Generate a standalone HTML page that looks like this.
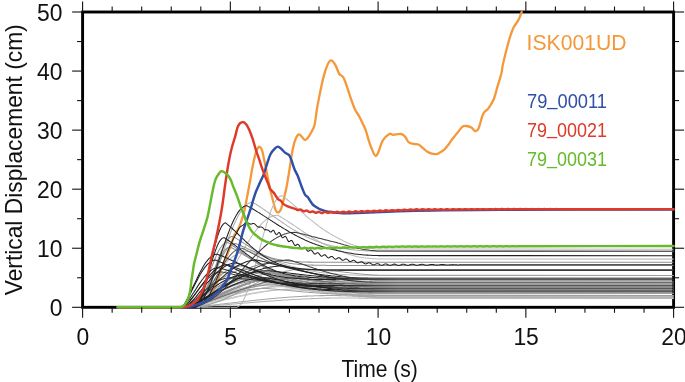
<!DOCTYPE html>
<html><head><meta charset="utf-8"><style>
html,body{margin:0;padding:0;background:#fff;}
svg{display:block;}
text{font-family:"Liberation Sans",sans-serif;}
.t{will-change:transform;}
</style></head><body>
<svg width="685" height="382" viewBox="0 0 685 382">
<rect width="685" height="382" fill="#fff"/>
<rect x="82.60" y="12.00" width="591.00" height="295.30" fill="none" stroke="#000" stroke-width="2.9"/>
<path d="M117.7,307.3 C128.6,307.3 170.9,307.5 183.0,307.3 C186.5,307.3 187.6,306.8 190.0,306.3 C192.4,305.8 195.0,305.4 197.3,304.4 C199.6,303.4 202.1,301.5 204.0,300.2 C205.9,298.9 207.0,298.2 208.6,296.6 C210.2,295.0 211.9,292.7 213.4,290.3 C214.9,287.9 216.4,284.3 217.3,282.1 C218.1,280.2 218.4,278.8 218.9,277.1 C219.4,275.4 220.0,273.7 220.5,272.0 C221.0,270.3 221.4,268.7 222.0,267.0 C222.6,265.3 223.1,263.9 223.9,262.0 C224.7,260.1 225.9,257.7 226.7,255.9 C227.5,254.1 228.0,252.8 228.6,251.2 C229.2,249.6 229.9,248.2 230.5,246.5 C231.1,244.8 231.8,242.5 232.4,240.8 C233.0,239.1 233.2,237.5 233.8,236.1 C234.4,234.7 235.3,233.7 236.1,232.4 C236.9,231.2 237.7,230.3 238.5,228.6 C239.3,226.9 240.3,224.1 241.0,222.0 C241.7,219.9 242.2,218.4 242.8,216.3 C243.4,214.2 244.1,212.1 244.6,209.7 C245.1,207.3 245.6,204.6 246.1,202.0 C246.6,199.4 247.1,196.9 247.6,194.3 C248.1,191.7 248.6,189.0 249.0,186.6 C249.4,184.2 249.8,182.7 250.3,180.0 C250.8,177.3 251.1,174.6 251.8,170.7 C252.6,166.7 253.9,159.9 254.9,156.1 C255.9,152.3 257.1,149.2 258.0,147.7 C258.9,146.2 259.4,146.8 260.1,147.3 C260.8,147.8 261.5,148.6 262.2,150.8 C262.9,153.0 263.6,157.0 264.3,160.3 C265.0,163.6 265.7,167.2 266.4,170.7 C267.1,174.2 267.9,178.0 268.5,181.2 C269.1,184.4 269.4,186.4 270.2,190.0 C271.1,193.6 272.7,199.6 273.6,203.0 C274.5,206.4 275.0,208.8 275.7,210.4 C276.4,212.0 277.0,212.5 277.8,212.5 C278.6,212.5 279.6,211.8 280.4,210.4 C281.2,209.0 281.8,206.6 282.5,204.1 C283.2,201.6 283.9,198.7 284.6,195.7 C285.3,192.7 286.0,190.1 286.7,186.3 C287.4,182.5 288.2,177.8 289.0,172.8 C289.8,167.8 290.6,161.3 291.5,156.1 C292.4,150.9 293.6,144.9 294.7,141.4 C295.8,137.9 296.9,136.2 297.8,135.1 C298.7,134.0 299.0,134.2 299.9,134.7 C300.8,135.2 302.2,137.4 303.1,138.3 C304.0,139.2 304.3,140.2 305.2,140.0 C306.1,139.8 307.3,138.5 308.3,137.2 C309.3,135.9 310.3,134.1 311.4,132.0 C312.4,129.9 313.7,128.4 314.6,124.7 C315.5,121.0 316.0,115.0 316.8,110.0 C317.6,105.0 318.5,100.6 319.6,95.0 C320.7,89.4 322.3,81.6 323.6,76.6 C324.9,71.6 326.3,67.6 327.5,64.9 C328.7,62.2 329.6,60.4 330.9,60.4 C332.2,60.4 333.9,62.6 335.3,64.9 C336.7,67.2 338.0,72.0 339.3,74.0 C340.6,76.0 341.9,75.0 343.2,77.2 C344.5,79.4 345.8,83.5 347.1,87.1 C348.4,90.7 349.7,95.2 351.0,98.9 C352.3,102.6 353.7,106.6 355.0,109.4 C356.3,112.2 357.6,113.5 358.9,115.9 C360.2,118.3 361.7,121.4 362.8,123.8 C363.9,126.2 364.6,126.9 365.7,130.1 C366.8,133.3 368.3,139.4 369.6,143.2 C370.9,147.0 372.5,150.9 373.5,153.0 C374.5,155.1 374.9,156.2 375.8,156.0 C376.7,155.8 377.5,154.1 378.6,151.5 C379.8,148.9 380.9,143.5 382.7,140.6 C384.5,137.7 387.6,135.0 389.3,134.0 C391.1,133.0 391.2,134.8 393.2,134.8 C395.1,134.8 399.0,133.7 401.0,134.0 C403.0,134.3 403.7,135.2 405.0,136.6 C406.3,138.0 407.4,141.2 408.9,142.4 C410.4,143.6 412.5,143.7 414.1,144.0 C415.7,144.3 417.1,143.8 418.6,144.5 C420.1,145.2 421.7,147.1 423.3,148.4 C424.9,149.7 426.5,151.4 428.5,152.4 C430.5,153.4 433.4,154.1 435.1,154.2 C436.9,154.3 437.5,153.8 439.0,153.1 C440.5,152.3 442.4,151.3 444.2,149.7 C445.9,148.0 448.2,144.8 449.5,143.2 C450.6,141.7 450.6,141.3 451.8,139.8 C453.1,138.2 455.2,135.5 457.0,133.3 C458.8,131.1 460.8,128.0 462.3,126.8 C463.8,125.6 464.7,125.9 466.2,126.0 C467.7,126.1 469.9,126.6 471.4,127.5 C472.9,128.4 474.1,131.1 475.3,131.2 C476.5,131.3 477.4,131.0 478.7,128.1 C480.0,125.2 481.6,117.0 483.2,113.7 C484.8,110.4 486.6,110.8 488.4,108.4 C490.1,106.0 492.2,103.0 493.7,99.3 C495.2,95.6 496.3,90.6 497.6,86.2 C498.9,81.8 500.6,76.6 501.5,73.1 C502.1,70.4 502.1,67.9 502.8,64.9 C503.8,60.4 506.2,50.8 507.5,45.8 C508.8,40.8 509.6,37.9 510.7,34.8 C511.8,31.7 512.5,29.5 513.8,27.0 C515.1,24.5 517.2,22.4 518.5,19.9 C519.8,17.4 521.2,13.3 521.7,12.0" stroke="#F4983A" fill="none" stroke-width="2.3" stroke-linejoin="round" stroke-linecap="round"/>
<g fill="none" stroke-width="1.05" stroke-linejoin="round" stroke-linecap="butt">
<path d="M118.1,307.3 L119.2,307.3 L120.4,307.3 L121.6,307.3 L122.8,307.3 L124.0,307.3 L125.2,307.3 L126.3,307.3 L127.5,307.3 L128.7,307.3 L129.9,307.3 L131.1,307.3 L132.2,307.3 L133.4,307.3 L134.6,307.3 L135.8,307.3 L137.0,307.3 L138.2,307.3 L139.3,307.3 L140.5,307.3 L141.7,307.3 L142.9,307.3 L144.1,307.3 L145.2,307.3 L146.4,307.3 L147.6,307.3 L148.8,307.3 L150.0,307.3 L151.2,307.3 L152.3,307.3 L153.5,307.3 L154.7,307.3 L155.9,307.3 L157.1,307.3 L158.2,307.3 L159.4,307.3 L160.6,307.3 L161.8,307.3 L163.0,307.3 L164.2,307.3 L165.3,307.3 L166.5,307.3 L167.7,307.3 L168.9,307.3 L170.1,307.3 L171.2,307.3 L172.4,307.3 L173.6,307.3 L174.8,307.3 L176.0,307.3 L177.2,307.3 L178.3,307.3 L179.5,307.3 L180.7,307.3 L181.9,307.3 L183.1,307.3 L184.3,307.3 L185.4,307.3 L186.6,307.3 L187.8,307.3 L189.0,307.2 L190.2,307.1 L191.3,306.9 L192.5,306.7 L193.7,306.6 L194.9,306.4 L196.1,306.2 L197.3,306.0 L198.4,305.7 L199.6,305.5 L200.8,305.3 L202.0,305.1 L203.2,304.8 L204.3,304.6 L205.5,304.3 L206.7,304.1 L207.9,303.8 L209.1,303.6 L210.3,303.3 L211.4,303.1 L212.6,302.8 L213.8,302.5 L215.0,302.3 L216.2,302.0 L217.3,301.7 L218.5,301.5 L219.7,301.2 L220.9,300.9 L222.1,300.6 L223.3,300.4 L224.4,300.1 L225.6,299.8 L226.8,299.5 L228.0,299.3 L229.2,299.0 L230.3,298.7 L231.5,298.4 L232.7,298.2 L233.9,297.9 L235.1,297.6 L236.3,297.4 L237.4,297.1 L238.6,296.8 L239.8,296.6 L241.0,296.3 L242.2,296.0 L243.4,295.8 L244.5,295.5 L245.7,295.3 L246.9,295.0 L248.1,294.8 L249.3,294.6 L250.4,294.3 L251.6,294.1 L252.8,293.8 L254.0,293.6 L255.2,293.4 L256.4,293.2 L257.5,293.0 L258.7,292.7 L259.9,292.5 L261.1,292.3 L262.3,292.1 L263.4,291.9 L264.6,291.7 L265.8,291.5 L267.0,291.4 L268.2,291.2 L269.4,291.0 L270.5,290.8 L271.7,290.7 L272.9,290.5 L274.1,290.4 L275.3,290.2 L276.4,290.1 L277.6,289.9 L278.8,289.8 L280.0,289.7 L281.2,289.6 L282.4,289.5 L283.5,289.3 L284.7,289.2 L285.9,289.1 L287.1,289.0 L288.3,289.0 L289.4,288.9 L290.6,288.8 L291.8,288.7 L293.0,288.7 L294.2,288.6 L295.4,288.6 L296.5,288.5 L297.7,288.5 L298.9,288.5 L300.1,288.4 L301.3,288.4 L302.5,288.4 L303.6,288.4 L304.8,288.5 L306.0,288.6 L307.2,288.7 L308.4,288.8 L309.5,288.9 L310.7,289.0 L311.9,289.1 L313.1,289.2 L314.3,289.3 L315.5,289.5 L316.6,289.6 L317.8,289.7 L319.0,289.8 L320.2,289.9 L321.4,290.1 L322.5,290.2 L323.7,290.3 L324.9,290.4 L326.1,290.6 L327.3,290.7 L328.5,290.8 L329.6,290.9 L330.8,291.1 L332.0,291.2 L333.2,291.3 L334.4,291.4 L335.5,291.6 L336.7,291.7 L337.9,291.9 L339.1,292.1 L340.3,292.3 L341.5,292.5 L342.6,292.7 L343.8,292.9 L345.0,293.1 L346.2,293.3 L347.4,293.5 L348.5,293.7 L349.7,294.0 L350.9,294.2 L352.1,294.4 L353.3,294.6 L354.5,294.8 L355.6,295.1 L356.8,295.3 L358.0,295.5 L359.2,295.7 L360.4,295.9 L361.6,296.0 L362.7,296.2 L363.9,296.4 L365.1,296.6 L366.3,296.7 L367.5,296.9 L368.6,297.0 L369.8,297.1 L371.0,297.3 L372.2,297.4 L373.4,297.5 L374.6,297.6 L375.7,297.7 L376.9,297.8 L378.1,297.9 L673.6,298.3" stroke="#cbcbcb"/>
<path d="M118.1,307.3 L119.2,307.3 L120.4,307.3 L121.6,307.3 L122.8,307.3 L124.0,307.3 L125.2,307.3 L126.3,307.3 L127.5,307.3 L128.7,307.3 L129.9,307.3 L131.1,307.3 L132.2,307.3 L133.4,307.3 L134.6,307.3 L135.8,307.3 L137.0,307.3 L138.2,307.3 L139.3,307.3 L140.5,307.3 L141.7,307.3 L142.9,307.3 L144.1,307.3 L145.2,307.3 L146.4,307.3 L147.6,307.3 L148.8,307.3 L150.0,307.3 L151.2,307.3 L152.3,307.3 L153.5,307.3 L154.7,307.3 L155.9,307.3 L157.1,307.3 L158.2,307.3 L159.4,307.3 L160.6,307.3 L161.8,307.3 L163.0,307.3 L164.2,307.3 L165.3,307.3 L166.5,307.3 L167.7,307.3 L168.9,307.3 L170.1,307.3 L171.2,307.3 L172.4,307.3 L173.6,307.3 L174.8,307.3 L176.0,307.3 L177.2,307.3 L178.3,307.3 L179.5,307.3 L180.7,307.3 L181.9,307.3 L183.1,307.3 L184.3,307.3 L185.4,307.3 L186.6,307.3 L187.8,307.3 L189.0,307.2 L190.2,307.0 L191.3,306.9 L192.5,306.7 L193.7,306.5 L194.9,306.3 L196.1,306.0 L197.3,305.8 L198.4,305.6 L199.6,305.3 L200.8,305.1 L202.0,304.8 L203.2,304.5 L204.3,304.3 L205.5,304.0 L206.7,303.7 L207.9,303.5 L209.1,303.2 L210.3,302.9 L211.4,302.6 L212.6,302.3 L213.8,302.0 L215.0,301.7 L216.2,301.4 L217.3,301.1 L218.5,300.8 L219.7,300.5 L220.9,300.3 L222.1,300.0 L223.3,299.7 L224.4,299.4 L225.6,299.1 L226.8,298.8 L228.0,298.5 L229.2,298.2 L230.3,297.9 L231.5,297.6 L232.7,297.3 L233.9,297.1 L235.1,296.8 L236.3,296.5 L237.4,296.2 L238.6,296.0 L239.8,295.7 L241.0,295.4 L242.2,295.2 L243.4,294.9 L244.5,294.7 L245.7,294.4 L246.9,294.2 L248.1,294.0 L249.3,293.7 L250.4,293.5 L251.6,293.3 L252.8,293.1 L254.0,292.9 L255.2,292.7 L256.4,292.5 L257.5,292.3 L258.7,292.1 L259.9,291.9 L261.1,291.7 L262.3,291.5 L263.4,291.4 L264.6,291.2 L265.8,291.1 L267.0,290.9 L268.2,290.8 L269.4,290.7 L270.5,290.5 L271.7,290.4 L272.9,290.3 L274.1,290.2 L275.3,290.1 L276.4,290.0 L277.6,290.0 L278.8,289.9 L280.0,289.8 L281.2,289.8 L282.4,289.7 L283.5,289.7 L284.7,289.6 L285.9,289.6 L287.1,289.6 L288.3,289.6 L289.4,289.6 L290.6,289.6 L291.8,289.7 L293.0,289.8 L294.2,289.8 L295.4,289.9 L296.5,290.0 L297.7,290.0 L298.9,290.1 L300.1,290.2 L301.3,290.2 L302.5,290.3 L303.6,290.4 L304.8,290.5 L306.0,290.5 L307.2,290.6 L308.4,290.7 L309.5,290.7 L310.7,290.8 L311.9,290.9 L313.1,291.0 L314.3,291.0 L315.5,291.1 L316.6,291.2 L317.8,291.3 L319.0,291.3 L320.2,291.4 L321.4,291.5 L322.5,291.6 L323.7,291.6 L324.9,291.7 L326.1,291.8 L327.3,291.8 L328.5,291.9 L329.6,292.0 L330.8,292.1 L332.0,292.1 L333.2,292.2 L334.4,292.3 L335.5,292.3 L336.7,292.4 L337.9,292.5 L339.1,292.6 L340.3,292.7 L341.5,292.8 L342.6,292.9 L343.8,293.0 L345.0,293.1 L346.2,293.2 L347.4,293.3 L348.5,293.4 L349.7,293.5 L350.9,293.6 L352.1,293.7 L353.3,293.8 L354.5,293.9 L355.6,294.0 L356.8,294.1 L358.0,294.2 L359.2,294.3 L360.4,294.4 L361.6,294.5 L362.7,294.5 L363.9,294.6 L365.1,294.7 L366.3,294.8 L367.5,294.8 L368.6,294.9 L369.8,294.9 L371.0,295.0 L372.2,295.1 L373.4,295.1 L374.6,295.1 L375.7,295.2 L376.9,295.2 L378.1,295.3 L673.6,295.4" stroke="#c3c3c3"/>
<path d="M118.1,307.3 L119.2,307.3 L120.4,307.3 L121.6,307.3 L122.8,307.3 L124.0,307.3 L125.2,307.3 L126.3,307.3 L127.5,307.3 L128.7,307.3 L129.9,307.3 L131.1,307.3 L132.2,307.3 L133.4,307.3 L134.6,307.3 L135.8,307.3 L137.0,307.3 L138.2,307.3 L139.3,307.3 L140.5,307.3 L141.7,307.3 L142.9,307.3 L144.1,307.3 L145.2,307.3 L146.4,307.3 L147.6,307.3 L148.8,307.3 L150.0,307.3 L151.2,307.3 L152.3,307.3 L153.5,307.3 L154.7,307.3 L155.9,307.3 L157.1,307.3 L158.2,307.3 L159.4,307.3 L160.6,307.3 L161.8,307.3 L163.0,307.3 L164.2,307.3 L165.3,307.3 L166.5,307.3 L167.7,307.3 L168.9,307.3 L170.1,307.3 L171.2,307.3 L172.4,307.3 L173.6,307.3 L174.8,307.3 L176.0,307.3 L177.2,307.3 L178.3,307.3 L179.5,307.3 L180.7,307.3 L181.9,307.3 L183.1,307.3 L184.3,307.3 L185.4,307.3 L186.6,307.3 L187.8,307.3 L189.0,307.3 L190.2,307.3 L191.3,307.3 L192.5,307.3 L193.7,307.3 L194.9,307.3 L196.1,307.3 L197.3,307.3 L198.4,307.3 L199.6,307.3 L200.8,307.3 L202.0,307.3 L203.2,307.3 L204.3,307.3 L205.5,307.3 L206.7,307.3 L207.9,307.3 L209.1,307.3 L210.3,307.3 L211.4,307.3 L212.6,307.3 L213.8,307.3 L215.0,307.3 L216.2,307.3 L217.3,307.3 L218.5,307.3 L219.7,307.3 L220.9,307.3 L222.1,307.3 L223.3,307.3 L224.4,307.3 L225.6,307.3 L226.8,307.3 L228.0,307.3 L229.2,307.3 L230.3,307.3 L231.5,307.3 L232.7,307.3 L233.9,307.3 L235.1,307.3 L236.3,307.3 L237.4,307.0 L238.6,306.4 L239.8,305.4 L241.0,304.1 L242.2,302.4 L243.4,300.4 L244.5,298.0 L245.7,295.4 L246.9,292.5 L248.1,289.3 L249.3,285.9 L250.4,282.3 L251.6,278.4 L252.8,274.4 L254.0,270.2 L255.2,265.9 L256.4,261.5 L257.5,257.1 L258.7,252.6 L259.9,248.1 L261.1,243.6 L262.3,239.2 L263.4,234.9 L264.6,230.7 L265.8,226.6 L267.0,222.6 L268.2,218.9 L269.4,215.3 L270.5,212.0 L271.7,209.0 L272.9,206.2 L274.1,203.7 L275.3,201.6 L276.4,199.7 L277.6,198.2 L278.8,197.0 L280.0,196.2 L281.2,195.8 L282.4,195.9 L283.5,196.8 L284.7,197.7 L285.9,198.6 L287.1,199.5 L288.3,200.5 L289.4,201.4 L290.6,202.4 L291.8,203.4 L293.0,204.4 L294.2,205.4 L295.4,206.5 L296.5,207.5 L297.7,208.5 L298.9,209.6 L300.1,210.6 L301.3,211.6 L302.5,212.7 L303.6,213.7 L304.8,214.7 L306.0,215.8 L307.2,216.8 L308.4,217.8 L309.5,218.8 L310.7,219.8 L311.9,220.7 L313.1,221.7 L314.3,222.6 L315.5,223.6 L316.6,224.5 L317.8,225.4 L319.0,226.3 L320.2,227.2 L321.4,228.0 L322.5,228.8 L323.7,229.7 L324.9,230.4 L326.1,231.2 L327.3,232.0 L328.5,232.7 L329.6,233.4 L330.8,234.1 L332.0,234.8 L333.2,235.5 L334.4,236.1 L335.5,236.7 L336.7,237.4 L337.9,238.0 L339.1,238.7 L340.3,239.3 L341.5,239.9 L342.6,240.5 L343.8,241.1 L345.0,241.7 L346.2,242.2 L347.4,242.8 L348.5,243.3 L349.7,243.8 L350.9,244.2 L352.1,244.6 L353.3,245.1 L354.5,245.4 L355.6,245.8 L356.8,246.1 L358.0,246.4 L359.2,246.7 L360.4,247.0 L361.6,247.3 L362.7,247.5 L363.9,247.7 L365.1,247.9 L366.3,248.0 L367.5,248.2 L368.6,248.3 L369.8,248.5 L371.0,248.6 L372.2,248.7 L373.4,248.8 L374.6,248.8 L375.7,248.9 L376.9,249.0 L378.1,249.0 L673.6,249.2" stroke="#bbbbbb"/>
<path d="M118.1,307.3 L119.2,307.3 L120.4,307.3 L121.6,307.3 L122.8,307.3 L124.0,307.3 L125.2,307.3 L126.3,307.3 L127.5,307.3 L128.7,307.3 L129.9,307.3 L131.1,307.3 L132.2,307.3 L133.4,307.3 L134.6,307.3 L135.8,307.3 L137.0,307.3 L138.2,307.3 L139.3,307.3 L140.5,307.3 L141.7,307.3 L142.9,307.3 L144.1,307.3 L145.2,307.3 L146.4,307.3 L147.6,307.3 L148.8,307.3 L150.0,307.3 L151.2,307.3 L152.3,307.3 L153.5,307.3 L154.7,307.3 L155.9,307.3 L157.1,307.3 L158.2,307.3 L159.4,307.3 L160.6,307.3 L161.8,307.3 L163.0,307.3 L164.2,307.3 L165.3,307.3 L166.5,307.3 L167.7,307.3 L168.9,307.3 L170.1,307.3 L171.2,307.3 L172.4,307.3 L173.6,307.3 L174.8,307.3 L176.0,307.3 L177.2,307.3 L178.3,307.3 L179.5,307.3 L180.7,307.3 L181.9,307.3 L183.1,307.3 L184.3,307.3 L185.4,307.3 L186.6,307.3 L187.8,307.3 L189.0,307.3 L190.2,307.3 L191.3,307.3 L192.5,307.3 L193.7,307.3 L194.9,307.3 L196.1,307.3 L197.3,307.3 L198.4,307.2 L199.6,306.9 L200.8,306.6 L202.0,306.2 L203.2,305.7 L204.3,305.1 L205.5,304.4 L206.7,303.7 L207.9,302.8 L209.1,301.9 L210.3,300.8 L211.4,299.7 L212.6,298.5 L213.8,297.2 L215.0,295.9 L216.2,294.5 L217.3,293.0 L218.5,291.4 L219.7,289.8 L220.9,288.1 L222.1,286.4 L223.3,284.6 L224.4,282.7 L225.6,280.8 L226.8,278.9 L228.0,277.0 L229.2,275.0 L230.3,272.9 L231.5,270.9 L232.7,268.8 L233.9,266.7 L235.1,264.7 L236.3,262.5 L237.4,260.4 L238.6,258.3 L239.8,256.2 L241.0,254.2 L242.2,252.1 L243.4,250.0 L244.5,248.0 L245.7,246.0 L246.9,244.0 L248.1,242.1 L249.3,240.2 L250.4,238.4 L251.6,236.5 L252.8,234.8 L254.0,233.1 L255.2,231.5 L256.4,229.9 L257.5,228.4 L258.7,226.9 L259.9,225.6 L261.1,224.3 L262.3,223.1 L263.4,221.9 L264.6,220.9 L265.8,219.9 L267.0,219.0 L268.2,218.2 L269.4,217.5 L270.5,216.9 L271.7,216.4 L272.9,215.9 L274.1,215.6 L275.3,215.4 L276.4,215.2 L277.6,215.2 L278.8,215.8 L280.0,216.5 L281.2,217.2 L282.4,217.9 L283.5,218.7 L284.7,219.4 L285.9,220.1 L287.1,220.9 L288.3,221.7 L289.4,222.5 L290.6,223.2 L291.8,224.0 L293.0,224.8 L294.2,225.6 L295.4,226.4 L296.5,227.2 L297.7,228.0 L298.9,228.8 L300.1,229.6 L301.3,230.4 L302.5,231.2 L303.6,232.0 L304.8,232.7 L306.0,233.5 L307.2,234.3 L308.4,235.0 L309.5,235.8 L310.7,236.5 L311.9,237.2 L313.1,238.0 L314.3,238.7 L315.5,239.4 L316.6,240.0 L317.8,240.7 L319.0,241.4 L320.2,242.0 L321.4,242.7 L322.5,243.3 L323.7,243.9 L324.9,244.5 L326.1,245.1 L327.3,245.6 L328.5,246.2 L329.6,246.7 L330.8,247.2 L332.0,247.7 L333.2,248.2 L334.4,248.7 L335.5,249.2 L336.7,249.7 L337.9,250.2 L339.1,250.7 L340.3,251.1 L341.5,251.6 L342.6,252.1 L343.8,252.5 L345.0,253.0 L346.2,253.4 L347.4,253.8 L348.5,254.2 L349.7,254.6 L350.9,255.0 L352.1,255.3 L353.3,255.6 L354.5,255.9 L355.6,256.2 L356.8,256.5 L358.0,256.7 L359.2,257.0 L360.4,257.2 L361.6,257.4 L362.7,257.6 L363.9,257.8 L365.1,257.9 L366.3,258.1 L367.5,258.2 L368.6,258.3 L369.8,258.4 L371.0,258.5 L372.2,258.6 L373.4,258.7 L374.6,258.7 L375.7,258.8 L376.9,258.9 L378.1,258.9 L673.6,259.1" stroke="#bbbbbb"/>
<path d="M118.1,307.3 L119.2,307.3 L120.4,307.3 L121.6,307.3 L122.8,307.3 L124.0,307.3 L125.2,307.3 L126.3,307.3 L127.5,307.3 L128.7,307.3 L129.9,307.3 L131.1,307.3 L132.2,307.3 L133.4,307.3 L134.6,307.3 L135.8,307.3 L137.0,307.3 L138.2,307.3 L139.3,307.3 L140.5,307.3 L141.7,307.3 L142.9,307.3 L144.1,307.3 L145.2,307.3 L146.4,307.3 L147.6,307.3 L148.8,307.3 L150.0,307.3 L151.2,307.3 L152.3,307.3 L153.5,307.3 L154.7,307.3 L155.9,307.3 L157.1,307.3 L158.2,307.3 L159.4,307.3 L160.6,307.3 L161.8,307.3 L163.0,307.3 L164.2,307.3 L165.3,307.3 L166.5,307.3 L167.7,307.3 L168.9,307.3 L170.1,307.3 L171.2,307.3 L172.4,307.3 L173.6,307.3 L174.8,307.3 L176.0,307.3 L177.2,307.3 L178.3,307.3 L179.5,307.3 L180.7,307.3 L181.9,307.3 L183.1,307.3 L184.3,307.3 L185.4,307.2 L186.6,306.9 L187.8,306.5 L189.0,306.1 L190.2,305.6 L191.3,305.1 L192.5,304.6 L193.7,304.0 L194.9,303.4 L196.1,302.9 L197.3,302.3 L198.4,301.6 L199.6,301.0 L200.8,300.4 L202.0,299.8 L203.2,299.1 L204.3,298.5 L205.5,297.8 L206.7,297.2 L207.9,296.5 L209.1,295.9 L210.3,295.2 L211.4,294.6 L212.6,293.9 L213.8,293.3 L215.0,292.7 L216.2,292.0 L217.3,291.4 L218.5,290.8 L219.7,290.2 L220.9,289.6 L222.1,289.1 L223.3,288.5 L224.4,288.0 L225.6,287.4 L226.8,286.9 L228.0,286.4 L229.2,285.9 L230.3,285.5 L231.5,285.0 L232.7,284.6 L233.9,284.2 L235.1,283.8 L236.3,283.5 L237.4,283.1 L238.6,282.8 L239.8,282.5 L241.0,282.2 L242.2,282.0 L243.4,281.7 L244.5,281.5 L245.7,281.3 L246.9,281.2 L248.1,281.0 L249.3,280.9 L250.4,280.8 L251.6,280.8 L252.8,280.7 L254.0,280.7 L255.2,280.9 L256.4,281.1 L257.5,281.3 L258.7,281.5 L259.9,281.8 L261.1,282.0 L262.3,282.2 L263.4,282.4 L264.6,282.6 L265.8,282.9 L267.0,283.1 L268.2,283.3 L269.4,283.6 L270.5,283.8 L271.7,284.0 L272.9,284.3 L274.1,284.5 L275.3,284.8 L276.4,285.0 L277.6,285.2 L278.8,285.5 L280.0,285.7 L281.2,285.9 L282.4,286.2 L283.5,286.4 L284.7,286.6 L285.9,286.9 L287.1,287.1 L288.3,287.3 L289.4,287.5 L290.6,287.8 L291.8,288.0 L293.0,288.2 L294.2,288.4 L295.4,288.6 L296.5,288.8 L297.7,289.0 L298.9,289.2 L300.1,289.4 L301.3,289.6 L302.5,289.8 L303.6,290.0 L304.8,290.2 L306.0,290.4 L307.2,290.5 L308.4,290.7 L309.5,290.9 L310.7,291.0 L311.9,291.2 L313.1,291.4 L314.3,291.5 L315.5,291.7 L316.6,291.8 L317.8,291.9 L319.0,292.1 L320.2,292.2 L321.4,292.3 L322.5,292.5 L323.7,292.6 L324.9,292.7 L326.1,292.8 L327.3,292.9 L328.5,293.0 L329.6,293.2 L330.8,293.3 L332.0,293.3 L333.2,293.4 L334.4,293.5 L335.5,293.6 L336.7,293.7 L337.9,293.8 L339.1,293.9 L340.3,294.0 L341.5,294.1 L342.6,294.2 L343.8,294.2 L345.0,294.3 L346.2,294.4 L347.4,294.5 L348.5,294.5 L349.7,294.6 L350.9,294.7 L352.1,294.7 L353.3,294.8 L354.5,294.9 L355.6,294.9 L356.8,295.0 L358.0,295.0 L359.2,295.0 L360.4,295.1 L361.6,295.1 L362.7,295.2 L363.9,295.2 L365.1,295.2 L366.3,295.2 L367.5,295.3 L368.6,295.3 L369.8,295.3 L371.0,295.3 L372.2,295.3 L373.4,295.4 L374.6,295.4 L375.7,295.4 L376.9,295.4 L378.1,295.4 L673.6,295.4" stroke="#bbbbbb"/>
<path d="M118.1,307.3 L119.2,307.3 L120.4,307.3 L121.6,307.3 L122.8,307.3 L124.0,307.3 L125.2,307.3 L126.3,307.3 L127.5,307.3 L128.7,307.3 L129.9,307.3 L131.1,307.3 L132.2,307.3 L133.4,307.3 L134.6,307.3 L135.8,307.3 L137.0,307.3 L138.2,307.3 L139.3,307.3 L140.5,307.3 L141.7,307.3 L142.9,307.3 L144.1,307.3 L145.2,307.3 L146.4,307.3 L147.6,307.3 L148.8,307.3 L150.0,307.3 L151.2,307.3 L152.3,307.3 L153.5,307.3 L154.7,307.3 L155.9,307.3 L157.1,307.3 L158.2,307.3 L159.4,307.3 L160.6,307.3 L161.8,307.3 L163.0,307.3 L164.2,307.3 L165.3,307.3 L166.5,307.3 L167.7,307.3 L168.9,307.3 L170.1,307.3 L171.2,307.3 L172.4,307.3 L173.6,307.3 L174.8,307.3 L176.0,307.3 L177.2,307.3 L178.3,307.3 L179.5,307.3 L180.7,307.3 L181.9,307.3 L183.1,307.3 L184.3,307.3 L185.4,307.3 L186.6,307.2 L187.8,307.1 L189.0,306.9 L190.2,306.6 L191.3,306.4 L192.5,306.1 L193.7,305.8 L194.9,305.5 L196.1,305.2 L197.3,304.8 L198.4,304.5 L199.6,304.1 L200.8,303.8 L202.0,303.4 L203.2,303.1 L204.3,302.7 L205.5,302.3 L206.7,301.9 L207.9,301.5 L209.1,301.1 L210.3,300.7 L211.4,300.3 L212.6,299.9 L213.8,299.5 L215.0,299.1 L216.2,298.7 L217.3,298.3 L218.5,297.9 L219.7,297.5 L220.9,297.1 L222.1,296.7 L223.3,296.3 L224.4,295.9 L225.6,295.5 L226.8,295.1 L228.0,294.7 L229.2,294.3 L230.3,293.9 L231.5,293.5 L232.7,293.1 L233.9,292.7 L235.1,292.3 L236.3,292.0 L237.4,291.6 L238.6,291.2 L239.8,290.9 L241.0,290.5 L242.2,290.1 L243.4,289.8 L244.5,289.5 L245.7,289.1 L246.9,288.8 L248.1,288.5 L249.3,288.2 L250.4,287.8 L251.6,287.5 L252.8,287.2 L254.0,287.0 L255.2,286.7 L256.4,286.4 L257.5,286.1 L258.7,285.9 L259.9,285.6 L261.1,285.4 L262.3,285.2 L263.4,284.9 L264.6,284.7 L265.8,284.5 L267.0,284.3 L268.2,284.2 L269.4,284.0 L270.5,283.8 L271.7,283.7 L272.9,283.5 L274.1,283.4 L275.3,283.2 L276.4,283.1 L277.6,283.0 L278.8,282.9 L280.0,282.8 L281.2,282.7 L282.4,282.7 L283.5,282.6 L284.7,282.6 L285.9,282.5 L287.1,282.5 L288.3,282.5 L289.4,282.5 L290.6,282.6 L291.8,282.8 L293.0,283.0 L294.2,283.1 L295.4,283.3 L296.5,283.4 L297.7,283.6 L298.9,283.8 L300.1,283.9 L301.3,284.1 L302.5,284.3 L303.6,284.4 L304.8,284.6 L306.0,284.8 L307.2,285.0 L308.4,285.1 L309.5,285.3 L310.7,285.5 L311.9,285.7 L313.1,285.9 L314.3,286.0 L315.5,286.2 L316.6,286.4 L317.8,286.6 L319.0,286.8 L320.2,286.9 L321.4,287.1 L322.5,287.3 L323.7,287.5 L324.9,287.6 L326.1,287.8 L327.3,288.0 L328.5,288.1 L329.6,288.3 L330.8,288.5 L332.0,288.7 L333.2,288.8 L334.4,289.0 L335.5,289.2 L336.7,289.3 L337.9,289.5 L339.1,289.8 L340.3,290.0 L341.5,290.2 L342.6,290.4 L343.8,290.6 L345.0,290.8 L346.2,291.1 L347.4,291.3 L348.5,291.5 L349.7,291.7 L350.9,291.9 L352.1,292.2 L353.3,292.4 L354.5,292.6 L355.6,292.8 L356.8,293.0 L358.0,293.1 L359.2,293.3 L360.4,293.5 L361.6,293.6 L362.7,293.8 L363.9,293.9 L365.1,294.1 L366.3,294.2 L367.5,294.3 L368.6,294.5 L369.8,294.6 L371.0,294.7 L372.2,294.8 L373.4,294.8 L374.6,294.9 L375.7,295.0 L376.9,295.1 L378.1,295.1 L673.6,295.4" stroke="#bbbbbb"/>
<path d="M118.1,307.3 L119.2,307.3 L120.4,307.3 L121.6,307.3 L122.8,307.3 L124.0,307.3 L125.2,307.3 L126.3,307.3 L127.5,307.3 L128.7,307.3 L129.9,307.3 L131.1,307.3 L132.2,307.3 L133.4,307.3 L134.6,307.3 L135.8,307.3 L137.0,307.3 L138.2,307.3 L139.3,307.3 L140.5,307.3 L141.7,307.3 L142.9,307.3 L144.1,307.3 L145.2,307.3 L146.4,307.3 L147.6,307.3 L148.8,307.3 L150.0,307.3 L151.2,307.3 L152.3,307.3 L153.5,307.3 L154.7,307.3 L155.9,307.3 L157.1,307.3 L158.2,307.3 L159.4,307.3 L160.6,307.3 L161.8,307.3 L163.0,307.3 L164.2,307.3 L165.3,307.3 L166.5,307.3 L167.7,307.3 L168.9,307.3 L170.1,307.3 L171.2,307.3 L172.4,307.3 L173.6,307.3 L174.8,307.3 L176.0,307.3 L177.2,307.3 L178.3,307.3 L179.5,307.3 L180.7,307.3 L181.9,307.3 L183.1,307.3 L184.3,307.3 L185.4,307.3 L186.6,307.2 L187.8,307.0 L189.0,306.8 L190.2,306.5 L191.3,306.2 L192.5,305.8 L193.7,305.5 L194.9,305.1 L196.1,304.7 L197.3,304.3 L198.4,303.9 L199.6,303.5 L200.8,303.0 L202.0,302.6 L203.2,302.2 L204.3,301.7 L205.5,301.3 L206.7,300.8 L207.9,300.3 L209.1,299.9 L210.3,299.4 L211.4,299.0 L212.6,298.5 L213.8,298.0 L215.0,297.5 L216.2,297.1 L217.3,296.6 L218.5,296.2 L219.7,295.7 L220.9,295.2 L222.1,294.8 L223.3,294.3 L224.4,293.9 L225.6,293.4 L226.8,293.0 L228.0,292.6 L229.2,292.1 L230.3,291.7 L231.5,291.3 L232.7,290.9 L233.9,290.5 L235.1,290.1 L236.3,289.7 L237.4,289.4 L238.6,289.0 L239.8,288.6 L241.0,288.3 L242.2,288.0 L243.4,287.7 L244.5,287.3 L245.7,287.0 L246.9,286.8 L248.1,286.5 L249.3,286.2 L250.4,286.0 L251.6,285.7 L252.8,285.5 L254.0,285.3 L255.2,285.1 L256.4,284.9 L257.5,284.7 L258.7,284.5 L259.9,284.4 L261.1,284.3 L262.3,284.1 L263.4,284.0 L264.6,283.9 L265.8,283.9 L267.0,283.8 L268.2,283.7 L269.4,283.7 L270.5,283.7 L271.7,283.7 L272.9,283.8 L274.1,284.0 L275.3,284.2 L276.4,284.4 L277.6,284.6 L278.8,284.7 L280.0,284.9 L281.2,285.1 L282.4,285.3 L283.5,285.5 L284.7,285.7 L285.9,285.9 L287.1,286.1 L288.3,286.3 L289.4,286.5 L290.6,286.7 L291.8,286.9 L293.0,287.1 L294.2,287.3 L295.4,287.5 L296.5,287.7 L297.7,287.9 L298.9,288.1 L300.1,288.3 L301.3,288.5 L302.5,288.7 L303.6,288.9 L304.8,289.1 L306.0,289.3 L307.2,289.5 L308.4,289.7 L309.5,289.9 L310.7,290.1 L311.9,290.3 L313.1,290.5 L314.3,290.7 L315.5,290.8 L316.6,291.0 L317.8,291.2 L319.0,291.4 L320.2,291.5 L321.4,291.7 L322.5,291.9 L323.7,292.0 L324.9,292.2 L326.1,292.4 L327.3,292.5 L328.5,292.7 L329.6,292.8 L330.8,292.9 L332.0,293.1 L333.2,293.2 L334.4,293.4 L335.5,293.5 L336.7,293.6 L337.9,293.8 L339.1,293.9 L340.3,294.1 L341.5,294.2 L342.6,294.4 L343.8,294.5 L345.0,294.7 L346.2,294.8 L347.4,294.9 L348.5,295.1 L349.7,295.2 L350.9,295.3 L352.1,295.5 L353.3,295.6 L354.5,295.7 L355.6,295.8 L356.8,295.9 L358.0,296.0 L359.2,296.1 L360.4,296.2 L361.6,296.2 L362.7,296.3 L363.9,296.4 L365.1,296.5 L366.3,296.5 L367.5,296.6 L368.6,296.6 L369.8,296.7 L371.0,296.7 L372.2,296.8 L373.4,296.8 L374.6,296.8 L375.7,296.9 L376.9,296.9 L378.1,296.9 L673.6,297.0" stroke="#bbbbbb"/>
<path d="M118.1,307.3 L119.2,307.3 L120.4,307.3 L121.6,307.3 L122.8,307.3 L124.0,307.3 L125.2,307.3 L126.3,307.3 L127.5,307.3 L128.7,307.3 L129.9,307.3 L131.1,307.3 L132.2,307.3 L133.4,307.3 L134.6,307.3 L135.8,307.3 L137.0,307.3 L138.2,307.3 L139.3,307.3 L140.5,307.3 L141.7,307.3 L142.9,307.3 L144.1,307.3 L145.2,307.3 L146.4,307.3 L147.6,307.3 L148.8,307.3 L150.0,307.3 L151.2,307.3 L152.3,307.3 L153.5,307.3 L154.7,307.3 L155.9,307.3 L157.1,307.3 L158.2,307.3 L159.4,307.3 L160.6,307.3 L161.8,307.3 L163.0,307.3 L164.2,307.3 L165.3,307.3 L166.5,307.3 L167.7,307.3 L168.9,307.3 L170.1,307.3 L171.2,307.3 L172.4,307.3 L173.6,307.3 L174.8,307.3 L176.0,307.3 L177.2,307.3 L178.3,307.3 L179.5,307.3 L180.7,307.3 L181.9,307.3 L183.1,307.3 L184.3,307.3 L185.4,307.3 L186.6,307.3 L187.8,307.1 L189.0,306.9 L190.2,306.7 L191.3,306.5 L192.5,306.3 L193.7,306.0 L194.9,305.8 L196.1,305.5 L197.3,305.2 L198.4,304.9 L199.6,304.6 L200.8,304.3 L202.0,304.0 L203.2,303.7 L204.3,303.4 L205.5,303.1 L206.7,302.8 L207.9,302.4 L209.1,302.1 L210.3,301.8 L211.4,301.4 L212.6,301.1 L213.8,300.7 L215.0,300.4 L216.2,300.0 L217.3,299.7 L218.5,299.3 L219.7,299.0 L220.9,298.7 L222.1,298.3 L223.3,298.0 L224.4,297.6 L225.6,297.3 L226.8,296.9 L228.0,296.6 L229.2,296.2 L230.3,295.9 L231.5,295.5 L232.7,295.2 L233.9,294.9 L235.1,294.5 L236.3,294.2 L237.4,293.9 L238.6,293.6 L239.8,293.2 L241.0,292.9 L242.2,292.6 L243.4,292.3 L244.5,292.0 L245.7,291.7 L246.9,291.4 L248.1,291.1 L249.3,290.8 L250.4,290.5 L251.6,290.3 L252.8,290.0 L254.0,289.7 L255.2,289.5 L256.4,289.2 L257.5,289.0 L258.7,288.7 L259.9,288.5 L261.1,288.3 L262.3,288.0 L263.4,287.8 L264.6,287.6 L265.8,287.4 L267.0,287.2 L268.2,287.0 L269.4,286.8 L270.5,286.7 L271.7,286.5 L272.9,286.4 L274.1,286.2 L275.3,286.1 L276.4,285.9 L277.6,285.8 L278.8,285.7 L280.0,285.6 L281.2,285.5 L282.4,285.4 L283.5,285.3 L284.7,285.2 L285.9,285.1 L287.1,285.1 L288.3,285.0 L289.4,285.0 L290.6,284.9 L291.8,284.9 L293.0,284.9 L294.2,284.9 L295.4,284.9 L296.5,285.0 L297.7,285.2 L298.9,285.3 L300.1,285.5 L301.3,285.7 L302.5,285.8 L303.6,286.0 L304.8,286.2 L306.0,286.4 L307.2,286.5 L308.4,286.7 L309.5,286.9 L310.7,287.1 L311.9,287.2 L313.1,287.4 L314.3,287.6 L315.5,287.8 L316.6,288.0 L317.8,288.2 L319.0,288.4 L320.2,288.5 L321.4,288.7 L322.5,288.9 L323.7,289.1 L324.9,289.3 L326.1,289.5 L327.3,289.7 L328.5,289.8 L329.6,290.0 L330.8,290.2 L332.0,290.4 L333.2,290.6 L334.4,290.7 L335.5,290.9 L336.7,291.1 L337.9,291.4 L339.1,291.6 L340.3,291.8 L341.5,292.1 L342.6,292.3 L343.8,292.6 L345.0,292.8 L346.2,293.1 L347.4,293.4 L348.5,293.6 L349.7,293.9 L350.9,294.1 L352.1,294.4 L353.3,294.6 L354.5,294.9 L355.6,295.1 L356.8,295.3 L358.0,295.5 L359.2,295.7 L360.4,295.9 L361.6,296.1 L362.7,296.3 L363.9,296.5 L365.1,296.7 L366.3,296.8 L367.5,297.0 L368.6,297.1 L369.8,297.2 L371.0,297.4 L372.2,297.5 L373.4,297.6 L374.6,297.7 L375.7,297.8 L376.9,297.9 L378.1,297.9 L673.6,298.3" stroke="#bbbbbb"/>
<path d="M118.1,307.3 L119.2,307.3 L120.4,307.3 L121.6,307.3 L122.8,307.3 L124.0,307.3 L125.2,307.3 L126.3,307.3 L127.5,307.3 L128.7,307.3 L129.9,307.3 L131.1,307.3 L132.2,307.3 L133.4,307.3 L134.6,307.3 L135.8,307.3 L137.0,307.3 L138.2,307.3 L139.3,307.3 L140.5,307.3 L141.7,307.3 L142.9,307.3 L144.1,307.3 L145.2,307.3 L146.4,307.3 L147.6,307.3 L148.8,307.3 L150.0,307.3 L151.2,307.3 L152.3,307.3 L153.5,307.3 L154.7,307.3 L155.9,307.3 L157.1,307.3 L158.2,307.3 L159.4,307.3 L160.6,307.3 L161.8,307.3 L163.0,307.3 L164.2,307.3 L165.3,307.3 L166.5,307.3 L167.7,307.3 L168.9,307.3 L170.1,307.3 L171.2,307.3 L172.4,307.3 L173.6,307.3 L174.8,307.3 L176.0,307.3 L177.2,307.3 L178.3,307.3 L179.5,307.3 L180.7,307.3 L181.9,307.3 L183.1,307.3 L184.3,307.3 L185.4,307.3 L186.6,307.3 L187.8,307.1 L189.0,306.9 L190.2,306.7 L191.3,306.5 L192.5,306.2 L193.7,305.9 L194.9,305.7 L196.1,305.4 L197.3,305.1 L198.4,304.8 L199.6,304.5 L200.8,304.1 L202.0,303.8 L203.2,303.5 L204.3,303.1 L205.5,302.8 L206.7,302.5 L207.9,302.1 L209.1,301.8 L210.3,301.4 L211.4,301.1 L212.6,300.7 L213.8,300.3 L215.0,300.0 L216.2,299.6 L217.3,299.3 L218.5,298.9 L219.7,298.5 L220.9,298.2 L222.1,297.8 L223.3,297.5 L224.4,297.1 L225.6,296.8 L226.8,296.4 L228.0,296.1 L229.2,295.7 L230.3,295.4 L231.5,295.0 L232.7,294.7 L233.9,294.4 L235.1,294.0 L236.3,293.7 L237.4,293.4 L238.6,293.1 L239.8,292.8 L241.0,292.5 L242.2,292.2 L243.4,291.9 L244.5,291.6 L245.7,291.3 L246.9,291.1 L248.1,290.8 L249.3,290.5 L250.4,290.3 L251.6,290.0 L252.8,289.8 L254.0,289.6 L255.2,289.3 L256.4,289.1 L257.5,288.9 L258.7,288.7 L259.9,288.5 L261.1,288.4 L262.3,288.2 L263.4,288.0 L264.6,287.9 L265.8,287.7 L267.0,287.6 L268.2,287.4 L269.4,287.3 L270.5,287.2 L271.7,287.1 L272.9,287.0 L274.1,286.9 L275.3,286.9 L276.4,286.8 L277.6,286.8 L278.8,286.7 L280.0,286.7 L281.2,286.6 L282.4,286.6 L283.5,286.6 L284.7,286.7 L285.9,286.9 L287.1,287.0 L288.3,287.1 L289.4,287.3 L290.6,287.4 L291.8,287.5 L293.0,287.6 L294.2,287.8 L295.4,287.9 L296.5,288.1 L297.7,288.2 L298.9,288.3 L300.1,288.5 L301.3,288.6 L302.5,288.8 L303.6,288.9 L304.8,289.0 L306.0,289.2 L307.2,289.3 L308.4,289.5 L309.5,289.6 L310.7,289.8 L311.9,289.9 L313.1,290.0 L314.3,290.2 L315.5,290.3 L316.6,290.5 L317.8,290.6 L319.0,290.8 L320.2,290.9 L321.4,291.0 L322.5,291.2 L323.7,291.3 L324.9,291.4 L326.1,291.6 L327.3,291.7 L328.5,291.8 L329.6,292.0 L330.8,292.1 L332.0,292.2 L333.2,292.4 L334.4,292.5 L335.5,292.6 L336.7,292.8 L337.9,292.9 L339.1,293.0 L340.3,293.2 L341.5,293.4 L342.6,293.5 L343.8,293.7 L345.0,293.8 L346.2,294.0 L347.4,294.2 L348.5,294.3 L349.7,294.5 L350.9,294.6 L352.1,294.8 L353.3,294.9 L354.5,295.1 L355.6,295.2 L356.8,295.3 L358.0,295.5 L359.2,295.6 L360.4,295.7 L361.6,295.8 L362.7,295.9 L363.9,296.0 L365.1,296.1 L366.3,296.2 L367.5,296.3 L368.6,296.4 L369.8,296.4 L371.0,296.5 L372.2,296.6 L373.4,296.6 L374.6,296.7 L375.7,296.7 L376.9,296.8 L378.1,296.8 L673.6,297.0" stroke="#bbbbbb"/>
<path d="M118.1,307.3 L119.2,307.3 L120.4,307.3 L121.6,307.3 L122.8,307.3 L124.0,307.3 L125.2,307.3 L126.3,307.3 L127.5,307.3 L128.7,307.3 L129.9,307.3 L131.1,307.3 L132.2,307.3 L133.4,307.3 L134.6,307.3 L135.8,307.3 L137.0,307.3 L138.2,307.3 L139.3,307.3 L140.5,307.3 L141.7,307.3 L142.9,307.3 L144.1,307.3 L145.2,307.3 L146.4,307.3 L147.6,307.3 L148.8,307.3 L150.0,307.3 L151.2,307.3 L152.3,307.3 L153.5,307.3 L154.7,307.3 L155.9,307.3 L157.1,307.3 L158.2,307.3 L159.4,307.3 L160.6,307.3 L161.8,307.3 L163.0,307.3 L164.2,307.3 L165.3,307.3 L166.5,307.3 L167.7,307.3 L168.9,307.3 L170.1,307.3 L171.2,307.3 L172.4,307.3 L173.6,307.3 L174.8,307.3 L176.0,307.3 L177.2,307.3 L178.3,307.3 L179.5,307.3 L180.7,307.3 L181.9,307.3 L183.1,307.3 L184.3,307.3 L185.4,307.3 L186.6,307.3 L187.8,307.2 L189.0,306.5 L190.2,305.6 L191.3,304.5 L192.5,303.3 L193.7,302.1 L194.9,300.8 L196.1,299.4 L197.3,298.0 L198.4,296.6 L199.6,295.1 L200.8,293.6 L202.0,292.1 L203.2,290.5 L204.3,289.0 L205.5,287.4 L206.7,285.8 L207.9,284.3 L209.1,282.7 L210.3,281.1 L211.4,279.6 L212.6,278.0 L213.8,276.5 L215.0,275.0 L216.2,273.5 L217.3,272.1 L218.5,270.7 L219.7,269.3 L220.9,267.9 L222.1,266.6 L223.3,265.3 L224.4,264.1 L225.6,262.9 L226.8,261.8 L228.0,260.7 L229.2,259.6 L230.3,258.6 L231.5,257.7 L232.7,256.8 L233.9,256.0 L235.1,255.3 L236.3,254.6 L237.4,253.9 L238.6,253.4 L239.8,252.9 L241.0,252.4 L242.2,252.0 L243.4,251.7 L244.5,251.5 L245.7,251.3 L246.9,251.2 L248.1,251.2 L249.3,251.6 L250.4,251.9 L251.6,252.3 L252.8,252.7 L254.0,253.1 L255.2,253.5 L256.4,253.9 L257.5,254.4 L258.7,254.8 L259.9,255.2 L261.1,255.6 L262.3,256.1 L263.4,256.5 L264.6,256.9 L265.8,257.4 L267.0,257.8 L268.2,258.3 L269.4,258.7 L270.5,259.1 L271.7,259.6 L272.9,260.0 L274.1,260.4 L275.3,260.9 L276.4,261.3 L277.6,261.7 L278.8,262.1 L280.0,262.5 L281.2,263.0 L282.4,263.4 L283.5,263.8 L284.7,264.1 L285.9,264.5 L287.1,264.9 L288.3,265.3 L289.4,265.6 L290.6,266.0 L291.8,266.3 L293.0,266.7 L294.2,267.0 L295.4,267.3 L296.5,267.7 L297.7,268.0 L298.9,268.3 L300.1,268.6 L301.3,268.9 L302.5,269.1 L303.6,269.4 L304.8,269.7 L306.0,269.9 L307.2,270.2 L308.4,270.4 L309.5,270.6 L310.7,270.9 L311.9,271.1 L313.1,271.3 L314.3,271.5 L315.5,271.7 L316.6,271.9 L317.8,272.0 L319.0,272.2 L320.2,272.4 L321.4,272.5 L322.5,272.7 L323.7,272.8 L324.9,273.0 L326.1,273.1 L327.3,273.2 L328.5,273.3 L329.6,273.5 L330.8,273.6 L332.0,273.7 L333.2,273.8 L334.4,273.9 L335.5,274.0 L336.7,274.1 L337.9,274.2 L339.1,274.2 L340.3,274.3 L341.5,274.4 L342.6,274.5 L343.8,274.6 L345.0,274.6 L346.2,274.7 L347.4,274.8 L348.5,274.8 L349.7,274.9 L350.9,274.9 L352.1,275.0 L353.3,275.0 L354.5,275.0 L355.6,275.1 L356.8,275.1 L358.0,275.2 L359.2,275.2 L360.4,275.2 L361.6,275.2 L362.7,275.3 L363.9,275.3 L365.1,275.3 L366.3,275.3 L367.5,275.3 L368.6,275.3 L369.8,275.3 L371.0,275.4 L372.2,275.4 L373.4,275.4 L374.6,275.4 L375.7,275.4 L376.9,275.4 L378.1,275.4 L673.6,275.4" stroke="#bbbbbb"/>
<path d="M118.1,307.3 L119.2,307.3 L120.4,307.3 L121.6,307.3 L122.8,307.3 L124.0,307.3 L125.2,307.3 L126.3,307.3 L127.5,307.3 L128.7,307.3 L129.9,307.3 L131.1,307.3 L132.2,307.3 L133.4,307.3 L134.6,307.3 L135.8,307.3 L137.0,307.3 L138.2,307.3 L139.3,307.3 L140.5,307.3 L141.7,307.3 L142.9,307.3 L144.1,307.3 L145.2,307.3 L146.4,307.3 L147.6,307.3 L148.8,307.3 L150.0,307.3 L151.2,307.3 L152.3,307.3 L153.5,307.3 L154.7,307.3 L155.9,307.3 L157.1,307.3 L158.2,307.3 L159.4,307.3 L160.6,307.3 L161.8,307.3 L163.0,307.3 L164.2,307.3 L165.3,307.3 L166.5,307.3 L167.7,307.3 L168.9,307.3 L170.1,307.3 L171.2,307.3 L172.4,307.3 L173.6,307.3 L174.8,307.3 L176.0,307.3 L177.2,307.3 L178.3,307.3 L179.5,307.3 L180.7,307.3 L181.9,307.3 L183.1,307.3 L184.3,307.3 L185.4,307.3 L186.6,307.3 L187.8,307.3 L189.0,307.2 L190.2,307.2 L191.3,307.1 L192.5,307.0 L193.7,307.0 L194.9,306.9 L196.1,306.8 L197.3,306.8 L198.4,306.7 L199.6,306.6 L200.8,306.6 L202.0,306.5 L203.2,306.4 L204.3,306.3 L205.5,306.2 L206.7,306.1 L207.9,306.1 L209.1,306.0 L210.3,305.9 L211.4,305.8 L212.6,305.7 L213.8,305.6 L215.0,305.5 L216.2,305.4 L217.3,305.3 L218.5,305.2 L219.7,305.2 L220.9,305.1 L222.1,305.0 L223.3,304.9 L224.4,304.8 L225.6,304.7 L226.8,304.6 L228.0,304.5 L229.2,304.4 L230.3,304.3 L231.5,304.2 L232.7,304.1 L233.9,304.0 L235.1,303.9 L236.3,303.8 L237.4,303.7 L238.6,303.6 L239.8,303.5 L241.0,303.4 L242.2,303.3 L243.4,303.2 L244.5,303.1 L245.7,303.0 L246.9,302.9 L248.1,302.8 L249.3,302.7 L250.4,302.6 L251.6,302.5 L252.8,302.4 L254.0,302.3 L255.2,302.2 L256.4,302.1 L257.5,302.0 L258.7,301.9 L259.9,301.8 L261.1,301.8 L262.3,301.7 L263.4,301.6 L264.6,301.5 L265.8,301.4 L267.0,301.3 L268.2,301.2 L269.4,301.1 L270.5,301.0 L271.7,300.9 L272.9,300.9 L274.1,300.8 L275.3,300.7 L276.4,300.6 L277.6,300.5 L278.8,300.4 L280.0,300.4 L281.2,300.3 L282.4,300.2 L283.5,300.1 L284.7,300.0 L285.9,300.0 L287.1,299.9 L288.3,299.8 L289.4,299.8 L290.6,299.7 L291.8,299.6 L293.0,299.5 L294.2,299.5 L295.4,299.4 L296.5,299.3 L297.7,299.3 L298.9,299.2 L300.1,299.2 L301.3,299.1 L302.5,299.0 L303.6,299.0 L304.8,298.9 L306.0,298.9 L307.2,298.8 L308.4,298.8 L309.5,298.7 L310.7,298.7 L311.9,298.6 L313.1,298.6 L314.3,298.5 L315.5,298.5 L316.6,298.4 L317.8,298.4 L319.0,298.3 L320.2,298.3 L321.4,298.3 L322.5,298.2 L323.7,298.2 L324.9,298.2 L326.1,298.1 L327.3,298.1 L328.5,298.1 L329.6,298.1 L330.8,298.0 L332.0,298.0 L333.2,298.0 L334.4,298.0 L335.5,297.9 L336.7,297.9 L337.9,297.9 L339.1,297.9 L340.3,297.9 L341.5,297.9 L342.6,297.9 L343.8,297.9 L345.0,297.9 L346.2,297.9 L347.4,297.9 L348.5,297.9 L349.7,297.9 L350.9,298.0 L352.1,298.0 L353.3,298.0 L354.5,298.0 L355.6,298.0 L356.8,298.0 L358.0,298.1 L359.2,298.1 L360.4,298.1 L361.6,298.1 L362.7,298.1 L363.9,298.1 L365.1,298.1 L366.3,298.2 L367.5,298.2 L368.6,298.2 L369.8,298.2 L371.0,298.2 L372.2,298.2 L373.4,298.2 L374.6,298.2 L375.7,298.3 L376.9,298.3 L378.1,298.3 L673.6,298.3" stroke="#b4b4b4"/>
<path d="M118.1,307.3 L119.2,307.3 L120.4,307.3 L121.6,307.3 L122.8,307.3 L124.0,307.3 L125.2,307.3 L126.3,307.3 L127.5,307.3 L128.7,307.3 L129.9,307.3 L131.1,307.3 L132.2,307.3 L133.4,307.3 L134.6,307.3 L135.8,307.3 L137.0,307.3 L138.2,307.3 L139.3,307.3 L140.5,307.3 L141.7,307.3 L142.9,307.3 L144.1,307.3 L145.2,307.3 L146.4,307.3 L147.6,307.3 L148.8,307.3 L150.0,307.3 L151.2,307.3 L152.3,307.3 L153.5,307.3 L154.7,307.3 L155.9,307.3 L157.1,307.3 L158.2,307.3 L159.4,307.3 L160.6,307.3 L161.8,307.3 L163.0,307.3 L164.2,307.3 L165.3,307.3 L166.5,307.3 L167.7,307.3 L168.9,307.3 L170.1,307.3 L171.2,307.3 L172.4,307.3 L173.6,307.3 L174.8,307.3 L176.0,307.3 L177.2,307.3 L178.3,307.3 L179.5,307.3 L180.7,307.3 L181.9,307.3 L183.1,307.3 L184.3,307.3 L185.4,307.3 L186.6,307.3 L187.8,307.3 L189.0,307.3 L190.2,307.3 L191.3,307.3 L192.5,307.3 L193.7,307.1 L194.9,306.7 L196.1,306.1 L197.3,305.3 L198.4,304.3 L199.6,303.2 L200.8,301.8 L202.0,300.3 L203.2,298.6 L204.3,296.8 L205.5,294.8 L206.7,292.6 L207.9,290.3 L209.1,287.9 L210.3,285.3 L211.4,282.6 L212.6,279.8 L213.8,277.0 L215.0,274.0 L216.2,271.0 L217.3,267.9 L218.5,264.7 L219.7,261.6 L220.9,258.4 L222.1,255.1 L223.3,251.9 L224.4,248.7 L225.6,245.5 L226.8,242.4 L228.0,239.3 L229.2,236.2 L230.3,233.2 L231.5,230.3 L232.7,227.5 L233.9,224.8 L235.1,222.2 L236.3,219.8 L237.4,217.4 L238.6,215.2 L239.8,213.2 L241.0,211.3 L242.2,209.6 L243.4,208.0 L244.5,206.6 L245.7,205.4 L246.9,204.4 L248.1,203.6 L249.3,202.9 L250.4,202.5 L251.6,202.2 L252.8,202.3 L254.0,203.1 L255.2,203.8 L256.4,204.5 L257.5,205.3 L258.7,206.0 L259.9,206.8 L261.1,207.6 L262.3,208.4 L263.4,209.2 L264.6,210.0 L265.8,210.8 L267.0,211.7 L268.2,212.5 L269.4,213.3 L270.5,214.2 L271.7,215.0 L272.9,215.8 L274.1,216.7 L275.3,217.5 L276.4,218.4 L277.6,219.2 L278.8,220.0 L280.0,220.8 L281.2,221.7 L282.4,222.5 L283.5,223.3 L284.7,224.1 L285.9,224.9 L287.1,225.7 L288.3,226.4 L289.4,227.2 L290.6,227.9 L291.8,228.7 L293.0,229.4 L294.2,230.1 L295.4,230.8 L296.5,231.5 L297.7,232.2 L298.9,232.9 L300.1,233.5 L301.3,234.2 L302.5,234.8 L303.6,235.4 L304.8,236.0 L306.0,236.6 L307.2,237.2 L308.4,237.7 L309.5,238.3 L310.7,238.8 L311.9,239.3 L313.1,239.8 L314.3,240.3 L315.5,240.7 L316.6,241.2 L317.8,241.6 L319.0,242.1 L320.2,242.5 L321.4,242.9 L322.5,243.3 L323.7,243.6 L324.9,244.0 L326.1,244.3 L327.3,244.7 L328.5,245.0 L329.6,245.3 L330.8,245.6 L332.0,245.9 L333.2,246.1 L334.4,246.4 L335.5,246.7 L336.7,246.9 L337.9,247.2 L339.1,247.4 L340.3,247.7 L341.5,247.9 L342.6,248.2 L343.8,248.4 L345.0,248.6 L346.2,248.8 L347.4,249.0 L348.5,249.2 L349.7,249.4 L350.9,249.5 L352.1,249.7 L353.3,249.8 L354.5,250.0 L355.6,250.1 L356.8,250.2 L358.0,250.3 L359.2,250.4 L360.4,250.5 L361.6,250.6 L362.7,250.7 L363.9,250.8 L365.1,250.8 L366.3,250.9 L367.5,251.0 L368.6,251.0 L369.8,251.0 L371.0,251.1 L372.2,251.1 L373.4,251.1 L374.6,251.2 L375.7,251.2 L376.9,251.2 L378.1,251.2 L673.6,251.3" stroke="#aeaeae"/>
<path d="M118.1,307.3 L119.2,307.3 L120.4,307.3 L121.6,307.3 L122.8,307.3 L124.0,307.3 L125.2,307.3 L126.3,307.3 L127.5,307.3 L128.7,307.3 L129.9,307.3 L131.1,307.3 L132.2,307.3 L133.4,307.3 L134.6,307.3 L135.8,307.3 L137.0,307.3 L138.2,307.3 L139.3,307.3 L140.5,307.3 L141.7,307.3 L142.9,307.3 L144.1,307.3 L145.2,307.3 L146.4,307.3 L147.6,307.3 L148.8,307.3 L150.0,307.3 L151.2,307.3 L152.3,307.3 L153.5,307.3 L154.7,307.3 L155.9,307.3 L157.1,307.3 L158.2,307.3 L159.4,307.3 L160.6,307.3 L161.8,307.3 L163.0,307.3 L164.2,307.3 L165.3,307.3 L166.5,307.3 L167.7,307.3 L168.9,307.3 L170.1,307.3 L171.2,307.3 L172.4,307.3 L173.6,307.3 L174.8,307.3 L176.0,307.3 L177.2,307.3 L178.3,307.3 L179.5,307.3 L180.7,307.3 L181.9,307.3 L183.1,307.3 L184.3,307.3 L185.4,307.3 L186.6,307.3 L187.8,307.2 L189.0,307.2 L190.2,307.1 L191.3,307.0 L192.5,306.9 L193.7,306.8 L194.9,306.8 L196.1,306.7 L197.3,306.6 L198.4,306.5 L199.6,306.3 L200.8,306.2 L202.0,306.1 L203.2,306.0 L204.3,305.9 L205.5,305.8 L206.7,305.7 L207.9,305.5 L209.1,305.4 L210.3,305.3 L211.4,305.2 L212.6,305.1 L213.8,304.9 L215.0,304.8 L216.2,304.7 L217.3,304.5 L218.5,304.4 L219.7,304.3 L220.9,304.1 L222.1,304.0 L223.3,303.9 L224.4,303.7 L225.6,303.6 L226.8,303.5 L228.0,303.3 L229.2,303.2 L230.3,303.1 L231.5,302.9 L232.7,302.8 L233.9,302.7 L235.1,302.5 L236.3,302.4 L237.4,302.3 L238.6,302.1 L239.8,302.0 L241.0,301.8 L242.2,301.7 L243.4,301.6 L244.5,301.4 L245.7,301.3 L246.9,301.2 L248.1,301.0 L249.3,300.9 L250.4,300.8 L251.6,300.7 L252.8,300.5 L254.0,300.4 L255.2,300.3 L256.4,300.1 L257.5,300.0 L258.7,299.9 L259.9,299.8 L261.1,299.7 L262.3,299.5 L263.4,299.4 L264.6,299.3 L265.8,299.2 L267.0,299.1 L268.2,298.9 L269.4,298.8 L270.5,298.7 L271.7,298.6 L272.9,298.5 L274.1,298.4 L275.3,298.3 L276.4,298.2 L277.6,298.1 L278.8,298.0 L280.0,297.9 L281.2,297.8 L282.4,297.7 L283.5,297.6 L284.7,297.5 L285.9,297.4 L287.1,297.3 L288.3,297.2 L289.4,297.1 L290.6,297.0 L291.8,297.0 L293.0,296.9 L294.2,296.8 L295.4,296.7 L296.5,296.7 L297.7,296.6 L298.9,296.5 L300.1,296.5 L301.3,296.4 L302.5,296.3 L303.6,296.3 L304.8,296.2 L306.0,296.1 L307.2,296.1 L308.4,296.0 L309.5,296.0 L310.7,295.9 L311.9,295.9 L313.1,295.9 L314.3,295.8 L315.5,295.8 L316.6,295.7 L317.8,295.7 L319.0,295.7 L320.2,295.6 L321.4,295.6 L322.5,295.6 L323.7,295.6 L324.9,295.6 L326.1,295.5 L327.3,295.5 L328.5,295.5 L329.6,295.5 L330.8,295.5 L332.0,295.5 L333.2,295.5 L334.4,295.5 L335.5,295.5 L336.7,295.5 L337.9,295.6 L339.1,295.6 L340.3,295.6 L341.5,295.7 L342.6,295.7 L343.8,295.8 L345.0,295.8 L346.2,295.8 L347.4,295.9 L348.5,295.9 L349.7,296.0 L350.9,296.0 L352.1,296.1 L353.3,296.1 L354.5,296.2 L355.6,296.2 L356.8,296.3 L358.0,296.3 L359.2,296.4 L360.4,296.4 L361.6,296.5 L362.7,296.5 L363.9,296.5 L365.1,296.6 L366.3,296.6 L367.5,296.7 L368.6,296.7 L369.8,296.7 L371.0,296.8 L372.2,296.8 L373.4,296.8 L374.6,296.8 L375.7,296.9 L376.9,296.9 L378.1,296.9 L673.6,297.0" stroke="#a5a5a5"/>
<path d="M118.1,307.3 L119.2,307.3 L120.4,307.3 L121.6,307.3 L122.8,307.3 L124.0,307.3 L125.2,307.3 L126.3,307.3 L127.5,307.3 L128.7,307.3 L129.9,307.3 L131.1,307.3 L132.2,307.3 L133.4,307.3 L134.6,307.3 L135.8,307.3 L137.0,307.3 L138.2,307.3 L139.3,307.3 L140.5,307.3 L141.7,307.3 L142.9,307.3 L144.1,307.3 L145.2,307.3 L146.4,307.3 L147.6,307.3 L148.8,307.3 L150.0,307.3 L151.2,307.3 L152.3,307.3 L153.5,307.3 L154.7,307.3 L155.9,307.3 L157.1,307.3 L158.2,307.3 L159.4,307.3 L160.6,307.3 L161.8,307.3 L163.0,307.3 L164.2,307.3 L165.3,307.3 L166.5,307.3 L167.7,307.3 L168.9,307.3 L170.1,307.3 L171.2,307.3 L172.4,307.3 L173.6,307.3 L174.8,307.3 L176.0,307.3 L177.2,307.3 L178.3,307.3 L179.5,307.3 L180.7,307.3 L181.9,307.3 L183.1,307.3 L184.3,307.3 L185.4,307.3 L186.6,307.3 L187.8,307.3 L189.0,307.3 L190.2,307.3 L191.3,307.3 L192.5,307.2 L193.7,307.1 L194.9,307.1 L196.1,306.9 L197.3,306.8 L198.4,306.7 L199.6,306.5 L200.8,306.3 L202.0,306.1 L203.2,305.9 L204.3,305.6 L205.5,305.4 L206.7,305.1 L207.9,304.8 L209.1,304.5 L210.3,304.2 L211.4,303.8 L212.6,303.5 L213.8,303.1 L215.0,302.7 L216.2,302.3 L217.3,301.8 L218.5,301.4 L219.7,300.9 L220.9,300.5 L222.1,300.0 L223.3,299.5 L224.4,299.0 L225.6,298.5 L226.8,298.0 L228.0,297.4 L229.2,296.9 L230.3,296.3 L231.5,295.8 L232.7,295.2 L233.9,294.6 L235.1,294.0 L236.3,293.4 L237.4,292.8 L238.6,292.2 L239.8,291.6 L241.0,291.0 L242.2,290.4 L243.4,289.8 L244.5,289.2 L245.7,288.6 L246.9,288.0 L248.1,287.3 L249.3,286.7 L250.4,286.1 L251.6,285.5 L252.8,284.9 L254.0,284.3 L255.2,283.7 L256.4,283.1 L257.5,282.5 L258.7,281.9 L259.9,281.3 L261.1,280.7 L262.3,280.2 L263.4,279.6 L264.6,279.0 L265.8,278.5 L267.0,278.0 L268.2,277.5 L269.4,276.9 L270.5,276.5 L271.7,276.0 L272.9,275.5 L274.1,275.0 L275.3,274.6 L276.4,274.2 L277.6,273.7 L278.8,273.3 L280.0,272.9 L281.2,272.6 L282.4,272.2 L283.5,271.9 L284.7,271.6 L285.9,271.3 L287.1,271.0 L288.3,270.7 L289.4,270.4 L290.6,270.2 L291.8,270.0 L293.0,269.8 L294.2,269.6 L295.4,269.5 L296.5,269.3 L297.7,269.2 L298.9,269.1 L300.1,269.0 L301.3,269.0 L302.5,268.9 L303.6,268.9 L304.8,268.9 L306.0,269.0 L307.2,269.1 L308.4,269.2 L309.5,269.3 L310.7,269.3 L311.9,269.4 L313.1,269.5 L314.3,269.6 L315.5,269.7 L316.6,269.8 L317.8,269.8 L319.0,269.9 L320.2,270.0 L321.4,270.1 L322.5,270.2 L323.7,270.3 L324.9,270.4 L326.1,270.5 L327.3,270.6 L328.5,270.6 L329.6,270.7 L330.8,270.8 L332.0,270.9 L333.2,271.0 L334.4,271.1 L335.5,271.2 L336.7,271.3 L337.9,271.4 L339.1,271.5 L340.3,271.7 L341.5,271.8 L342.6,271.9 L343.8,272.1 L345.0,272.2 L346.2,272.4 L347.4,272.5 L348.5,272.6 L349.7,272.8 L350.9,272.9 L352.1,273.1 L353.3,273.2 L354.5,273.3 L355.6,273.5 L356.8,273.6 L358.0,273.7 L359.2,273.8 L360.4,274.0 L361.6,274.1 L362.7,274.2 L363.9,274.3 L365.1,274.4 L366.3,274.5 L367.5,274.6 L368.6,274.7 L369.8,274.7 L371.0,274.8 L372.2,274.9 L373.4,275.0 L374.6,275.0 L375.7,275.1 L376.9,275.1 L378.1,275.2 L673.6,275.4" stroke="#9e9e9e"/>
<path d="M118.1,307.3 L119.2,307.3 L120.4,307.3 L121.6,307.3 L122.8,307.3 L124.0,307.3 L125.2,307.3 L126.3,307.3 L127.5,307.3 L128.7,307.3 L129.9,307.3 L131.1,307.3 L132.2,307.3 L133.4,307.3 L134.6,307.3 L135.8,307.3 L137.0,307.3 L138.2,307.3 L139.3,307.3 L140.5,307.3 L141.7,307.3 L142.9,307.3 L144.1,307.3 L145.2,307.3 L146.4,307.3 L147.6,307.3 L148.8,307.3 L150.0,307.3 L151.2,307.3 L152.3,307.3 L153.5,307.3 L154.7,307.3 L155.9,307.3 L157.1,307.3 L158.2,307.3 L159.4,307.3 L160.6,307.3 L161.8,307.3 L163.0,307.3 L164.2,307.3 L165.3,307.3 L166.5,307.3 L167.7,307.3 L168.9,307.3 L170.1,307.3 L171.2,307.3 L172.4,307.3 L173.6,307.3 L174.8,307.3 L176.0,307.3 L177.2,307.3 L178.3,307.3 L179.5,307.3 L180.7,307.3 L181.9,307.3 L183.1,307.3 L184.3,307.3 L185.4,307.2 L186.6,307.1 L187.8,306.8 L189.0,306.6 L190.2,306.3 L191.3,306.0 L192.5,305.7 L193.7,305.4 L194.9,305.1 L196.1,304.7 L197.3,304.4 L198.4,304.0 L199.6,303.6 L200.8,303.3 L202.0,302.9 L203.2,302.5 L204.3,302.1 L205.5,301.7 L206.7,301.3 L207.9,300.9 L209.1,300.5 L210.3,300.2 L211.4,299.8 L212.6,299.4 L213.8,299.0 L215.0,298.6 L216.2,298.2 L217.3,297.8 L218.5,297.4 L219.7,297.0 L220.9,296.6 L222.1,296.3 L223.3,295.9 L224.4,295.5 L225.6,295.2 L226.8,294.8 L228.0,294.5 L229.2,294.1 L230.3,293.8 L231.5,293.5 L232.7,293.1 L233.9,292.8 L235.1,292.5 L236.3,292.2 L237.4,291.9 L238.6,291.7 L239.8,291.4 L241.0,291.1 L242.2,290.9 L243.4,290.7 L244.5,290.4 L245.7,290.2 L246.9,290.0 L248.1,289.8 L249.3,289.6 L250.4,289.5 L251.6,289.3 L252.8,289.2 L254.0,289.0 L255.2,288.9 L256.4,288.8 L257.5,288.7 L258.7,288.6 L259.9,288.6 L261.1,288.5 L262.3,288.5 L263.4,288.4 L264.6,288.4 L265.8,288.4 L267.0,288.5 L268.2,288.6 L269.4,288.7 L270.5,288.8 L271.7,288.9 L272.9,289.0 L274.1,289.1 L275.3,289.2 L276.4,289.3 L277.6,289.4 L278.8,289.5 L280.0,289.6 L281.2,289.8 L282.4,289.9 L283.5,290.0 L284.7,290.1 L285.9,290.2 L287.1,290.3 L288.3,290.4 L289.4,290.6 L290.6,290.7 L291.8,290.8 L293.0,290.9 L294.2,291.0 L295.4,291.1 L296.5,291.2 L297.7,291.3 L298.9,291.4 L300.1,291.5 L301.3,291.7 L302.5,291.8 L303.6,291.9 L304.8,292.0 L306.0,292.1 L307.2,292.2 L308.4,292.3 L309.5,292.4 L310.7,292.5 L311.9,292.6 L313.1,292.7 L314.3,292.7 L315.5,292.8 L316.6,292.9 L317.8,293.0 L319.0,293.1 L320.2,293.2 L321.4,293.3 L322.5,293.3 L323.7,293.4 L324.9,293.5 L326.1,293.6 L327.3,293.6 L328.5,293.7 L329.6,293.8 L330.8,293.8 L332.0,293.9 L333.2,294.0 L334.4,294.0 L335.5,294.1 L336.7,294.1 L337.9,294.2 L339.1,294.3 L340.3,294.3 L341.5,294.4 L342.6,294.5 L343.8,294.5 L345.0,294.6 L346.2,294.6 L347.4,294.7 L348.5,294.7 L349.7,294.8 L350.9,294.8 L352.1,294.9 L353.3,294.9 L354.5,295.0 L355.6,295.0 L356.8,295.0 L358.0,295.1 L359.2,295.1 L360.4,295.1 L361.6,295.2 L362.7,295.2 L363.9,295.2 L365.1,295.2 L366.3,295.3 L367.5,295.3 L368.6,295.3 L369.8,295.3 L371.0,295.3 L372.2,295.3 L373.4,295.4 L374.6,295.4 L375.7,295.4 L376.9,295.4 L378.1,295.4 L673.6,295.4" stroke="#9e9e9e"/>
<path d="M118.1,307.3 L119.2,307.3 L120.4,307.3 L121.6,307.3 L122.8,307.3 L124.0,307.3 L125.2,307.3 L126.3,307.3 L127.5,307.3 L128.7,307.3 L129.9,307.3 L131.1,307.3 L132.2,307.3 L133.4,307.3 L134.6,307.3 L135.8,307.3 L137.0,307.3 L138.2,307.3 L139.3,307.3 L140.5,307.3 L141.7,307.3 L142.9,307.3 L144.1,307.3 L145.2,307.3 L146.4,307.3 L147.6,307.3 L148.8,307.3 L150.0,307.3 L151.2,307.3 L152.3,307.3 L153.5,307.3 L154.7,307.3 L155.9,307.3 L157.1,307.3 L158.2,307.3 L159.4,307.3 L160.6,307.3 L161.8,307.3 L163.0,307.3 L164.2,307.3 L165.3,307.3 L166.5,307.3 L167.7,307.3 L168.9,307.3 L170.1,307.3 L171.2,307.3 L172.4,307.3 L173.6,307.3 L174.8,307.3 L176.0,307.3 L177.2,307.3 L178.3,307.3 L179.5,307.3 L180.7,307.3 L181.9,307.3 L183.1,307.3 L184.3,307.3 L185.4,307.0 L186.6,306.5 L187.8,305.9 L189.0,305.1 L190.2,304.4 L191.3,303.5 L192.5,302.7 L193.7,301.8 L194.9,300.9 L196.1,299.9 L197.3,299.0 L198.4,298.0 L199.6,297.0 L200.8,296.0 L202.0,295.0 L203.2,293.9 L204.3,292.9 L205.5,291.9 L206.7,290.9 L207.9,289.8 L209.1,288.8 L210.3,287.8 L211.4,286.8 L212.6,285.8 L213.8,284.9 L215.0,283.9 L216.2,283.0 L217.3,282.0 L218.5,281.1 L219.7,280.2 L220.9,279.4 L222.1,278.6 L223.3,277.8 L224.4,277.0 L225.6,276.2 L226.8,275.5 L228.0,274.8 L229.2,274.2 L230.3,273.6 L231.5,273.0 L232.7,272.4 L233.9,271.9 L235.1,271.4 L236.3,271.0 L237.4,270.6 L238.6,270.3 L239.8,269.9 L241.0,269.7 L242.2,269.4 L243.4,269.3 L244.5,269.1 L245.7,269.0 L246.9,268.9 L248.1,268.9 L249.3,269.2 L250.4,269.5 L251.6,269.8 L252.8,270.1 L254.0,270.5 L255.2,270.8 L256.4,271.1 L257.5,271.5 L258.7,271.8 L259.9,272.2 L261.1,272.5 L262.3,272.9 L263.4,273.2 L264.6,273.6 L265.8,273.9 L267.0,274.3 L268.2,274.7 L269.4,275.0 L270.5,275.4 L271.7,275.7 L272.9,276.1 L274.1,276.4 L275.3,276.8 L276.4,277.1 L277.6,277.5 L278.8,277.8 L280.0,278.1 L281.2,278.5 L282.4,278.8 L283.5,279.1 L284.7,279.4 L285.9,279.7 L287.1,280.0 L288.3,280.3 L289.4,280.6 L290.6,280.9 L291.8,281.2 L293.0,281.5 L294.2,281.8 L295.4,282.0 L296.5,282.3 L297.7,282.5 L298.9,282.8 L300.1,283.0 L301.3,283.3 L302.5,283.5 L303.6,283.7 L304.8,283.9 L306.0,284.1 L307.2,284.3 L308.4,284.5 L309.5,284.7 L310.7,284.9 L311.9,285.1 L313.1,285.2 L314.3,285.4 L315.5,285.5 L316.6,285.7 L317.8,285.8 L319.0,286.0 L320.2,286.1 L321.4,286.2 L322.5,286.4 L323.7,286.5 L324.9,286.6 L326.1,286.7 L327.3,286.8 L328.5,286.9 L329.6,287.0 L330.8,287.1 L332.0,287.2 L333.2,287.3 L334.4,287.3 L335.5,287.4 L336.7,287.5 L337.9,287.6 L339.1,287.6 L340.3,287.7 L341.5,287.8 L342.6,287.8 L343.8,287.9 L345.0,287.9 L346.2,288.0 L347.4,288.0 L348.5,288.1 L349.7,288.1 L350.9,288.2 L352.1,288.2 L353.3,288.3 L354.5,288.3 L355.6,288.3 L356.8,288.3 L358.0,288.4 L359.2,288.4 L360.4,288.4 L361.6,288.4 L362.7,288.5 L363.9,288.5 L365.1,288.5 L366.3,288.5 L367.5,288.5 L368.6,288.5 L369.8,288.5 L371.0,288.5 L372.2,288.5 L373.4,288.5 L374.6,288.6 L375.7,288.6 L376.9,288.6 L378.1,288.6 L673.6,288.6" stroke="#909090"/>
<path d="M118.1,307.3 L119.2,307.3 L120.4,307.3 L121.6,307.3 L122.8,307.3 L124.0,307.3 L125.2,307.3 L126.3,307.3 L127.5,307.3 L128.7,307.3 L129.9,307.3 L131.1,307.3 L132.2,307.3 L133.4,307.3 L134.6,307.3 L135.8,307.3 L137.0,307.3 L138.2,307.3 L139.3,307.3 L140.5,307.3 L141.7,307.3 L142.9,307.3 L144.1,307.3 L145.2,307.3 L146.4,307.3 L147.6,307.3 L148.8,307.3 L150.0,307.3 L151.2,307.3 L152.3,307.3 L153.5,307.3 L154.7,307.3 L155.9,307.3 L157.1,307.3 L158.2,307.3 L159.4,307.3 L160.6,307.3 L161.8,307.3 L163.0,307.3 L164.2,307.3 L165.3,307.3 L166.5,307.3 L167.7,307.3 L168.9,307.3 L170.1,307.3 L171.2,307.3 L172.4,307.3 L173.6,307.3 L174.8,307.3 L176.0,307.3 L177.2,307.3 L178.3,307.3 L179.5,307.3 L180.7,307.3 L181.9,307.3 L183.1,307.3 L184.3,307.3 L185.4,307.1 L186.6,306.7 L187.8,306.2 L189.0,305.6 L190.2,305.0 L191.3,304.4 L192.5,303.7 L193.7,303.0 L194.9,302.3 L196.1,301.5 L197.3,300.8 L198.4,300.0 L199.6,299.2 L200.8,298.4 L202.0,297.6 L203.2,296.8 L204.3,296.0 L205.5,295.1 L206.7,294.3 L207.9,293.5 L209.1,292.6 L210.3,291.8 L211.4,291.0 L212.6,290.2 L213.8,289.3 L215.0,288.5 L216.2,287.7 L217.3,286.9 L218.5,286.2 L219.7,285.4 L220.9,284.6 L222.1,283.9 L223.3,283.1 L224.4,282.4 L225.6,281.7 L226.8,281.1 L228.0,280.4 L229.2,279.8 L230.3,279.1 L231.5,278.5 L232.7,278.0 L233.9,277.4 L235.1,276.9 L236.3,276.4 L237.4,275.9 L238.6,275.4 L239.8,275.0 L241.0,274.6 L242.2,274.2 L243.4,273.8 L244.5,273.5 L245.7,273.2 L246.9,273.0 L248.1,272.7 L249.3,272.5 L250.4,272.3 L251.6,272.2 L252.8,272.0 L254.0,272.0 L255.2,271.9 L256.4,271.9 L257.5,272.0 L258.7,272.3 L259.9,272.5 L261.1,272.8 L262.3,273.1 L263.4,273.4 L264.6,273.7 L265.8,274.0 L267.0,274.3 L268.2,274.6 L269.4,274.9 L270.5,275.2 L271.7,275.5 L272.9,275.8 L274.1,276.1 L275.3,276.4 L276.4,276.7 L277.6,277.0 L278.8,277.3 L280.0,277.7 L281.2,278.0 L282.4,278.3 L283.5,278.6 L284.7,278.9 L285.9,279.2 L287.1,279.5 L288.3,279.8 L289.4,280.1 L290.6,280.4 L291.8,280.7 L293.0,281.0 L294.2,281.3 L295.4,281.5 L296.5,281.8 L297.7,282.1 L298.9,282.3 L300.1,282.6 L301.3,282.9 L302.5,283.1 L303.6,283.4 L304.8,283.6 L306.0,283.8 L307.2,284.1 L308.4,284.3 L309.5,284.5 L310.7,284.7 L311.9,285.0 L313.1,285.2 L314.3,285.4 L315.5,285.6 L316.6,285.7 L317.8,285.9 L319.0,286.1 L320.2,286.3 L321.4,286.4 L322.5,286.6 L323.7,286.8 L324.9,286.9 L326.1,287.1 L327.3,287.2 L328.5,287.3 L329.6,287.5 L330.8,287.6 L332.0,287.7 L333.2,287.8 L334.4,288.0 L335.5,288.1 L336.7,288.2 L337.9,288.3 L339.1,288.4 L340.3,288.5 L341.5,288.6 L342.6,288.7 L343.8,288.8 L345.0,288.9 L346.2,289.0 L347.4,289.1 L348.5,289.2 L349.7,289.3 L350.9,289.3 L352.1,289.4 L353.3,289.5 L354.5,289.5 L355.6,289.6 L356.8,289.7 L358.0,289.7 L359.2,289.8 L360.4,289.8 L361.6,289.8 L362.7,289.9 L363.9,289.9 L365.1,289.9 L366.3,290.0 L367.5,290.0 L368.6,290.0 L369.8,290.0 L371.0,290.1 L372.2,290.1 L373.4,290.1 L374.6,290.1 L375.7,290.1 L376.9,290.1 L378.1,290.1 L673.6,290.2" stroke="#909090"/>
<path d="M118.1,307.3 L119.2,307.3 L120.4,307.3 L121.6,307.3 L122.8,307.3 L124.0,307.3 L125.2,307.3 L126.3,307.3 L127.5,307.3 L128.7,307.3 L129.9,307.3 L131.1,307.3 L132.2,307.3 L133.4,307.3 L134.6,307.3 L135.8,307.3 L137.0,307.3 L138.2,307.3 L139.3,307.3 L140.5,307.3 L141.7,307.3 L142.9,307.3 L144.1,307.3 L145.2,307.3 L146.4,307.3 L147.6,307.3 L148.8,307.3 L150.0,307.3 L151.2,307.3 L152.3,307.3 L153.5,307.3 L154.7,307.3 L155.9,307.3 L157.1,307.3 L158.2,307.3 L159.4,307.3 L160.6,307.3 L161.8,307.3 L163.0,307.3 L164.2,307.3 L165.3,307.3 L166.5,307.3 L167.7,307.3 L168.9,307.3 L170.1,307.3 L171.2,307.3 L172.4,307.3 L173.6,307.3 L174.8,307.3 L176.0,307.3 L177.2,307.3 L178.3,307.3 L179.5,307.3 L180.7,307.3 L181.9,307.3 L183.1,307.3 L184.3,307.3 L185.4,307.1 L186.6,306.8 L187.8,306.4 L189.0,305.9 L190.2,305.4 L191.3,304.9 L192.5,304.3 L193.7,303.8 L194.9,303.2 L196.1,302.6 L197.3,301.9 L198.4,301.3 L199.6,300.6 L200.8,300.0 L202.0,299.3 L203.2,298.6 L204.3,297.9 L205.5,297.2 L206.7,296.6 L207.9,295.9 L209.1,295.2 L210.3,294.5 L211.4,293.8 L212.6,293.1 L213.8,292.4 L215.0,291.7 L216.2,291.1 L217.3,290.4 L218.5,289.7 L219.7,289.1 L220.9,288.4 L222.1,287.8 L223.3,287.2 L224.4,286.6 L225.6,286.0 L226.8,285.4 L228.0,284.8 L229.2,284.3 L230.3,283.7 L231.5,283.2 L232.7,282.7 L233.9,282.2 L235.1,281.7 L236.3,281.3 L237.4,280.8 L238.6,280.4 L239.8,280.0 L241.0,279.6 L242.2,279.3 L243.4,278.9 L244.5,278.6 L245.7,278.3 L246.9,278.0 L248.1,277.8 L249.3,277.6 L250.4,277.4 L251.6,277.2 L252.8,277.0 L254.0,276.9 L255.2,276.8 L256.4,276.7 L257.5,276.6 L258.7,276.6 L259.9,276.6 L261.1,276.8 L262.3,277.1 L263.4,277.3 L264.6,277.6 L265.8,277.8 L267.0,278.1 L268.2,278.4 L269.4,278.6 L270.5,278.9 L271.7,279.2 L272.9,279.5 L274.1,279.7 L275.3,280.0 L276.4,280.3 L277.6,280.6 L278.8,280.9 L280.0,281.2 L281.2,281.5 L282.4,281.7 L283.5,282.0 L284.7,282.3 L285.9,282.6 L287.1,282.9 L288.3,283.1 L289.4,283.4 L290.6,283.7 L291.8,284.0 L293.0,284.2 L294.2,284.5 L295.4,284.8 L296.5,285.0 L297.7,285.3 L298.9,285.5 L300.1,285.8 L301.3,286.0 L302.5,286.3 L303.6,286.5 L304.8,286.7 L306.0,287.0 L307.2,287.2 L308.4,287.4 L309.5,287.6 L310.7,287.8 L311.9,288.0 L313.1,288.2 L314.3,288.4 L315.5,288.6 L316.6,288.8 L317.8,289.0 L319.0,289.2 L320.2,289.3 L321.4,289.5 L322.5,289.7 L323.7,289.8 L324.9,290.0 L326.1,290.1 L327.3,290.3 L328.5,290.4 L329.6,290.5 L330.8,290.7 L332.0,290.8 L333.2,290.9 L334.4,291.0 L335.5,291.1 L336.7,291.2 L337.9,291.4 L339.1,291.5 L340.3,291.6 L341.5,291.7 L342.6,291.8 L343.8,291.9 L345.0,292.0 L346.2,292.1 L347.4,292.2 L348.5,292.3 L349.7,292.4 L350.9,292.4 L352.1,292.5 L353.3,292.6 L354.5,292.6 L355.6,292.7 L356.8,292.8 L358.0,292.8 L359.2,292.9 L360.4,292.9 L361.6,293.0 L362.7,293.0 L363.9,293.0 L365.1,293.1 L366.3,293.1 L367.5,293.1 L368.6,293.1 L369.8,293.2 L371.0,293.2 L372.2,293.2 L373.4,293.2 L374.6,293.2 L375.7,293.2 L376.9,293.3 L378.1,293.3 L673.6,293.3" stroke="#909090"/>
<path d="M118.1,307.3 L119.2,307.3 L120.4,307.3 L121.6,307.3 L122.8,307.3 L124.0,307.3 L125.2,307.3 L126.3,307.3 L127.5,307.3 L128.7,307.3 L129.9,307.3 L131.1,307.3 L132.2,307.3 L133.4,307.3 L134.6,307.3 L135.8,307.3 L137.0,307.3 L138.2,307.3 L139.3,307.3 L140.5,307.3 L141.7,307.3 L142.9,307.3 L144.1,307.3 L145.2,307.3 L146.4,307.3 L147.6,307.3 L148.8,307.3 L150.0,307.3 L151.2,307.3 L152.3,307.3 L153.5,307.3 L154.7,307.3 L155.9,307.3 L157.1,307.3 L158.2,307.3 L159.4,307.3 L160.6,307.3 L161.8,307.3 L163.0,307.3 L164.2,307.3 L165.3,307.3 L166.5,307.3 L167.7,307.3 L168.9,307.3 L170.1,307.3 L171.2,307.3 L172.4,307.3 L173.6,307.3 L174.8,307.3 L176.0,307.3 L177.2,307.3 L178.3,307.3 L179.5,307.3 L180.7,307.3 L181.9,307.3 L183.1,307.3 L184.3,307.3 L185.4,307.3 L186.6,307.1 L187.8,306.5 L189.0,305.7 L190.2,304.8 L191.3,303.8 L192.5,302.8 L193.7,301.8 L194.9,300.6 L196.1,299.5 L197.3,298.3 L198.4,297.1 L199.6,295.9 L200.8,294.7 L202.0,293.4 L203.2,292.2 L204.3,290.9 L205.5,289.7 L206.7,288.4 L207.9,287.2 L209.1,286.0 L210.3,284.8 L211.4,283.6 L212.6,282.4 L213.8,281.2 L215.0,280.1 L216.2,279.0 L217.3,277.9 L218.5,276.9 L219.7,275.9 L220.9,275.0 L222.1,274.0 L223.3,273.2 L224.4,272.3 L225.6,271.5 L226.8,270.8 L228.0,270.1 L229.2,269.4 L230.3,268.8 L231.5,268.3 L232.7,267.8 L233.9,267.4 L235.1,267.0 L236.3,266.7 L237.4,266.4 L238.6,266.2 L239.8,266.1 L241.0,266.0 L242.2,266.0 L243.4,266.2 L244.5,266.5 L245.7,266.7 L246.9,267.0 L248.1,267.3 L249.3,267.5 L250.4,267.8 L251.6,268.1 L252.8,268.4 L254.0,268.7 L255.2,269.0 L256.4,269.3 L257.5,269.5 L258.7,269.8 L259.9,270.1 L261.1,270.4 L262.3,270.7 L263.4,271.0 L264.6,271.3 L265.8,271.6 L267.0,271.9 L268.2,272.2 L269.4,272.5 L270.5,272.8 L271.7,273.1 L272.9,273.4 L274.1,273.6 L275.3,273.9 L276.4,274.2 L277.6,274.4 L278.8,274.7 L280.0,275.0 L281.2,275.2 L282.4,275.5 L283.5,275.7 L284.7,276.0 L285.9,276.2 L287.1,276.4 L288.3,276.7 L289.4,276.9 L290.6,277.1 L291.8,277.3 L293.0,277.5 L294.2,277.7 L295.4,277.9 L296.5,278.1 L297.7,278.3 L298.9,278.4 L300.1,278.6 L301.3,278.8 L302.5,278.9 L303.6,279.1 L304.8,279.2 L306.0,279.4 L307.2,279.5 L308.4,279.7 L309.5,279.8 L310.7,279.9 L311.9,280.0 L313.1,280.2 L314.3,280.3 L315.5,280.4 L316.6,280.5 L317.8,280.6 L319.0,280.7 L320.2,280.8 L321.4,280.8 L322.5,280.9 L323.7,281.0 L324.9,281.1 L326.1,281.2 L327.3,281.2 L328.5,281.3 L329.6,281.3 L330.8,281.4 L332.0,281.5 L333.2,281.5 L334.4,281.6 L335.5,281.6 L336.7,281.7 L337.9,281.7 L339.1,281.7 L340.3,281.8 L341.5,281.8 L342.6,281.9 L343.8,281.9 L345.0,281.9 L346.2,282.0 L347.4,282.0 L348.5,282.0 L349.7,282.1 L350.9,282.1 L352.1,282.1 L353.3,282.1 L354.5,282.1 L355.6,282.2 L356.8,282.2 L358.0,282.2 L359.2,282.2 L360.4,282.2 L361.6,282.2 L362.7,282.2 L363.9,282.3 L365.1,282.3 L366.3,282.3 L367.5,282.3 L368.6,282.3 L369.8,282.3 L371.0,282.3 L372.2,282.3 L373.4,282.3 L374.6,282.3 L375.7,282.3 L376.9,282.3 L378.1,282.3 L673.6,282.3" stroke="#909090"/>
<path d="M118.1,307.3 L119.2,307.3 L120.4,307.3 L121.6,307.3 L122.8,307.3 L124.0,307.3 L125.2,307.3 L126.3,307.3 L127.5,307.3 L128.7,307.3 L129.9,307.3 L131.1,307.3 L132.2,307.3 L133.4,307.3 L134.6,307.3 L135.8,307.3 L137.0,307.3 L138.2,307.3 L139.3,307.3 L140.5,307.3 L141.7,307.3 L142.9,307.3 L144.1,307.3 L145.2,307.3 L146.4,307.3 L147.6,307.3 L148.8,307.3 L150.0,307.3 L151.2,307.3 L152.3,307.3 L153.5,307.3 L154.7,307.3 L155.9,307.3 L157.1,307.3 L158.2,307.3 L159.4,307.3 L160.6,307.3 L161.8,307.3 L163.0,307.3 L164.2,307.3 L165.3,307.3 L166.5,307.3 L167.7,307.3 L168.9,307.3 L170.1,307.3 L171.2,307.3 L172.4,307.3 L173.6,307.3 L174.8,307.3 L176.0,307.3 L177.2,307.3 L178.3,307.3 L179.5,307.3 L180.7,307.3 L181.9,307.3 L183.1,307.3 L184.3,307.3 L185.4,307.3 L186.6,307.2 L187.8,307.0 L189.0,306.7 L190.2,306.4 L191.3,306.0 L192.5,305.6 L193.7,305.2 L194.9,304.8 L196.1,304.3 L197.3,303.9 L198.4,303.4 L199.6,302.9 L200.8,302.4 L202.0,301.9 L203.2,301.4 L204.3,300.9 L205.5,300.4 L206.7,299.8 L207.9,299.3 L209.1,298.8 L210.3,298.2 L211.4,297.7 L212.6,297.1 L213.8,296.6 L215.0,296.1 L216.2,295.5 L217.3,295.0 L218.5,294.4 L219.7,293.9 L220.9,293.4 L222.1,292.8 L223.3,292.3 L224.4,291.8 L225.6,291.3 L226.8,290.7 L228.0,290.2 L229.2,289.7 L230.3,289.2 L231.5,288.7 L232.7,288.3 L233.9,287.8 L235.1,287.3 L236.3,286.9 L237.4,286.4 L238.6,286.0 L239.8,285.6 L241.0,285.2 L242.2,284.7 L243.4,284.4 L244.5,284.0 L245.7,283.6 L246.9,283.2 L248.1,282.9 L249.3,282.6 L250.4,282.2 L251.6,281.9 L252.8,281.7 L254.0,281.4 L255.2,281.1 L256.4,280.9 L257.5,280.6 L258.7,280.4 L259.9,280.2 L261.1,280.0 L262.3,279.8 L263.4,279.7 L264.6,279.5 L265.8,279.4 L267.0,279.3 L268.2,279.2 L269.4,279.1 L270.5,279.1 L271.7,279.0 L272.9,279.0 L274.1,279.0 L275.3,279.0 L276.4,279.1 L277.6,279.2 L278.8,279.3 L280.0,279.4 L281.2,279.5 L282.4,279.7 L283.5,279.8 L284.7,279.9 L285.9,280.0 L287.1,280.1 L288.3,280.2 L289.4,280.4 L290.6,280.5 L291.8,280.6 L293.0,280.7 L294.2,280.8 L295.4,281.0 L296.5,281.1 L297.7,281.2 L298.9,281.3 L300.1,281.5 L301.3,281.6 L302.5,281.7 L303.6,281.8 L304.8,281.9 L306.0,282.1 L307.2,282.2 L308.4,282.3 L309.5,282.4 L310.7,282.5 L311.9,282.7 L313.1,282.8 L314.3,282.9 L315.5,283.0 L316.6,283.1 L317.8,283.2 L319.0,283.3 L320.2,283.4 L321.4,283.5 L322.5,283.6 L323.7,283.7 L324.9,283.8 L326.1,283.9 L327.3,284.0 L328.5,284.1 L329.6,284.2 L330.8,284.3 L332.0,284.4 L333.2,284.5 L334.4,284.6 L335.5,284.7 L336.7,284.8 L337.9,284.8 L339.1,284.9 L340.3,285.0 L341.5,285.1 L342.6,285.2 L343.8,285.3 L345.0,285.4 L346.2,285.5 L347.4,285.6 L348.5,285.7 L349.7,285.8 L350.9,285.9 L352.1,285.9 L353.3,286.0 L354.5,286.1 L355.6,286.2 L356.8,286.2 L358.0,286.3 L359.2,286.3 L360.4,286.4 L361.6,286.5 L362.7,286.5 L363.9,286.6 L365.1,286.6 L366.3,286.6 L367.5,286.7 L368.6,286.7 L369.8,286.7 L371.0,286.8 L372.2,286.8 L373.4,286.8 L374.6,286.9 L375.7,286.9 L376.9,286.9 L378.1,286.9 L673.6,287.0" stroke="#909090"/>
<path d="M118.1,307.3 L119.2,307.3 L120.4,307.3 L121.6,307.3 L122.8,307.3 L124.0,307.3 L125.2,307.3 L126.3,307.3 L127.5,307.3 L128.7,307.3 L129.9,307.3 L131.1,307.3 L132.2,307.3 L133.4,307.3 L134.6,307.3 L135.8,307.3 L137.0,307.3 L138.2,307.3 L139.3,307.3 L140.5,307.3 L141.7,307.3 L142.9,307.3 L144.1,307.3 L145.2,307.3 L146.4,307.3 L147.6,307.3 L148.8,307.3 L150.0,307.3 L151.2,307.3 L152.3,307.3 L153.5,307.3 L154.7,307.3 L155.9,307.3 L157.1,307.3 L158.2,307.3 L159.4,307.3 L160.6,307.3 L161.8,307.3 L163.0,307.3 L164.2,307.3 L165.3,307.3 L166.5,307.3 L167.7,307.3 L168.9,307.3 L170.1,307.3 L171.2,307.3 L172.4,307.3 L173.6,307.3 L174.8,307.3 L176.0,307.3 L177.2,307.3 L178.3,307.3 L179.5,307.3 L180.7,307.3 L181.9,307.3 L183.1,307.3 L184.3,307.3 L185.4,307.3 L186.6,307.2 L187.8,307.0 L189.0,306.7 L190.2,306.4 L191.3,306.1 L192.5,305.7 L193.7,305.4 L194.9,305.0 L196.1,304.5 L197.3,304.1 L198.4,303.7 L199.6,303.2 L200.8,302.8 L202.0,302.3 L203.2,301.8 L204.3,301.4 L205.5,300.9 L206.7,300.4 L207.9,299.9 L209.1,299.4 L210.3,298.9 L211.4,298.4 L212.6,297.9 L213.8,297.4 L215.0,296.8 L216.2,296.3 L217.3,295.8 L218.5,295.3 L219.7,294.8 L220.9,294.3 L222.1,293.8 L223.3,293.3 L224.4,292.8 L225.6,292.2 L226.8,291.7 L228.0,291.3 L229.2,290.8 L230.3,290.3 L231.5,289.8 L232.7,289.3 L233.9,288.8 L235.1,288.4 L236.3,287.9 L237.4,287.4 L238.6,287.0 L239.8,286.6 L241.0,286.1 L242.2,285.7 L243.4,285.3 L244.5,284.9 L245.7,284.5 L246.9,284.1 L248.1,283.7 L249.3,283.3 L250.4,283.0 L251.6,282.6 L252.8,282.3 L254.0,282.0 L255.2,281.6 L256.4,281.3 L257.5,281.0 L258.7,280.8 L259.9,280.5 L261.1,280.2 L262.3,280.0 L263.4,279.7 L264.6,279.5 L265.8,279.3 L267.0,279.1 L268.2,278.9 L269.4,278.8 L270.5,278.6 L271.7,278.5 L272.9,278.3 L274.1,278.2 L275.3,278.1 L276.4,278.0 L277.6,277.9 L278.8,277.9 L280.0,277.8 L281.2,277.8 L282.4,277.8 L283.5,277.8 L284.7,278.0 L285.9,278.2 L287.1,278.3 L288.3,278.5 L289.4,278.7 L290.6,279.0 L291.8,279.2 L293.0,279.4 L294.2,279.6 L295.4,279.8 L296.5,280.0 L297.7,280.2 L298.9,280.5 L300.1,280.7 L301.3,280.9 L302.5,281.1 L303.6,281.3 L304.8,281.6 L306.0,281.8 L307.2,282.0 L308.4,282.2 L309.5,282.5 L310.7,282.7 L311.9,282.9 L313.1,283.1 L314.3,283.4 L315.5,283.6 L316.6,283.8 L317.8,284.0 L319.0,284.3 L320.2,284.5 L321.4,284.7 L322.5,284.9 L323.7,285.1 L324.9,285.3 L326.1,285.5 L327.3,285.7 L328.5,285.9 L329.6,286.1 L330.8,286.3 L332.0,286.5 L333.2,286.7 L334.4,286.9 L335.5,287.1 L336.7,287.3 L337.9,287.5 L339.1,287.8 L340.3,288.0 L341.5,288.2 L342.6,288.4 L343.8,288.7 L345.0,288.9 L346.2,289.1 L347.4,289.4 L348.5,289.6 L349.7,289.8 L350.9,290.0 L352.1,290.3 L353.3,290.5 L354.5,290.7 L355.6,290.9 L356.8,291.0 L358.0,291.2 L359.2,291.4 L360.4,291.5 L361.6,291.7 L362.7,291.8 L363.9,292.0 L365.1,292.1 L366.3,292.2 L367.5,292.3 L368.6,292.5 L369.8,292.6 L371.0,292.6 L372.2,292.7 L373.4,292.8 L374.6,292.9 L375.7,292.9 L376.9,293.0 L378.1,293.0 L673.6,293.3" stroke="#909090"/>
<path d="M118.1,307.3 L119.2,307.3 L120.4,307.3 L121.6,307.3 L122.8,307.3 L124.0,307.3 L125.2,307.3 L126.3,307.3 L127.5,307.3 L128.7,307.3 L129.9,307.3 L131.1,307.3 L132.2,307.3 L133.4,307.3 L134.6,307.3 L135.8,307.3 L137.0,307.3 L138.2,307.3 L139.3,307.3 L140.5,307.3 L141.7,307.3 L142.9,307.3 L144.1,307.3 L145.2,307.3 L146.4,307.3 L147.6,307.3 L148.8,307.3 L150.0,307.3 L151.2,307.3 L152.3,307.3 L153.5,307.3 L154.7,307.3 L155.9,307.3 L157.1,307.3 L158.2,307.3 L159.4,307.3 L160.6,307.3 L161.8,307.3 L163.0,307.3 L164.2,307.3 L165.3,307.3 L166.5,307.3 L167.7,307.3 L168.9,307.3 L170.1,307.3 L171.2,307.3 L172.4,307.3 L173.6,307.3 L174.8,307.3 L176.0,307.3 L177.2,307.3 L178.3,307.3 L179.5,307.3 L180.7,307.3 L181.9,307.3 L183.1,307.3 L184.3,307.3 L185.4,307.3 L186.6,307.3 L187.8,307.3 L189.0,307.0 L190.2,306.7 L191.3,306.3 L192.5,305.9 L193.7,305.4 L194.9,304.9 L196.1,304.4 L197.3,303.9 L198.4,303.4 L199.6,302.8 L200.8,302.2 L202.0,301.7 L203.2,301.1 L204.3,300.5 L205.5,299.9 L206.7,299.2 L207.9,298.6 L209.1,298.0 L210.3,297.4 L211.4,296.7 L212.6,296.1 L213.8,295.4 L215.0,294.8 L216.2,294.1 L217.3,293.5 L218.5,292.9 L219.7,292.2 L220.9,291.6 L222.1,290.9 L223.3,290.3 L224.4,289.7 L225.6,289.0 L226.8,288.4 L228.0,287.8 L229.2,287.2 L230.3,286.6 L231.5,286.0 L232.7,285.4 L233.9,284.8 L235.1,284.2 L236.3,283.7 L237.4,283.1 L238.6,282.6 L239.8,282.1 L241.0,281.5 L242.2,281.0 L243.4,280.5 L244.5,280.1 L245.7,279.6 L246.9,279.1 L248.1,278.7 L249.3,278.3 L250.4,277.9 L251.6,277.5 L252.8,277.1 L254.0,276.7 L255.2,276.4 L256.4,276.0 L257.5,275.7 L258.7,275.4 L259.9,275.1 L261.1,274.9 L262.3,274.6 L263.4,274.4 L264.6,274.2 L265.8,274.0 L267.0,273.8 L268.2,273.6 L269.4,273.5 L270.5,273.4 L271.7,273.3 L272.9,273.2 L274.1,273.1 L275.3,273.1 L276.4,273.1 L277.6,273.0 L278.8,273.3 L280.0,273.5 L281.2,273.7 L282.4,273.9 L283.5,274.2 L284.7,274.4 L285.9,274.7 L287.1,274.9 L288.3,275.2 L289.4,275.4 L290.6,275.7 L291.8,275.9 L293.0,276.2 L294.2,276.4 L295.4,276.7 L296.5,277.0 L297.7,277.2 L298.9,277.5 L300.1,277.7 L301.3,278.0 L302.5,278.3 L303.6,278.5 L304.8,278.8 L306.0,279.0 L307.2,279.3 L308.4,279.6 L309.5,279.8 L310.7,280.1 L311.9,280.3 L313.1,280.6 L314.3,280.8 L315.5,281.1 L316.6,281.3 L317.8,281.5 L319.0,281.8 L320.2,282.0 L321.4,282.2 L322.5,282.5 L323.7,282.7 L324.9,282.9 L326.1,283.1 L327.3,283.4 L328.5,283.6 L329.6,283.8 L330.8,284.0 L332.0,284.2 L333.2,284.4 L334.4,284.6 L335.5,284.8 L336.7,285.0 L337.9,285.2 L339.1,285.4 L340.3,285.6 L341.5,285.8 L342.6,286.1 L343.8,286.3 L345.0,286.5 L346.2,286.7 L347.4,286.9 L348.5,287.1 L349.7,287.3 L350.9,287.5 L352.1,287.7 L353.3,287.9 L354.5,288.1 L355.6,288.2 L356.8,288.4 L358.0,288.5 L359.2,288.7 L360.4,288.8 L361.6,288.9 L362.7,289.0 L363.9,289.2 L365.1,289.3 L366.3,289.4 L367.5,289.5 L368.6,289.5 L369.8,289.6 L371.0,289.7 L372.2,289.7 L373.4,289.8 L374.6,289.9 L375.7,289.9 L376.9,290.0 L378.1,290.0 L673.6,290.2" stroke="#909090"/>
<path d="M118.1,307.3 L119.2,307.3 L120.4,307.3 L121.6,307.3 L122.8,307.3 L124.0,307.3 L125.2,307.3 L126.3,307.3 L127.5,307.3 L128.7,307.3 L129.9,307.3 L131.1,307.3 L132.2,307.3 L133.4,307.3 L134.6,307.3 L135.8,307.3 L137.0,307.3 L138.2,307.3 L139.3,307.3 L140.5,307.3 L141.7,307.3 L142.9,307.3 L144.1,307.3 L145.2,307.3 L146.4,307.3 L147.6,307.3 L148.8,307.3 L150.0,307.3 L151.2,307.3 L152.3,307.3 L153.5,307.3 L154.7,307.3 L155.9,307.3 L157.1,307.3 L158.2,307.3 L159.4,307.3 L160.6,307.3 L161.8,307.3 L163.0,307.3 L164.2,307.3 L165.3,307.3 L166.5,307.3 L167.7,307.3 L168.9,307.3 L170.1,307.3 L171.2,307.3 L172.4,307.3 L173.6,307.3 L174.8,307.3 L176.0,307.3 L177.2,307.3 L178.3,307.3 L179.5,307.3 L180.7,307.3 L181.9,307.3 L183.1,307.3 L184.3,307.3 L185.4,307.3 L186.6,307.3 L187.8,307.3 L189.0,307.3 L190.2,307.0 L191.3,306.5 L192.5,306.0 L193.7,305.4 L194.9,304.7 L196.1,304.0 L197.3,303.3 L198.4,302.6 L199.6,301.8 L200.8,301.0 L202.0,300.2 L203.2,299.4 L204.3,298.5 L205.5,297.7 L206.7,296.8 L207.9,295.9 L209.1,295.0 L210.3,294.1 L211.4,293.2 L212.6,292.3 L213.8,291.4 L215.0,290.5 L216.2,289.6 L217.3,288.7 L218.5,287.8 L219.7,286.9 L220.9,286.0 L222.1,285.1 L223.3,284.2 L224.4,283.3 L225.6,282.5 L226.8,281.6 L228.0,280.7 L229.2,279.9 L230.3,279.1 L231.5,278.3 L232.7,277.5 L233.9,276.7 L235.1,275.9 L236.3,275.1 L237.4,274.4 L238.6,273.7 L239.8,273.0 L241.0,272.3 L242.2,271.6 L243.4,271.0 L244.5,270.4 L245.7,269.8 L246.9,269.2 L248.1,268.6 L249.3,268.1 L250.4,267.6 L251.6,267.1 L252.8,266.6 L254.0,266.2 L255.2,265.8 L256.4,265.4 L257.5,265.1 L258.7,264.7 L259.9,264.4 L261.1,264.2 L262.3,263.9 L263.4,263.7 L264.6,263.5 L265.8,263.4 L267.0,263.2 L268.2,263.1 L269.4,263.1 L270.5,263.0 L271.7,263.0 L272.9,263.3 L274.1,263.5 L275.3,263.8 L276.4,264.1 L277.6,264.4 L278.8,264.6 L280.0,264.9 L281.2,265.2 L282.4,265.5 L283.5,265.8 L284.7,266.1 L285.9,266.4 L287.1,266.7 L288.3,267.1 L289.4,267.4 L290.6,267.7 L291.8,268.0 L293.0,268.3 L294.2,268.6 L295.4,268.9 L296.5,269.2 L297.7,269.5 L298.9,269.8 L300.1,270.2 L301.3,270.5 L302.5,270.8 L303.6,271.1 L304.8,271.4 L306.0,271.7 L307.2,272.0 L308.4,272.2 L309.5,272.5 L310.7,272.8 L311.9,273.1 L313.1,273.4 L314.3,273.6 L315.5,273.9 L316.6,274.2 L317.8,274.4 L319.0,274.7 L320.2,274.9 L321.4,275.2 L322.5,275.4 L323.7,275.7 L324.9,275.9 L326.1,276.1 L327.3,276.3 L328.5,276.6 L329.6,276.8 L330.8,277.0 L332.0,277.2 L333.2,277.4 L334.4,277.6 L335.5,277.8 L336.7,278.0 L337.9,278.2 L339.1,278.4 L340.3,278.6 L341.5,278.8 L342.6,279.0 L343.8,279.2 L345.0,279.4 L346.2,279.5 L347.4,279.7 L348.5,279.9 L349.7,280.1 L350.9,280.2 L352.1,280.4 L353.3,280.5 L354.5,280.7 L355.6,280.8 L356.8,281.0 L358.0,281.1 L359.2,281.2 L360.4,281.3 L361.6,281.4 L362.7,281.5 L363.9,281.6 L365.1,281.7 L366.3,281.7 L367.5,281.8 L368.6,281.9 L369.8,281.9 L371.0,282.0 L372.2,282.0 L373.4,282.1 L374.6,282.1 L375.7,282.1 L376.9,282.2 L378.1,282.2 L673.6,282.3" stroke="#909090"/>
<path d="M118.1,307.3 L119.2,307.3 L120.4,307.3 L121.6,307.3 L122.8,307.3 L124.0,307.3 L125.2,307.3 L126.3,307.3 L127.5,307.3 L128.7,307.3 L129.9,307.3 L131.1,307.3 L132.2,307.3 L133.4,307.3 L134.6,307.3 L135.8,307.3 L137.0,307.3 L138.2,307.3 L139.3,307.3 L140.5,307.3 L141.7,307.3 L142.9,307.3 L144.1,307.3 L145.2,307.3 L146.4,307.3 L147.6,307.3 L148.8,307.3 L150.0,307.3 L151.2,307.3 L152.3,307.3 L153.5,307.3 L154.7,307.3 L155.9,307.3 L157.1,307.3 L158.2,307.3 L159.4,307.3 L160.6,307.3 L161.8,307.3 L163.0,307.3 L164.2,307.3 L165.3,307.3 L166.5,307.3 L167.7,307.3 L168.9,307.3 L170.1,307.3 L171.2,307.3 L172.4,307.3 L173.6,307.3 L174.8,307.3 L176.0,307.3 L177.2,307.3 L178.3,307.3 L179.5,307.3 L180.7,307.3 L181.9,307.3 L183.1,307.3 L184.3,307.3 L185.4,307.2 L186.6,306.9 L187.8,306.5 L189.0,306.1 L190.2,305.6 L191.3,305.1 L192.5,304.6 L193.7,304.0 L194.9,303.5 L196.1,302.9 L197.3,302.3 L198.4,301.7 L199.6,301.0 L200.8,300.4 L202.0,299.7 L203.2,299.1 L204.3,298.4 L205.5,297.7 L206.7,297.0 L207.9,296.4 L209.1,295.7 L210.3,295.0 L211.4,294.3 L212.6,293.6 L213.8,292.9 L215.0,292.2 L216.2,291.5 L217.3,290.8 L218.5,290.2 L219.7,289.5 L220.9,288.8 L222.1,288.1 L223.3,287.5 L224.4,286.8 L225.6,286.2 L226.8,285.5 L228.0,284.9 L229.2,284.2 L230.3,283.6 L231.5,283.0 L232.7,282.4 L233.9,281.9 L235.1,281.3 L236.3,280.7 L237.4,280.2 L238.6,279.7 L239.8,279.1 L241.0,278.6 L242.2,278.1 L243.4,277.7 L244.5,277.2 L245.7,276.8 L246.9,276.4 L248.1,276.0 L249.3,275.6 L250.4,275.2 L251.6,274.8 L252.8,274.5 L254.0,274.2 L255.2,273.9 L256.4,273.6 L257.5,273.4 L258.7,273.1 L259.9,272.9 L261.1,272.7 L262.3,272.5 L263.4,272.4 L264.6,272.2 L265.8,272.1 L267.0,272.0 L268.2,272.0 L269.4,271.9 L270.5,271.9 L271.7,271.9 L272.9,272.1 L274.1,272.3 L275.3,272.6 L276.4,272.8 L277.6,273.1 L278.8,273.3 L280.0,273.6 L281.2,273.8 L282.4,274.1 L283.5,274.4 L284.7,274.6 L285.9,274.9 L287.1,275.2 L288.3,275.5 L289.4,275.7 L290.6,276.0 L291.8,276.3 L293.0,276.6 L294.2,276.8 L295.4,277.1 L296.5,277.4 L297.7,277.6 L298.9,277.9 L300.1,278.2 L301.3,278.4 L302.5,278.7 L303.6,279.0 L304.8,279.2 L306.0,279.5 L307.2,279.7 L308.4,280.0 L309.5,280.2 L310.7,280.4 L311.9,280.7 L313.1,280.9 L314.3,281.1 L315.5,281.3 L316.6,281.5 L317.8,281.7 L319.0,282.0 L320.2,282.1 L321.4,282.3 L322.5,282.5 L323.7,282.7 L324.9,282.9 L326.1,283.1 L327.3,283.2 L328.5,283.4 L329.6,283.6 L330.8,283.7 L332.0,283.9 L333.2,284.0 L334.4,284.1 L335.5,284.3 L336.7,284.4 L337.9,284.6 L339.1,284.7 L340.3,284.8 L341.5,285.0 L342.6,285.1 L343.8,285.2 L345.0,285.4 L346.2,285.5 L347.4,285.6 L348.5,285.7 L349.7,285.8 L350.9,285.9 L352.1,286.0 L353.3,286.1 L354.5,286.2 L355.6,286.2 L356.8,286.3 L358.0,286.4 L359.2,286.4 L360.4,286.5 L361.6,286.5 L362.7,286.6 L363.9,286.6 L365.1,286.7 L366.3,286.7 L367.5,286.8 L368.6,286.8 L369.8,286.8 L371.0,286.8 L372.2,286.9 L373.4,286.9 L374.6,286.9 L375.7,286.9 L376.9,286.9 L378.1,286.9 L673.6,287.0" stroke="#909090"/>
<path d="M118.1,307.3 L119.2,307.3 L120.4,307.3 L121.6,307.3 L122.8,307.3 L124.0,307.3 L125.2,307.3 L126.3,307.3 L127.5,307.3 L128.7,307.3 L129.9,307.3 L131.1,307.3 L132.2,307.3 L133.4,307.3 L134.6,307.3 L135.8,307.3 L137.0,307.3 L138.2,307.3 L139.3,307.3 L140.5,307.3 L141.7,307.3 L142.9,307.3 L144.1,307.3 L145.2,307.3 L146.4,307.3 L147.6,307.3 L148.8,307.3 L150.0,307.3 L151.2,307.3 L152.3,307.3 L153.5,307.3 L154.7,307.3 L155.9,307.3 L157.1,307.3 L158.2,307.3 L159.4,307.3 L160.6,307.3 L161.8,307.3 L163.0,307.3 L164.2,307.3 L165.3,307.3 L166.5,307.3 L167.7,307.3 L168.9,307.3 L170.1,307.3 L171.2,307.3 L172.4,307.3 L173.6,307.3 L174.8,307.3 L176.0,307.3 L177.2,307.3 L178.3,307.3 L179.5,307.3 L180.7,307.3 L181.9,307.3 L183.1,307.3 L184.3,307.3 L185.4,307.3 L186.6,307.2 L187.8,307.0 L189.0,306.8 L190.2,306.5 L191.3,306.2 L192.5,305.8 L193.7,305.5 L194.9,305.1 L196.1,304.7 L197.3,304.3 L198.4,303.9 L199.6,303.4 L200.8,303.0 L202.0,302.6 L203.2,302.1 L204.3,301.7 L205.5,301.2 L206.7,300.7 L207.9,300.2 L209.1,299.8 L210.3,299.3 L211.4,298.8 L212.6,298.3 L213.8,297.8 L215.0,297.3 L216.2,296.8 L217.3,296.3 L218.5,295.8 L219.7,295.3 L220.9,294.8 L222.1,294.3 L223.3,293.8 L224.4,293.3 L225.6,292.8 L226.8,292.3 L228.0,291.8 L229.2,291.3 L230.3,290.8 L231.5,290.3 L232.7,289.8 L233.9,289.3 L235.1,288.8 L236.3,288.3 L237.4,287.9 L238.6,287.4 L239.8,286.9 L241.0,286.5 L242.2,286.0 L243.4,285.6 L244.5,285.1 L245.7,284.7 L246.9,284.3 L248.1,283.9 L249.3,283.4 L250.4,283.0 L251.6,282.6 L252.8,282.2 L254.0,281.9 L255.2,281.5 L256.4,281.1 L257.5,280.8 L258.7,280.4 L259.9,280.1 L261.1,279.7 L262.3,279.4 L263.4,279.1 L264.6,278.8 L265.8,278.5 L267.0,278.2 L268.2,278.0 L269.4,277.7 L270.5,277.4 L271.7,277.2 L272.9,277.0 L274.1,276.8 L275.3,276.6 L276.4,276.4 L277.6,276.2 L278.8,276.0 L280.0,275.8 L281.2,275.7 L282.4,275.5 L283.5,275.4 L284.7,275.3 L285.9,275.2 L287.1,275.1 L288.3,275.0 L289.4,275.0 L290.6,274.9 L291.8,274.9 L293.0,274.8 L294.2,274.8 L295.4,274.8 L296.5,275.0 L297.7,275.1 L298.9,275.3 L300.1,275.4 L301.3,275.6 L302.5,275.8 L303.6,276.0 L304.8,276.1 L306.0,276.3 L307.2,276.5 L308.4,276.7 L309.5,276.8 L310.7,277.0 L311.9,277.2 L313.1,277.4 L314.3,277.6 L315.5,277.7 L316.6,277.9 L317.8,278.1 L319.0,278.3 L320.2,278.5 L321.4,278.7 L322.5,278.8 L323.7,279.0 L324.9,279.2 L326.1,279.4 L327.3,279.5 L328.5,279.7 L329.6,279.9 L330.8,280.1 L332.0,280.2 L333.2,280.4 L334.4,280.5 L335.5,280.7 L336.7,280.9 L337.9,281.1 L339.1,281.3 L340.3,281.5 L341.5,281.6 L342.6,281.8 L343.8,282.0 L345.0,282.2 L346.2,282.4 L347.4,282.6 L348.5,282.8 L349.7,283.0 L350.9,283.1 L352.1,283.3 L353.3,283.5 L354.5,283.6 L355.6,283.8 L356.8,283.9 L358.0,284.0 L359.2,284.2 L360.4,284.3 L361.6,284.4 L362.7,284.5 L363.9,284.6 L365.1,284.7 L366.3,284.8 L367.5,284.9 L368.6,284.9 L369.8,285.0 L371.0,285.1 L372.2,285.1 L373.4,285.2 L374.6,285.2 L375.7,285.3 L376.9,285.3 L378.1,285.3 L673.6,285.5" stroke="#909090"/>
<path d="M118.1,307.3 L119.2,307.3 L120.4,307.3 L121.6,307.3 L122.8,307.3 L124.0,307.3 L125.2,307.3 L126.3,307.3 L127.5,307.3 L128.7,307.3 L129.9,307.3 L131.1,307.3 L132.2,307.3 L133.4,307.3 L134.6,307.3 L135.8,307.3 L137.0,307.3 L138.2,307.3 L139.3,307.3 L140.5,307.3 L141.7,307.3 L142.9,307.3 L144.1,307.3 L145.2,307.3 L146.4,307.3 L147.6,307.3 L148.8,307.3 L150.0,307.3 L151.2,307.3 L152.3,307.3 L153.5,307.3 L154.7,307.3 L155.9,307.3 L157.1,307.3 L158.2,307.3 L159.4,307.3 L160.6,307.3 L161.8,307.3 L163.0,307.3 L164.2,307.3 L165.3,307.3 L166.5,307.3 L167.7,307.3 L168.9,307.3 L170.1,307.3 L171.2,307.3 L172.4,307.3 L173.6,307.3 L174.8,307.3 L176.0,307.3 L177.2,307.3 L178.3,307.3 L179.5,307.3 L180.7,307.3 L181.9,307.3 L183.1,307.3 L184.3,307.3 L185.4,307.2 L186.6,306.9 L187.8,306.6 L189.0,306.2 L190.2,305.8 L191.3,305.3 L192.5,304.8 L193.7,304.3 L194.9,303.8 L196.1,303.3 L197.3,302.8 L198.4,302.2 L199.6,301.6 L200.8,301.1 L202.0,300.5 L203.2,299.9 L204.3,299.3 L205.5,298.7 L206.7,298.1 L207.9,297.5 L209.1,296.9 L210.3,296.3 L211.4,295.7 L212.6,295.1 L213.8,294.5 L215.0,293.9 L216.2,293.3 L217.3,292.8 L218.5,292.2 L219.7,291.6 L220.9,291.1 L222.1,290.5 L223.3,290.0 L224.4,289.4 L225.6,288.9 L226.8,288.4 L228.0,287.9 L229.2,287.4 L230.3,286.9 L231.5,286.5 L232.7,286.0 L233.9,285.6 L235.1,285.2 L236.3,284.8 L237.4,284.4 L238.6,284.0 L239.8,283.7 L241.0,283.4 L242.2,283.0 L243.4,282.8 L244.5,282.5 L245.7,282.2 L246.9,282.0 L248.1,281.8 L249.3,281.6 L250.4,281.4 L251.6,281.2 L252.8,281.1 L254.0,281.0 L255.2,280.9 L256.4,280.8 L257.5,280.8 L258.7,280.7 L259.9,280.7 L261.1,280.9 L262.3,281.0 L263.4,281.2 L264.6,281.4 L265.8,281.6 L267.0,281.7 L268.2,281.9 L269.4,282.1 L270.5,282.3 L271.7,282.4 L272.9,282.6 L274.1,282.8 L275.3,283.0 L276.4,283.2 L277.6,283.4 L278.8,283.6 L280.0,283.8 L281.2,284.0 L282.4,284.1 L283.5,284.3 L284.7,284.5 L285.9,284.7 L287.1,284.9 L288.3,285.1 L289.4,285.3 L290.6,285.4 L291.8,285.6 L293.0,285.8 L294.2,286.0 L295.4,286.2 L296.5,286.3 L297.7,286.5 L298.9,286.7 L300.1,286.8 L301.3,287.0 L302.5,287.2 L303.6,287.3 L304.8,287.5 L306.0,287.6 L307.2,287.8 L308.4,287.9 L309.5,288.1 L310.7,288.2 L311.9,288.3 L313.1,288.5 L314.3,288.6 L315.5,288.7 L316.6,288.8 L317.8,289.0 L319.0,289.1 L320.2,289.2 L321.4,289.3 L322.5,289.4 L323.7,289.5 L324.9,289.6 L326.1,289.7 L327.3,289.8 L328.5,289.9 L329.6,290.0 L330.8,290.1 L332.0,290.2 L333.2,290.2 L334.4,290.3 L335.5,290.4 L336.7,290.5 L337.9,290.5 L339.1,290.6 L340.3,290.7 L341.5,290.8 L342.6,290.8 L343.8,290.9 L345.0,291.0 L346.2,291.0 L347.4,291.1 L348.5,291.1 L349.7,291.2 L350.9,291.2 L352.1,291.3 L353.3,291.3 L354.5,291.4 L355.6,291.4 L356.8,291.5 L358.0,291.5 L359.2,291.5 L360.4,291.6 L361.6,291.6 L362.7,291.6 L363.9,291.6 L365.1,291.7 L366.3,291.7 L367.5,291.7 L368.6,291.7 L369.8,291.7 L371.0,291.7 L372.2,291.8 L373.4,291.8 L374.6,291.8 L375.7,291.8 L376.9,291.8 L378.1,291.8 L673.6,291.8" stroke="#909090"/>
<path d="M118.1,307.3 L119.2,307.3 L120.4,307.3 L121.6,307.3 L122.8,307.3 L124.0,307.3 L125.2,307.3 L126.3,307.3 L127.5,307.3 L128.7,307.3 L129.9,307.3 L131.1,307.3 L132.2,307.3 L133.4,307.3 L134.6,307.3 L135.8,307.3 L137.0,307.3 L138.2,307.3 L139.3,307.3 L140.5,307.3 L141.7,307.3 L142.9,307.3 L144.1,307.3 L145.2,307.3 L146.4,307.3 L147.6,307.3 L148.8,307.3 L150.0,307.3 L151.2,307.3 L152.3,307.3 L153.5,307.3 L154.7,307.3 L155.9,307.3 L157.1,307.3 L158.2,307.3 L159.4,307.3 L160.6,307.3 L161.8,307.3 L163.0,307.3 L164.2,307.3 L165.3,307.3 L166.5,307.3 L167.7,307.3 L168.9,307.3 L170.1,307.3 L171.2,307.3 L172.4,307.3 L173.6,307.3 L174.8,307.3 L176.0,307.3 L177.2,307.3 L178.3,307.3 L179.5,307.3 L180.7,307.3 L181.9,307.3 L183.1,307.3 L184.3,307.3 L185.4,307.2 L186.6,307.0 L187.8,306.8 L189.0,306.5 L190.2,306.2 L191.3,305.9 L192.5,305.6 L193.7,305.2 L194.9,304.9 L196.1,304.5 L197.3,304.2 L198.4,303.8 L199.6,303.4 L200.8,303.0 L202.0,302.6 L203.2,302.2 L204.3,301.8 L205.5,301.4 L206.7,301.0 L207.9,300.6 L209.1,300.2 L210.3,299.7 L211.4,299.3 L212.6,298.9 L213.8,298.5 L215.0,298.0 L216.2,297.6 L217.3,297.2 L218.5,296.8 L219.7,296.4 L220.9,295.9 L222.1,295.5 L223.3,295.1 L224.4,294.7 L225.6,294.3 L226.8,293.9 L228.0,293.5 L229.2,293.1 L230.3,292.8 L231.5,292.4 L232.7,292.0 L233.9,291.6 L235.1,291.3 L236.3,290.9 L237.4,290.6 L238.6,290.3 L239.8,289.9 L241.0,289.6 L242.2,289.3 L243.4,289.0 L244.5,288.7 L245.7,288.4 L246.9,288.2 L248.1,287.9 L249.3,287.6 L250.4,287.4 L251.6,287.2 L252.8,286.9 L254.0,286.7 L255.2,286.5 L256.4,286.3 L257.5,286.1 L258.7,286.0 L259.9,285.8 L261.1,285.7 L262.3,285.5 L263.4,285.4 L264.6,285.3 L265.8,285.2 L267.0,285.1 L268.2,285.0 L269.4,285.0 L270.5,284.9 L271.7,284.9 L272.9,284.9 L274.1,284.9 L275.3,284.9 L276.4,285.0 L277.6,285.1 L278.8,285.3 L280.0,285.4 L281.2,285.5 L282.4,285.6 L283.5,285.8 L284.7,285.9 L285.9,286.0 L287.1,286.2 L288.3,286.3 L289.4,286.4 L290.6,286.6 L291.8,286.7 L293.0,286.8 L294.2,287.0 L295.4,287.1 L296.5,287.2 L297.7,287.4 L298.9,287.5 L300.1,287.6 L301.3,287.8 L302.5,287.9 L303.6,288.0 L304.8,288.2 L306.0,288.3 L307.2,288.4 L308.4,288.6 L309.5,288.7 L310.7,288.8 L311.9,289.0 L313.1,289.1 L314.3,289.2 L315.5,289.3 L316.6,289.4 L317.8,289.6 L319.0,289.7 L320.2,289.8 L321.4,289.9 L322.5,290.0 L323.7,290.1 L324.9,290.2 L326.1,290.3 L327.3,290.4 L328.5,290.5 L329.6,290.6 L330.8,290.7 L332.0,290.8 L333.2,290.9 L334.4,291.0 L335.5,291.1 L336.7,291.2 L337.9,291.3 L339.1,291.4 L340.3,291.5 L341.5,291.6 L342.6,291.7 L343.8,291.8 L345.0,291.9 L346.2,291.9 L347.4,292.0 L348.5,292.1 L349.7,292.2 L350.9,292.3 L352.1,292.4 L353.3,292.4 L354.5,292.5 L355.6,292.6 L356.8,292.6 L358.0,292.7 L359.2,292.7 L360.4,292.8 L361.6,292.8 L362.7,292.9 L363.9,292.9 L365.1,293.0 L366.3,293.0 L367.5,293.0 L368.6,293.1 L369.8,293.1 L371.0,293.1 L372.2,293.2 L373.4,293.2 L374.6,293.2 L375.7,293.2 L376.9,293.2 L378.1,293.2 L673.6,293.3" stroke="#909090"/>
<path d="M118.1,307.3 L119.2,307.3 L120.4,307.3 L121.6,307.3 L122.8,307.3 L124.0,307.3 L125.2,307.3 L126.3,307.3 L127.5,307.3 L128.7,307.3 L129.9,307.3 L131.1,307.3 L132.2,307.3 L133.4,307.3 L134.6,307.3 L135.8,307.3 L137.0,307.3 L138.2,307.3 L139.3,307.3 L140.5,307.3 L141.7,307.3 L142.9,307.3 L144.1,307.3 L145.2,307.3 L146.4,307.3 L147.6,307.3 L148.8,307.3 L150.0,307.3 L151.2,307.3 L152.3,307.3 L153.5,307.3 L154.7,307.3 L155.9,307.3 L157.1,307.3 L158.2,307.3 L159.4,307.3 L160.6,307.3 L161.8,307.3 L163.0,307.3 L164.2,307.3 L165.3,307.3 L166.5,307.3 L167.7,307.3 L168.9,307.3 L170.1,307.3 L171.2,307.3 L172.4,307.3 L173.6,307.3 L174.8,307.3 L176.0,307.3 L177.2,307.3 L178.3,307.3 L179.5,307.3 L180.7,307.3 L181.9,307.3 L183.1,307.3 L184.3,307.3 L185.4,307.3 L186.6,307.3 L187.8,307.3 L189.0,307.3 L190.2,307.3 L191.3,307.3 L192.5,307.3 L193.7,307.3 L194.9,307.3 L196.1,307.1 L197.3,306.6 L198.4,305.8 L199.6,304.6 L200.8,303.1 L202.0,301.3 L203.2,299.3 L204.3,296.9 L205.5,294.3 L206.7,291.6 L207.9,288.6 L209.1,285.4 L210.3,282.2 L211.4,278.8 L212.6,275.3 L213.8,271.9 L215.0,268.4 L216.2,265.0 L217.3,261.6 L218.5,258.3 L219.7,255.2 L220.9,252.2 L222.1,249.4 L223.3,246.8 L224.4,244.5 L225.6,242.4 L226.8,240.6 L228.0,239.1 L229.2,238.0 L230.3,237.1 L231.5,236.6 L232.7,236.4 L233.9,237.1 L235.1,237.7 L236.3,238.4 L237.4,239.1 L238.6,239.9 L239.8,240.6 L241.0,241.3 L242.2,242.1 L243.4,242.8 L244.5,243.6 L245.7,244.4 L246.9,245.1 L248.1,245.9 L249.3,246.7 L250.4,247.4 L251.6,248.2 L252.8,248.9 L254.0,249.6 L255.2,250.3 L256.4,251.0 L257.5,251.7 L258.7,252.4 L259.9,253.1 L261.1,253.7 L262.3,254.3 L263.4,254.9 L264.6,255.5 L265.8,256.1 L267.0,256.6 L268.2,257.1 L269.4,257.6 L270.5,258.1 L271.7,258.6 L272.9,259.0 L274.1,259.4 L275.3,259.8 L276.4,260.2 L277.6,260.6 L278.8,260.9 L280.0,261.2 L281.2,261.5 L282.4,261.8 L283.5,262.1 L284.7,262.3 L285.9,262.6 L287.1,262.8 L288.3,263.0 L289.4,263.2 L290.6,263.4 L291.8,263.6 L293.0,263.7 L294.2,263.9 L295.4,264.0 L296.5,264.1 L297.7,264.2 L298.9,264.4 L300.1,264.5 L301.3,264.5 L302.5,264.6 L303.6,264.7 L304.8,264.8 L306.0,264.8 L307.2,264.9 L308.4,264.9 L309.5,265.0 L310.7,265.0 L311.9,265.1 L313.1,265.1 L314.3,265.2 L315.5,265.2 L316.6,265.2 L317.8,265.2 L319.0,265.3 L320.2,265.3 L321.4,265.3 L322.5,265.3 L323.7,265.3 L324.9,265.3 L326.1,265.3 L327.3,265.4 L328.5,265.4 L329.6,265.4 L330.8,265.4 L332.0,265.4 L333.2,265.4 L334.4,265.4 L335.5,265.4 L336.7,265.4 L337.9,265.4 L339.1,265.4 L340.3,265.4 L341.5,265.4 L342.6,265.4 L343.8,265.4 L345.0,265.4 L346.2,265.4 L347.4,265.4 L348.5,265.4 L349.7,265.4 L350.9,265.4 L352.1,265.4 L353.3,265.4 L354.5,265.4 L355.6,265.4 L356.8,265.4 L358.0,265.4 L359.2,265.4 L360.4,265.4 L361.6,265.4 L362.7,265.4 L363.9,265.4 L365.1,265.4 L366.3,265.4 L367.5,265.4 L368.6,265.4 L369.8,265.4 L371.0,265.4 L372.2,265.4 L373.4,265.4 L374.6,265.4 L375.7,265.4 L376.9,265.4 L378.1,265.4 L673.6,265.4" stroke="#909090"/>
<path d="M118.1,307.3 L119.2,307.3 L120.4,307.3 L121.6,307.3 L122.8,307.3 L124.0,307.3 L125.2,307.3 L126.3,307.3 L127.5,307.3 L128.7,307.3 L129.9,307.3 L131.1,307.3 L132.2,307.3 L133.4,307.3 L134.6,307.3 L135.8,307.3 L137.0,307.3 L138.2,307.3 L139.3,307.3 L140.5,307.3 L141.7,307.3 L142.9,307.3 L144.1,307.3 L145.2,307.3 L146.4,307.3 L147.6,307.3 L148.8,307.3 L150.0,307.3 L151.2,307.3 L152.3,307.3 L153.5,307.3 L154.7,307.3 L155.9,307.3 L157.1,307.3 L158.2,307.3 L159.4,307.3 L160.6,307.3 L161.8,307.3 L163.0,307.3 L164.2,307.3 L165.3,307.3 L166.5,307.3 L167.7,307.3 L168.9,307.3 L170.1,307.3 L171.2,307.3 L172.4,307.3 L173.6,307.3 L174.8,307.3 L176.0,307.3 L177.2,307.3 L178.3,307.3 L179.5,307.3 L180.7,307.3 L181.9,307.3 L183.1,307.3 L184.3,307.3 L185.4,307.3 L186.6,307.3 L187.8,307.3 L189.0,307.3 L190.2,307.3 L191.3,307.3 L192.5,307.3 L193.7,307.0 L194.9,306.4 L196.1,305.6 L197.3,304.5 L198.4,303.1 L199.6,301.5 L200.8,299.7 L202.0,297.7 L203.2,295.5 L204.3,293.1 L205.5,290.5 L206.7,287.9 L207.9,285.1 L209.1,282.3 L210.3,279.4 L211.4,276.5 L212.6,273.5 L213.8,270.7 L215.0,267.9 L216.2,265.2 L217.3,262.5 L218.5,260.1 L219.7,257.8 L220.9,255.6 L222.1,253.7 L223.3,252.0 L224.4,250.5 L225.6,249.3 L226.8,248.3 L228.0,247.6 L229.2,247.2 L230.3,247.1 L231.5,247.7 L232.7,248.3 L233.9,248.9 L235.1,249.6 L236.3,250.3 L237.4,251.0 L238.6,251.7 L239.8,252.4 L241.0,253.1 L242.2,253.8 L243.4,254.5 L244.5,255.3 L245.7,256.0 L246.9,256.7 L248.1,257.4 L249.3,258.2 L250.4,258.9 L251.6,259.6 L252.8,260.3 L254.0,261.1 L255.2,261.8 L256.4,262.5 L257.5,263.2 L258.7,263.8 L259.9,264.5 L261.1,265.2 L262.3,265.8 L263.4,266.5 L264.6,267.1 L265.8,267.7 L267.0,268.3 L268.2,268.9 L269.4,269.5 L270.5,270.0 L271.7,270.6 L272.9,271.1 L274.1,271.6 L275.3,272.1 L276.4,272.6 L277.6,273.1 L278.8,273.5 L280.0,274.0 L281.2,274.4 L282.4,274.8 L283.5,275.2 L284.7,275.6 L285.9,275.9 L287.1,276.3 L288.3,276.6 L289.4,276.9 L290.6,277.2 L291.8,277.5 L293.0,277.8 L294.2,278.1 L295.4,278.3 L296.5,278.6 L297.7,278.8 L298.9,279.0 L300.1,279.2 L301.3,279.4 L302.5,279.6 L303.6,279.8 L304.8,279.9 L306.0,280.1 L307.2,280.3 L308.4,280.4 L309.5,280.5 L310.7,280.7 L311.9,280.8 L313.1,280.9 L314.3,281.0 L315.5,281.1 L316.6,281.2 L317.8,281.3 L319.0,281.3 L320.2,281.4 L321.4,281.5 L322.5,281.5 L323.7,281.6 L324.9,281.7 L326.1,281.7 L327.3,281.8 L328.5,281.8 L329.6,281.8 L330.8,281.9 L332.0,281.9 L333.2,282.0 L334.4,282.0 L335.5,282.0 L336.7,282.0 L337.9,282.1 L339.1,282.1 L340.3,282.1 L341.5,282.1 L342.6,282.2 L343.8,282.2 L345.0,282.2 L346.2,282.2 L347.4,282.2 L348.5,282.2 L349.7,282.2 L350.9,282.2 L352.1,282.3 L353.3,282.3 L354.5,282.3 L355.6,282.3 L356.8,282.3 L358.0,282.3 L359.2,282.3 L360.4,282.3 L361.6,282.3 L362.7,282.3 L363.9,282.3 L365.1,282.3 L366.3,282.3 L367.5,282.3 L368.6,282.3 L369.8,282.3 L371.0,282.3 L372.2,282.3 L373.4,282.3 L374.6,282.3 L375.7,282.3 L376.9,282.3 L378.1,282.3 L673.6,282.3" stroke="#909090"/>
<path d="M118.1,307.3 L119.2,307.3 L120.4,307.3 L121.6,307.3 L122.8,307.3 L124.0,307.3 L125.2,307.3 L126.3,307.3 L127.5,307.3 L128.7,307.3 L129.9,307.3 L131.1,307.3 L132.2,307.3 L133.4,307.3 L134.6,307.3 L135.8,307.3 L137.0,307.3 L138.2,307.3 L139.3,307.3 L140.5,307.3 L141.7,307.3 L142.9,307.3 L144.1,307.3 L145.2,307.3 L146.4,307.3 L147.6,307.3 L148.8,307.3 L150.0,307.3 L151.2,307.3 L152.3,307.3 L153.5,307.3 L154.7,307.3 L155.9,307.3 L157.1,307.3 L158.2,307.3 L159.4,307.3 L160.6,307.3 L161.8,307.3 L163.0,307.3 L164.2,307.3 L165.3,307.3 L166.5,307.3 L167.7,307.3 L168.9,307.3 L170.1,307.3 L171.2,307.3 L172.4,307.3 L173.6,307.3 L174.8,307.3 L176.0,307.3 L177.2,307.3 L178.3,307.3 L179.5,307.3 L180.7,307.3 L181.9,307.3 L183.1,307.3 L184.3,307.3 L185.4,307.3 L186.6,307.3 L187.8,307.3 L189.0,307.3 L190.2,307.3 L191.3,307.2 L192.5,306.8 L193.7,306.1 L194.9,305.0 L196.1,303.7 L197.3,302.0 L198.4,300.1 L199.6,297.9 L200.8,295.5 L202.0,292.9 L203.2,290.1 L204.3,287.2 L205.5,284.1 L206.7,280.9 L207.9,277.7 L209.1,274.4 L210.3,271.2 L211.4,267.9 L212.6,264.8 L213.8,261.7 L215.0,258.8 L216.2,256.1 L217.3,253.5 L218.5,251.1 L219.7,249.0 L220.9,247.2 L222.1,245.6 L223.3,244.3 L224.4,243.4 L225.6,242.7 L226.8,242.4 L228.0,242.7 L229.2,243.4 L230.3,244.2 L231.5,245.0 L232.7,245.7 L233.9,246.5 L235.1,247.4 L236.3,248.2 L237.4,249.0 L238.6,249.9 L239.8,250.7 L241.0,251.6 L242.2,252.4 L243.4,253.3 L244.5,254.2 L245.7,255.0 L246.9,255.9 L248.1,256.7 L249.3,257.6 L250.4,258.4 L251.6,259.3 L252.8,260.1 L254.0,260.9 L255.2,261.7 L256.4,262.5 L257.5,263.3 L258.7,264.1 L259.9,264.9 L261.1,265.6 L262.3,266.3 L263.4,267.1 L264.6,267.8 L265.8,268.4 L267.0,269.1 L268.2,269.8 L269.4,270.4 L270.5,271.0 L271.7,271.6 L272.9,272.2 L274.1,272.7 L275.3,273.3 L276.4,273.8 L277.6,274.3 L278.8,274.8 L280.0,275.3 L281.2,275.7 L282.4,276.2 L283.5,276.6 L284.7,277.0 L285.9,277.4 L287.1,277.7 L288.3,278.1 L289.4,278.4 L290.6,278.7 L291.8,279.1 L293.0,279.3 L294.2,279.6 L295.4,279.9 L296.5,280.1 L297.7,280.4 L298.9,280.6 L300.1,280.8 L301.3,281.0 L302.5,281.2 L303.6,281.4 L304.8,281.6 L306.0,281.7 L307.2,281.9 L308.4,282.0 L309.5,282.2 L310.7,282.3 L311.9,282.4 L313.1,282.5 L314.3,282.6 L315.5,282.7 L316.6,282.8 L317.8,282.9 L319.0,283.0 L320.2,283.0 L321.4,283.1 L322.5,283.2 L323.7,283.2 L324.9,283.3 L326.1,283.3 L327.3,283.4 L328.5,283.4 L329.6,283.5 L330.8,283.5 L332.0,283.5 L333.2,283.6 L334.4,283.6 L335.5,283.6 L336.7,283.7 L337.9,283.7 L339.1,283.7 L340.3,283.7 L341.5,283.7 L342.6,283.8 L343.8,283.8 L345.0,283.8 L346.2,283.8 L347.4,283.8 L348.5,283.8 L349.7,283.8 L350.9,283.8 L352.1,283.9 L353.3,283.9 L354.5,283.9 L355.6,283.9 L356.8,283.9 L358.0,283.9 L359.2,283.9 L360.4,283.9 L361.6,283.9 L362.7,283.9 L363.9,283.9 L365.1,283.9 L366.3,283.9 L367.5,283.9 L368.6,283.9 L369.8,283.9 L371.0,283.9 L372.2,283.9 L373.4,283.9 L374.6,283.9 L375.7,283.9 L376.9,283.9 L378.1,283.9 L673.6,283.9" stroke="#909090"/>
<path d="M118.1,307.3 L119.2,307.3 L120.4,307.3 L121.6,307.3 L122.8,307.3 L124.0,307.3 L125.2,307.3 L126.3,307.3 L127.5,307.3 L128.7,307.3 L129.9,307.3 L131.1,307.3 L132.2,307.3 L133.4,307.3 L134.6,307.3 L135.8,307.3 L137.0,307.3 L138.2,307.3 L139.3,307.3 L140.5,307.3 L141.7,307.3 L142.9,307.3 L144.1,307.3 L145.2,307.3 L146.4,307.3 L147.6,307.3 L148.8,307.3 L150.0,307.3 L151.2,307.3 L152.3,307.3 L153.5,307.3 L154.7,307.3 L155.9,307.3 L157.1,307.3 L158.2,307.3 L159.4,307.3 L160.6,307.3 L161.8,307.3 L163.0,307.3 L164.2,307.3 L165.3,307.3 L166.5,307.3 L167.7,307.3 L168.9,307.3 L170.1,307.3 L171.2,307.3 L172.4,307.3 L173.6,307.3 L174.8,307.3 L176.0,307.3 L177.2,307.3 L178.3,307.3 L179.5,307.3 L180.7,307.3 L181.9,307.3 L183.1,307.3 L184.3,307.3 L185.4,307.3 L186.6,307.3 L187.8,307.3 L189.0,307.3 L190.2,307.3 L191.3,307.2 L192.5,307.0 L193.7,306.5 L194.9,305.8 L196.1,304.9 L197.3,303.8 L198.4,302.5 L199.6,301.1 L200.8,299.4 L202.0,297.6 L203.2,295.7 L204.3,293.6 L205.5,291.4 L206.7,289.0 L207.9,286.6 L209.1,284.1 L210.3,281.6 L211.4,279.0 L212.6,276.4 L213.8,273.8 L215.0,271.2 L216.2,268.6 L217.3,266.1 L218.5,263.6 L219.7,261.2 L220.9,258.9 L222.1,256.7 L223.3,254.7 L224.4,252.7 L225.6,251.0 L226.8,249.4 L228.0,248.0 L229.2,246.7 L230.3,245.7 L231.5,244.8 L232.7,244.2 L233.9,243.8 L235.1,243.5 L236.3,243.7 L237.4,244.2 L238.6,244.7 L239.8,245.2 L241.0,245.7 L242.2,246.2 L243.4,246.8 L244.5,247.3 L245.7,247.8 L246.9,248.4 L248.1,248.9 L249.3,249.5 L250.4,250.0 L251.6,250.6 L252.8,251.1 L254.0,251.6 L255.2,252.1 L256.4,252.6 L257.5,253.1 L258.7,253.6 L259.9,254.1 L261.1,254.6 L262.3,255.0 L263.4,255.4 L264.6,255.8 L265.8,256.2 L267.0,256.6 L268.2,257.0 L269.4,257.3 L270.5,257.7 L271.7,258.0 L272.9,258.3 L274.1,258.6 L275.3,258.9 L276.4,259.1 L277.6,259.4 L278.8,259.6 L280.0,259.8 L281.2,260.0 L282.4,260.2 L283.5,260.4 L284.7,260.5 L285.9,260.7 L287.1,260.8 L288.3,261.0 L289.4,261.1 L290.6,261.2 L291.8,261.3 L293.0,261.4 L294.2,261.5 L295.4,261.6 L296.5,261.6 L297.7,261.7 L298.9,261.8 L300.1,261.8 L301.3,261.9 L302.5,261.9 L303.6,262.0 L304.8,262.0 L306.0,262.0 L307.2,262.1 L308.4,262.1 L309.5,262.1 L310.7,262.1 L311.9,262.2 L313.1,262.2 L314.3,262.2 L315.5,262.2 L316.6,262.2 L317.8,262.2 L319.0,262.2 L320.2,262.2 L321.4,262.2 L322.5,262.3 L323.7,262.3 L324.9,262.3 L326.1,262.3 L327.3,262.3 L328.5,262.3 L329.6,262.3 L330.8,262.3 L332.0,262.3 L333.2,262.3 L334.4,262.3 L335.5,262.3 L336.7,262.3 L337.9,262.3 L339.1,262.3 L340.3,262.3 L341.5,262.3 L342.6,262.3 L343.8,262.3 L345.0,262.3 L346.2,262.3 L347.4,262.3 L348.5,262.3 L349.7,262.3 L350.9,262.3 L352.1,262.3 L353.3,262.3 L354.5,262.3 L355.6,262.3 L356.8,262.3 L358.0,262.3 L359.2,262.3 L360.4,262.3 L361.6,262.3 L362.7,262.3 L363.9,262.3 L365.1,262.3 L366.3,262.3 L367.5,262.3 L368.6,262.3 L369.8,262.3 L371.0,262.3 L372.2,262.3 L373.4,262.3 L374.6,262.3 L375.7,262.3 L376.9,262.3 L378.1,262.3 L673.6,262.3" stroke="#909090"/>
<path d="M118.1,307.3 L119.2,307.3 L120.4,307.3 L121.6,307.3 L122.8,307.3 L124.0,307.3 L125.2,307.3 L126.3,307.3 L127.5,307.3 L128.7,307.3 L129.9,307.3 L131.1,307.3 L132.2,307.3 L133.4,307.3 L134.6,307.3 L135.8,307.3 L137.0,307.3 L138.2,307.3 L139.3,307.3 L140.5,307.3 L141.7,307.3 L142.9,307.3 L144.1,307.3 L145.2,307.3 L146.4,307.3 L147.6,307.3 L148.8,307.3 L150.0,307.3 L151.2,307.3 L152.3,307.3 L153.5,307.3 L154.7,307.3 L155.9,307.3 L157.1,307.3 L158.2,307.3 L159.4,307.3 L160.6,307.3 L161.8,307.3 L163.0,307.3 L164.2,307.3 L165.3,307.3 L166.5,307.3 L167.7,307.3 L168.9,307.3 L170.1,307.3 L171.2,307.3 L172.4,307.3 L173.6,307.3 L174.8,307.3 L176.0,307.3 L177.2,307.3 L178.3,307.3 L179.5,307.3 L180.7,307.3 L181.9,307.3 L183.1,307.3 L184.3,307.3 L185.4,307.3 L186.6,307.3 L187.8,307.3 L189.0,307.1 L190.2,306.9 L191.3,306.7 L192.5,306.4 L193.7,306.1 L194.9,305.8 L196.1,305.5 L197.3,305.1 L198.4,304.8 L199.6,304.4 L200.8,304.1 L202.0,303.7 L203.2,303.3 L204.3,302.9 L205.5,302.5 L206.7,302.1 L207.9,301.7 L209.1,301.3 L210.3,300.9 L211.4,300.5 L212.6,300.0 L213.8,299.6 L215.0,299.2 L216.2,298.7 L217.3,298.3 L218.5,297.9 L219.7,297.4 L220.9,297.0 L222.1,296.6 L223.3,296.1 L224.4,295.7 L225.6,295.2 L226.8,294.8 L228.0,294.4 L229.2,293.9 L230.3,293.5 L231.5,293.0 L232.7,292.6 L233.9,292.2 L235.1,291.7 L236.3,291.3 L237.4,290.9 L238.6,290.5 L239.8,290.1 L241.0,289.6 L242.2,289.2 L243.4,288.8 L244.5,288.4 L245.7,288.0 L246.9,287.6 L248.1,287.3 L249.3,286.9 L250.4,286.5 L251.6,286.1 L252.8,285.8 L254.0,285.4 L255.2,285.1 L256.4,284.7 L257.5,284.4 L258.7,284.0 L259.9,283.7 L261.1,283.4 L262.3,283.1 L263.4,282.8 L264.6,282.5 L265.8,282.2 L267.0,281.9 L268.2,281.6 L269.4,281.4 L270.5,281.1 L271.7,280.9 L272.9,280.6 L274.1,280.4 L275.3,280.2 L276.4,280.0 L277.6,279.8 L278.8,279.6 L280.0,279.4 L281.2,279.2 L282.4,279.1 L283.5,278.9 L284.7,278.8 L285.9,278.6 L287.1,278.5 L288.3,278.4 L289.4,278.3 L290.6,278.2 L291.8,278.1 L293.0,278.0 L294.2,278.0 L295.4,277.9 L296.5,277.9 L297.7,277.8 L298.9,277.8 L300.1,277.8 L301.3,277.8 L302.5,277.9 L303.6,278.1 L304.8,278.3 L306.0,278.5 L307.2,278.6 L308.4,278.8 L309.5,279.0 L310.7,279.2 L311.9,279.4 L313.1,279.6 L314.3,279.8 L315.5,280.0 L316.6,280.2 L317.8,280.4 L319.0,280.6 L320.2,280.8 L321.4,281.0 L322.5,281.2 L323.7,281.4 L324.9,281.6 L326.1,281.8 L327.3,282.0 L328.5,282.2 L329.6,282.4 L330.8,282.6 L332.0,282.8 L333.2,282.9 L334.4,283.1 L335.5,283.3 L336.7,283.6 L337.9,283.8 L339.1,284.0 L340.3,284.3 L341.5,284.5 L342.6,284.8 L343.8,285.0 L345.0,285.3 L346.2,285.5 L347.4,285.8 L348.5,286.0 L349.7,286.3 L350.9,286.5 L352.1,286.8 L353.3,287.0 L354.5,287.2 L355.6,287.4 L356.8,287.6 L358.0,287.8 L359.2,288.0 L360.4,288.2 L361.6,288.4 L362.7,288.5 L363.9,288.7 L365.1,288.8 L366.3,289.0 L367.5,289.1 L368.6,289.2 L369.8,289.3 L371.0,289.4 L372.2,289.5 L373.4,289.6 L374.6,289.7 L375.7,289.8 L376.9,289.8 L378.1,289.9 L673.6,290.2" stroke="#6d6d6d"/>
<path d="M118.1,307.3 L119.2,307.3 L120.4,307.3 L121.6,307.3 L122.8,307.3 L124.0,307.3 L125.2,307.3 L126.3,307.3 L127.5,307.3 L128.7,307.3 L129.9,307.3 L131.1,307.3 L132.2,307.3 L133.4,307.3 L134.6,307.3 L135.8,307.3 L137.0,307.3 L138.2,307.3 L139.3,307.3 L140.5,307.3 L141.7,307.3 L142.9,307.3 L144.1,307.3 L145.2,307.3 L146.4,307.3 L147.6,307.3 L148.8,307.3 L150.0,307.3 L151.2,307.3 L152.3,307.3 L153.5,307.3 L154.7,307.3 L155.9,307.3 L157.1,307.3 L158.2,307.3 L159.4,307.3 L160.6,307.3 L161.8,307.3 L163.0,307.3 L164.2,307.3 L165.3,307.3 L166.5,307.3 L167.7,307.3 L168.9,307.3 L170.1,307.3 L171.2,307.3 L172.4,307.3 L173.6,307.3 L174.8,307.3 L176.0,307.3 L177.2,307.3 L178.3,307.3 L179.5,307.3 L180.7,307.3 L181.9,307.3 L183.1,307.3 L184.3,307.3 L185.4,307.3 L186.6,307.3 L187.8,307.3 L189.0,307.3 L190.2,307.2 L191.3,307.0 L192.5,306.7 L193.7,306.2 L194.9,305.5 L196.1,304.7 L197.3,303.8 L198.4,302.8 L199.6,301.7 L200.8,300.4 L202.0,299.0 L203.2,297.5 L204.3,296.0 L205.5,294.3 L206.7,292.5 L207.9,290.7 L209.1,288.8 L210.3,286.9 L211.4,284.9 L212.6,282.9 L213.8,280.9 L215.0,278.8 L216.2,276.7 L217.3,274.7 L218.5,272.6 L219.7,270.6 L220.9,268.6 L222.1,266.7 L223.3,264.8 L224.4,263.0 L225.6,261.3 L226.8,259.6 L228.0,258.0 L229.2,256.5 L230.3,255.1 L231.5,253.9 L232.7,252.7 L233.9,251.7 L235.1,250.8 L236.3,250.0 L237.4,249.4 L238.6,248.9 L239.8,248.5 L241.0,248.3 L242.2,248.2 L243.4,248.8 L244.5,249.3 L245.7,249.9 L246.9,250.5 L248.1,251.1 L249.3,251.7 L250.4,252.3 L251.6,253.0 L252.8,253.6 L254.0,254.2 L255.2,254.9 L256.4,255.5 L257.5,256.1 L258.7,256.7 L259.9,257.4 L261.1,258.0 L262.3,258.6 L263.4,259.1 L264.6,259.7 L265.8,260.3 L267.0,260.8 L268.2,261.3 L269.4,261.9 L270.5,262.3 L271.7,262.8 L272.9,263.3 L274.1,263.7 L275.3,264.1 L276.4,264.5 L277.6,264.9 L278.8,265.3 L280.0,265.6 L281.2,266.0 L282.4,266.3 L283.5,266.6 L284.7,266.8 L285.9,267.1 L287.1,267.3 L288.3,267.6 L289.4,267.8 L290.6,268.0 L291.8,268.1 L293.0,268.3 L294.2,268.5 L295.4,268.6 L296.5,268.8 L297.7,268.9 L298.9,269.0 L300.1,269.1 L301.3,269.2 L302.5,269.3 L303.6,269.4 L304.8,269.4 L306.0,269.5 L307.2,269.6 L308.4,269.6 L309.5,269.7 L310.7,269.7 L311.9,269.8 L313.1,269.8 L314.3,269.8 L315.5,269.9 L316.6,269.9 L317.8,269.9 L319.0,269.9 L320.2,270.0 L321.4,270.0 L322.5,270.0 L323.7,270.0 L324.9,270.0 L326.1,270.0 L327.3,270.0 L328.5,270.0 L329.6,270.0 L330.8,270.1 L332.0,270.1 L333.2,270.1 L334.4,270.1 L335.5,270.1 L336.7,270.1 L337.9,270.1 L339.1,270.1 L340.3,270.1 L341.5,270.1 L342.6,270.1 L343.8,270.1 L345.0,270.1 L346.2,270.1 L347.4,270.1 L348.5,270.1 L349.7,270.1 L350.9,270.1 L352.1,270.1 L353.3,270.1 L354.5,270.1 L355.6,270.1 L356.8,270.1 L358.0,270.1 L359.2,270.1 L360.4,270.1 L361.6,270.1 L362.7,270.1 L363.9,270.1 L365.1,270.1 L366.3,270.1 L367.5,270.1 L368.6,270.1 L369.8,270.1 L371.0,270.1 L372.2,270.1 L373.4,270.1 L374.6,270.1 L375.7,270.1 L376.9,270.1 L378.1,270.1 L673.6,270.1" stroke="#5d5d5d"/>
<path d="M118.1,307.3 L119.2,307.3 L120.4,307.3 L121.6,307.3 L122.8,307.3 L124.0,307.3 L125.2,307.3 L126.3,307.3 L127.5,307.3 L128.7,307.3 L129.9,307.3 L131.1,307.3 L132.2,307.3 L133.4,307.3 L134.6,307.3 L135.8,307.3 L137.0,307.3 L138.2,307.3 L139.3,307.3 L140.5,307.3 L141.7,307.3 L142.9,307.3 L144.1,307.3 L145.2,307.3 L146.4,307.3 L147.6,307.3 L148.8,307.3 L150.0,307.3 L151.2,307.3 L152.3,307.3 L153.5,307.3 L154.7,307.3 L155.9,307.3 L157.1,307.3 L158.2,307.3 L159.4,307.3 L160.6,307.3 L161.8,307.3 L163.0,307.3 L164.2,307.3 L165.3,307.3 L166.5,307.3 L167.7,307.3 L168.9,307.3 L170.1,307.3 L171.2,307.3 L172.4,307.3 L173.6,307.3 L174.8,307.3 L176.0,307.3 L177.2,307.3 L178.3,307.3 L179.5,307.3 L180.7,307.3 L181.9,307.3 L183.1,307.3 L184.3,307.3 L185.4,307.3 L186.6,307.3 L187.8,307.3 L189.0,307.3 L190.2,307.3 L191.3,307.2 L192.5,307.1 L193.7,306.9 L194.9,306.7 L196.1,306.5 L197.3,306.2 L198.4,305.8 L199.6,305.5 L200.8,305.0 L202.0,304.6 L203.2,304.0 L204.3,303.5 L205.5,302.9 L206.7,302.2 L207.9,301.6 L209.1,300.9 L210.3,300.1 L211.4,299.3 L212.6,298.5 L213.8,297.6 L215.0,296.7 L216.2,295.8 L217.3,294.8 L218.5,293.8 L219.7,292.8 L220.9,291.8 L222.1,290.7 L223.3,289.6 L224.4,288.5 L225.6,287.3 L226.8,286.1 L228.0,284.9 L229.2,283.7 L230.3,282.5 L231.5,281.3 L232.7,280.0 L233.9,278.7 L235.1,277.5 L236.3,276.2 L237.4,274.9 L238.6,273.6 L239.8,272.3 L241.0,270.9 L242.2,269.6 L243.4,268.3 L244.5,267.0 L245.7,265.7 L246.9,264.4 L248.1,263.1 L249.3,261.8 L250.4,260.5 L251.6,259.3 L252.8,258.0 L254.0,256.8 L255.2,255.6 L256.4,254.4 L257.5,253.2 L258.7,252.0 L259.9,250.9 L261.1,249.7 L262.3,248.6 L263.4,247.6 L264.6,246.5 L265.8,245.5 L267.0,244.5 L268.2,243.6 L269.4,242.6 L270.5,241.8 L271.7,240.9 L272.9,240.1 L274.1,239.3 L275.3,238.6 L276.4,237.9 L277.6,237.2 L278.8,236.6 L280.0,236.0 L281.2,235.4 L282.4,234.9 L283.5,234.5 L284.7,234.0 L285.9,233.7 L287.1,233.3 L288.3,233.1 L289.4,232.8 L290.6,232.6 L291.8,232.5 L293.0,232.4 L294.2,232.3 L295.4,232.4 L296.5,232.6 L297.7,232.9 L298.9,233.1 L300.1,233.4 L301.3,233.7 L302.5,234.0 L303.6,234.3 L304.8,234.6 L306.0,234.9 L307.2,235.1 L308.4,235.4 L309.5,235.7 L310.7,236.0 L311.9,236.4 L313.1,236.7 L314.3,237.0 L315.5,237.3 L316.6,237.6 L317.8,237.9 L319.0,238.2 L320.2,238.5 L321.4,238.8 L322.5,239.1 L323.7,239.4 L324.9,239.7 L326.1,240.0 L327.3,240.3 L328.5,240.6 L329.6,240.9 L330.8,241.2 L332.0,241.5 L333.2,241.7 L334.4,242.0 L335.5,242.3 L336.7,242.6 L337.9,243.0 L339.1,243.3 L340.3,243.6 L341.5,244.0 L342.6,244.3 L343.8,244.7 L345.0,245.0 L346.2,245.3 L347.4,245.7 L348.5,246.0 L349.7,246.3 L350.9,246.7 L352.1,247.0 L353.3,247.3 L354.5,247.6 L355.6,247.8 L356.8,248.1 L358.0,248.4 L359.2,248.6 L360.4,248.8 L361.6,249.1 L362.7,249.3 L363.9,249.5 L365.1,249.7 L366.3,249.8 L367.5,250.0 L368.6,250.1 L369.8,250.3 L371.0,250.4 L372.2,250.5 L373.4,250.6 L374.6,250.7 L375.7,250.8 L376.9,250.9 L378.1,251.0 L673.6,251.3" stroke="#3d3d3d"/>
<path d="M118.1,307.3 L119.2,307.3 L120.4,307.3 L121.6,307.3 L122.8,307.3 L124.0,307.3 L125.2,307.3 L126.3,307.3 L127.5,307.3 L128.7,307.3 L129.9,307.3 L131.1,307.3 L132.2,307.3 L133.4,307.3 L134.6,307.3 L135.8,307.3 L137.0,307.3 L138.2,307.3 L139.3,307.3 L140.5,307.3 L141.7,307.3 L142.9,307.3 L144.1,307.3 L145.2,307.3 L146.4,307.3 L147.6,307.3 L148.8,307.3 L150.0,307.3 L151.2,307.3 L152.3,307.3 L153.5,307.3 L154.7,307.3 L155.9,307.3 L157.1,307.3 L158.2,307.3 L159.4,307.3 L160.6,307.3 L161.8,307.3 L163.0,307.3 L164.2,307.3 L165.3,307.3 L166.5,307.3 L167.7,307.3 L168.9,307.3 L170.1,307.3 L171.2,307.3 L172.4,307.3 L173.6,307.3 L174.8,307.3 L176.0,307.3 L177.2,307.3 L178.3,307.3 L179.5,307.3 L180.7,307.3 L181.9,307.3 L183.1,307.3 L184.3,306.8 L185.4,305.9 L186.6,304.7 L187.8,303.4 L189.0,302.1 L190.2,300.6 L191.3,299.1 L192.5,297.6 L193.7,296.1 L194.9,294.5 L196.1,292.9 L197.3,291.3 L198.4,289.8 L199.6,288.2 L200.8,286.7 L202.0,285.3 L203.2,283.8 L204.3,282.5 L205.5,281.2 L206.7,279.9 L207.9,278.7 L209.1,277.6 L210.3,276.6 L211.4,275.7 L212.6,274.9 L213.8,274.1 L215.0,273.5 L216.2,273.0 L217.3,272.5 L218.5,272.2 L219.7,272.0 L220.9,271.9 L222.1,272.0 L223.3,272.2 L224.4,272.4 L225.6,272.7 L226.8,272.9 L228.0,273.1 L229.2,273.4 L230.3,273.6 L231.5,273.9 L232.7,274.2 L233.9,274.4 L235.1,274.7 L236.3,274.9 L237.4,275.2 L238.6,275.5 L239.8,275.7 L241.0,276.0 L242.2,276.3 L243.4,276.5 L244.5,276.8 L245.7,277.0 L246.9,277.3 L248.1,277.6 L249.3,277.8 L250.4,278.1 L251.6,278.3 L252.8,278.6 L254.0,278.8 L255.2,279.0 L256.4,279.3 L257.5,279.5 L258.7,279.7 L259.9,279.9 L261.1,280.2 L262.3,280.4 L263.4,280.6 L264.6,280.8 L265.8,281.0 L267.0,281.2 L268.2,281.3 L269.4,281.5 L270.5,281.7 L271.7,281.9 L272.9,282.0 L274.1,282.2 L275.3,282.4 L276.4,282.5 L277.6,282.6 L278.8,282.8 L280.0,282.9 L281.2,283.1 L282.4,283.2 L283.5,283.3 L284.7,283.4 L285.9,283.5 L287.1,283.6 L288.3,283.7 L289.4,283.8 L290.6,283.9 L291.8,284.0 L293.0,284.1 L294.2,284.2 L295.4,284.3 L296.5,284.3 L297.7,284.4 L298.9,284.5 L300.1,284.5 L301.3,284.6 L302.5,284.6 L303.6,284.7 L304.8,284.8 L306.0,284.8 L307.2,284.8 L308.4,284.9 L309.5,284.9 L310.7,285.0 L311.9,285.0 L313.1,285.0 L314.3,285.1 L315.5,285.1 L316.6,285.1 L317.8,285.2 L319.0,285.2 L320.2,285.2 L321.4,285.2 L322.5,285.2 L323.7,285.3 L324.9,285.3 L326.1,285.3 L327.3,285.3 L328.5,285.3 L329.6,285.3 L330.8,285.4 L332.0,285.4 L333.2,285.4 L334.4,285.4 L335.5,285.4 L336.7,285.4 L337.9,285.4 L339.1,285.4 L340.3,285.4 L341.5,285.4 L342.6,285.4 L343.8,285.5 L345.0,285.5 L346.2,285.5 L347.4,285.5 L348.5,285.5 L349.7,285.5 L350.9,285.5 L352.1,285.5 L353.3,285.5 L354.5,285.5 L355.6,285.5 L356.8,285.5 L358.0,285.5 L359.2,285.5 L360.4,285.5 L361.6,285.5 L362.7,285.5 L363.9,285.5 L365.1,285.5 L366.3,285.5 L367.5,285.5 L368.6,285.5 L369.8,285.5 L371.0,285.5 L372.2,285.5 L373.4,285.5 L374.6,285.5 L375.7,285.5 L376.9,285.5 L378.1,285.5 L673.6,285.5" stroke="#3d3d3d"/>
<path d="M118.1,307.3 L119.2,307.3 L120.4,307.3 L121.6,307.3 L122.8,307.3 L124.0,307.3 L125.2,307.3 L126.3,307.3 L127.5,307.3 L128.7,307.3 L129.9,307.3 L131.1,307.3 L132.2,307.3 L133.4,307.3 L134.6,307.3 L135.8,307.3 L137.0,307.3 L138.2,307.3 L139.3,307.3 L140.5,307.3 L141.7,307.3 L142.9,307.3 L144.1,307.3 L145.2,307.3 L146.4,307.3 L147.6,307.3 L148.8,307.3 L150.0,307.3 L151.2,307.3 L152.3,307.3 L153.5,307.3 L154.7,307.3 L155.9,307.3 L157.1,307.3 L158.2,307.3 L159.4,307.3 L160.6,307.3 L161.8,307.3 L163.0,307.3 L164.2,307.3 L165.3,307.3 L166.5,307.3 L167.7,307.3 L168.9,307.3 L170.1,307.3 L171.2,307.3 L172.4,307.3 L173.6,307.3 L174.8,307.3 L176.0,307.3 L177.2,307.3 L178.3,307.3 L179.5,307.3 L180.7,307.3 L181.9,307.3 L183.1,307.3 L184.3,307.3 L185.4,306.8 L186.6,306.2 L187.8,305.4 L189.0,304.6 L190.2,303.7 L191.3,302.7 L192.5,301.7 L193.7,300.7 L194.9,299.6 L196.1,298.6 L197.3,297.5 L198.4,296.4 L199.6,295.3 L200.8,294.2 L202.0,293.1 L203.2,292.1 L204.3,291.0 L205.5,290.0 L206.7,289.0 L207.9,288.0 L209.1,287.0 L210.3,286.1 L211.4,285.2 L212.6,284.4 L213.8,283.6 L215.0,282.8 L216.2,282.1 L217.3,281.4 L218.5,280.8 L219.7,280.2 L220.9,279.7 L222.1,279.3 L223.3,278.9 L224.4,278.5 L225.6,278.3 L226.8,278.0 L228.0,277.9 L229.2,277.8 L230.3,277.8 L231.5,277.9 L232.7,278.0 L233.9,278.1 L235.1,278.2 L236.3,278.3 L237.4,278.4 L238.6,278.5 L239.8,278.6 L241.0,278.7 L242.2,278.8 L243.4,278.9 L244.5,279.0 L245.7,279.1 L246.9,279.2 L248.1,279.3 L249.3,279.5 L250.4,279.6 L251.6,279.7 L252.8,279.8 L254.0,279.9 L255.2,280.0 L256.4,280.1 L257.5,280.2 L258.7,280.3 L259.9,280.4 L261.1,280.5 L262.3,280.7 L263.4,280.8 L264.6,280.9 L265.8,281.0 L267.0,281.1 L268.2,281.2 L269.4,281.2 L270.5,281.3 L271.7,281.4 L272.9,281.5 L274.1,281.6 L275.3,281.7 L276.4,281.8 L277.6,281.9 L278.8,281.9 L280.0,282.0 L281.2,282.1 L282.4,282.2 L283.5,282.3 L284.7,282.3 L285.9,282.4 L287.1,282.5 L288.3,282.5 L289.4,282.6 L290.6,282.6 L291.8,282.7 L293.0,282.8 L294.2,282.8 L295.4,282.9 L296.5,282.9 L297.7,283.0 L298.9,283.0 L300.1,283.1 L301.3,283.1 L302.5,283.1 L303.6,283.2 L304.8,283.2 L306.0,283.3 L307.2,283.3 L308.4,283.3 L309.5,283.4 L310.7,283.4 L311.9,283.4 L313.1,283.4 L314.3,283.5 L315.5,283.5 L316.6,283.5 L317.8,283.5 L319.0,283.6 L320.2,283.6 L321.4,283.6 L322.5,283.6 L323.7,283.6 L324.9,283.7 L326.1,283.7 L327.3,283.7 L328.5,283.7 L329.6,283.7 L330.8,283.7 L332.0,283.7 L333.2,283.8 L334.4,283.8 L335.5,283.8 L336.7,283.8 L337.9,283.8 L339.1,283.8 L340.3,283.8 L341.5,283.8 L342.6,283.8 L343.8,283.8 L345.0,283.8 L346.2,283.9 L347.4,283.9 L348.5,283.9 L349.7,283.9 L350.9,283.9 L352.1,283.9 L353.3,283.9 L354.5,283.9 L355.6,283.9 L356.8,283.9 L358.0,283.9 L359.2,283.9 L360.4,283.9 L361.6,283.9 L362.7,283.9 L363.9,283.9 L365.1,283.9 L366.3,283.9 L367.5,283.9 L368.6,283.9 L369.8,283.9 L371.0,283.9 L372.2,283.9 L373.4,283.9 L374.6,283.9 L375.7,283.9 L376.9,283.9 L378.1,283.9 L673.6,283.9" stroke="#3d3d3d"/>
<path d="M118.1,307.3 L119.2,307.3 L120.4,307.3 L121.6,307.3 L122.8,307.3 L124.0,307.3 L125.2,307.3 L126.3,307.3 L127.5,307.3 L128.7,307.3 L129.9,307.3 L131.1,307.3 L132.2,307.3 L133.4,307.3 L134.6,307.3 L135.8,307.3 L137.0,307.3 L138.2,307.3 L139.3,307.3 L140.5,307.3 L141.7,307.3 L142.9,307.3 L144.1,307.3 L145.2,307.3 L146.4,307.3 L147.6,307.3 L148.8,307.3 L150.0,307.3 L151.2,307.3 L152.3,307.3 L153.5,307.3 L154.7,307.3 L155.9,307.3 L157.1,307.3 L158.2,307.3 L159.4,307.3 L160.6,307.3 L161.8,307.3 L163.0,307.3 L164.2,307.3 L165.3,307.3 L166.5,307.3 L167.7,307.3 L168.9,307.3 L170.1,307.3 L171.2,307.3 L172.4,307.3 L173.6,307.3 L174.8,307.3 L176.0,307.3 L177.2,307.3 L178.3,307.3 L179.5,307.3 L180.7,307.3 L181.9,307.3 L183.1,307.3 L184.3,307.3 L185.4,307.3 L186.6,307.2 L187.8,306.9 L189.0,306.5 L190.2,306.0 L191.3,305.5 L192.5,305.0 L193.7,304.4 L194.9,303.8 L196.1,303.2 L197.3,302.6 L198.4,301.9 L199.6,301.3 L200.8,300.6 L202.0,299.9 L203.2,299.2 L204.3,298.5 L205.5,297.8 L206.7,297.0 L207.9,296.3 L209.1,295.5 L210.3,294.8 L211.4,294.0 L212.6,293.3 L213.8,292.5 L215.0,291.7 L216.2,291.0 L217.3,290.2 L218.5,289.4 L219.7,288.6 L220.9,287.9 L222.1,287.1 L223.3,286.3 L224.4,285.5 L225.6,284.8 L226.8,284.0 L228.0,283.2 L229.2,282.5 L230.3,281.7 L231.5,281.0 L232.7,280.2 L233.9,279.5 L235.1,278.8 L236.3,278.1 L237.4,277.4 L238.6,276.7 L239.8,276.0 L241.0,275.3 L242.2,274.6 L243.4,274.0 L244.5,273.3 L245.7,272.7 L246.9,272.0 L248.1,271.4 L249.3,270.8 L250.4,270.2 L251.6,269.7 L252.8,269.1 L254.0,268.6 L255.2,268.0 L256.4,267.5 L257.5,267.0 L258.7,266.5 L259.9,266.0 L261.1,265.6 L262.3,265.1 L263.4,264.7 L264.6,264.3 L265.8,263.9 L267.0,263.6 L268.2,263.2 L269.4,262.9 L270.5,262.6 L271.7,262.3 L272.9,262.0 L274.1,261.7 L275.3,261.5 L276.4,261.2 L277.6,261.0 L278.8,260.9 L280.0,260.7 L281.2,260.5 L282.4,260.4 L283.5,260.3 L284.7,260.2 L285.9,260.1 L287.1,260.1 L288.3,260.1 L289.4,260.1 L290.6,260.4 L291.8,260.7 L293.0,261.1 L294.2,261.5 L295.4,261.9 L296.5,262.2 L297.7,262.6 L298.9,263.0 L300.1,263.4 L301.3,263.8 L302.5,264.2 L303.6,264.6 L304.8,265.0 L306.0,265.4 L307.2,265.8 L308.4,266.3 L309.5,266.7 L310.7,267.1 L311.9,267.5 L313.1,267.9 L314.3,268.3 L315.5,268.6 L316.6,269.0 L317.8,269.4 L319.0,269.8 L320.2,270.2 L321.4,270.5 L322.5,270.9 L323.7,271.2 L324.9,271.6 L326.1,271.9 L327.3,272.2 L328.5,272.6 L329.6,272.9 L330.8,273.2 L332.0,273.5 L333.2,273.8 L334.4,274.0 L335.5,274.3 L336.7,274.6 L337.9,274.9 L339.1,275.2 L340.3,275.4 L341.5,275.7 L342.6,276.0 L343.8,276.2 L345.0,276.5 L346.2,276.7 L347.4,277.0 L348.5,277.2 L349.7,277.4 L350.9,277.6 L352.1,277.8 L353.3,278.0 L354.5,278.1 L355.6,278.3 L356.8,278.4 L358.0,278.6 L359.2,278.7 L360.4,278.8 L361.6,278.9 L362.7,279.0 L363.9,279.1 L365.1,279.2 L366.3,279.2 L367.5,279.3 L368.6,279.4 L369.8,279.4 L371.0,279.5 L372.2,279.5 L373.4,279.5 L374.6,279.6 L375.7,279.6 L376.9,279.6 L378.1,279.6 L673.6,279.7" stroke="#3d3d3d"/>
<path d="M118.1,307.3 L119.2,307.3 L120.4,307.3 L121.6,307.3 L122.8,307.3 L124.0,307.3 L125.2,307.3 L126.3,307.3 L127.5,307.3 L128.7,307.3 L129.9,307.3 L131.1,307.3 L132.2,307.3 L133.4,307.3 L134.6,307.3 L135.8,307.3 L137.0,307.3 L138.2,307.3 L139.3,307.3 L140.5,307.3 L141.7,307.3 L142.9,307.3 L144.1,307.3 L145.2,307.3 L146.4,307.3 L147.6,307.3 L148.8,307.3 L150.0,307.3 L151.2,307.3 L152.3,307.3 L153.5,307.3 L154.7,307.3 L155.9,307.3 L157.1,307.3 L158.2,307.3 L159.4,307.3 L160.6,307.3 L161.8,307.3 L163.0,307.3 L164.2,307.3 L165.3,307.3 L166.5,307.3 L167.7,307.3 L168.9,307.3 L170.1,307.3 L171.2,307.3 L172.4,307.3 L173.6,307.3 L174.8,307.3 L176.0,307.3 L177.2,307.3 L178.3,307.3 L179.5,307.3 L180.7,307.3 L181.9,307.3 L183.1,306.1 L184.3,304.4 L185.4,302.5 L186.6,300.3 L187.8,298.0 L189.0,295.6 L190.2,293.2 L191.3,290.6 L192.5,288.1 L193.7,285.5 L194.9,282.9 L196.1,280.4 L197.3,277.9 L198.4,275.5 L199.6,273.1 L200.8,270.9 L202.0,268.7 L203.2,266.6 L204.3,264.7 L205.5,262.9 L206.7,261.3 L207.9,259.8 L209.1,258.4 L210.3,257.3 L211.4,256.3 L212.6,255.5 L213.8,254.9 L215.0,254.4 L216.2,254.2 L217.3,254.3 L218.5,254.7 L219.7,255.2 L220.9,255.6 L222.1,256.1 L223.3,256.6 L224.4,257.1 L225.6,257.6 L226.8,258.1 L228.0,258.6 L229.2,259.2 L230.3,259.7 L231.5,260.2 L232.7,260.8 L233.9,261.3 L235.1,261.8 L236.3,262.3 L237.4,262.9 L238.6,263.4 L239.8,263.9 L241.0,264.4 L242.2,264.9 L243.4,265.5 L244.5,266.0 L245.7,266.4 L246.9,266.9 L248.1,267.4 L249.3,267.9 L250.4,268.3 L251.6,268.8 L252.8,269.2 L254.0,269.7 L255.2,270.1 L256.4,270.5 L257.5,270.9 L258.7,271.3 L259.9,271.7 L261.1,272.1 L262.3,272.4 L263.4,272.8 L264.6,273.1 L265.8,273.4 L267.0,273.7 L268.2,274.0 L269.4,274.3 L270.5,274.6 L271.7,274.9 L272.9,275.1 L274.1,275.4 L275.3,275.6 L276.4,275.9 L277.6,276.1 L278.8,276.3 L280.0,276.5 L281.2,276.7 L282.4,276.9 L283.5,277.0 L284.7,277.2 L285.9,277.4 L287.1,277.5 L288.3,277.7 L289.4,277.8 L290.6,277.9 L291.8,278.0 L293.0,278.1 L294.2,278.2 L295.4,278.3 L296.5,278.4 L297.7,278.5 L298.9,278.6 L300.1,278.7 L301.3,278.8 L302.5,278.8 L303.6,278.9 L304.8,279.0 L306.0,279.0 L307.2,279.1 L308.4,279.1 L309.5,279.2 L310.7,279.2 L311.9,279.3 L313.1,279.3 L314.3,279.3 L315.5,279.4 L316.6,279.4 L317.8,279.4 L319.0,279.4 L320.2,279.5 L321.4,279.5 L322.5,279.5 L323.7,279.5 L324.9,279.5 L326.1,279.6 L327.3,279.6 L328.5,279.6 L329.6,279.6 L330.8,279.6 L332.0,279.6 L333.2,279.6 L334.4,279.6 L335.5,279.6 L336.7,279.7 L337.9,279.7 L339.1,279.7 L340.3,279.7 L341.5,279.7 L342.6,279.7 L343.8,279.7 L345.0,279.7 L346.2,279.7 L347.4,279.7 L348.5,279.7 L349.7,279.7 L350.9,279.7 L352.1,279.7 L353.3,279.7 L354.5,279.7 L355.6,279.7 L356.8,279.7 L358.0,279.7 L359.2,279.7 L360.4,279.7 L361.6,279.7 L362.7,279.7 L363.9,279.7 L365.1,279.7 L366.3,279.7 L367.5,279.7 L368.6,279.7 L369.8,279.7 L371.0,279.7 L372.2,279.7 L373.4,279.7 L374.6,279.7 L375.7,279.7 L376.9,279.7 L378.1,279.7 L673.6,279.7" stroke="#212121"/>
<path d="M118.1,307.3 L119.2,307.3 L120.4,307.3 L121.6,307.3 L122.8,307.3 L124.0,307.3 L125.2,307.3 L126.3,307.3 L127.5,307.3 L128.7,307.3 L129.9,307.3 L131.1,307.3 L132.2,307.3 L133.4,307.3 L134.6,307.3 L135.8,307.3 L137.0,307.3 L138.2,307.3 L139.3,307.3 L140.5,307.3 L141.7,307.3 L142.9,307.3 L144.1,307.3 L145.2,307.3 L146.4,307.3 L147.6,307.3 L148.8,307.3 L150.0,307.3 L151.2,307.3 L152.3,307.3 L153.5,307.3 L154.7,307.3 L155.9,307.3 L157.1,307.3 L158.2,307.3 L159.4,307.3 L160.6,307.3 L161.8,307.3 L163.0,307.3 L164.2,307.3 L165.3,307.3 L166.5,307.3 L167.7,307.3 L168.9,307.3 L170.1,307.3 L171.2,307.3 L172.4,307.3 L173.6,307.3 L174.8,307.3 L176.0,307.3 L177.2,307.3 L178.3,307.3 L179.5,307.3 L180.7,307.3 L181.9,307.3 L183.1,306.2 L184.3,304.6 L185.4,302.8 L186.6,300.8 L187.8,298.6 L189.0,296.4 L190.2,294.0 L191.3,291.7 L192.5,289.3 L193.7,286.9 L194.9,284.6 L196.1,282.2 L197.3,279.9 L198.4,277.7 L199.6,275.6 L200.8,273.6 L202.0,271.6 L203.2,269.8 L204.3,268.1 L205.5,266.6 L206.7,265.2 L207.9,263.9 L209.1,262.8 L210.3,261.9 L211.4,261.2 L212.6,260.6 L213.8,260.3 L215.0,260.1 L216.2,260.3 L217.3,260.8 L218.5,261.3 L219.7,261.8 L220.9,262.3 L222.1,262.8 L223.3,263.4 L224.4,263.9 L225.6,264.5 L226.8,265.0 L228.0,265.6 L229.2,266.2 L230.3,266.7 L231.5,267.3 L232.7,267.9 L233.9,268.4 L235.1,269.0 L236.3,269.6 L237.4,270.1 L238.6,270.7 L239.8,271.2 L241.0,271.8 L242.2,272.3 L243.4,272.8 L244.5,273.3 L245.7,273.8 L246.9,274.3 L248.1,274.8 L249.3,275.3 L250.4,275.7 L251.6,276.2 L252.8,276.6 L254.0,277.0 L255.2,277.4 L256.4,277.8 L257.5,278.2 L258.7,278.6 L259.9,279.0 L261.1,279.3 L262.3,279.6 L263.4,280.0 L264.6,280.3 L265.8,280.6 L267.0,280.9 L268.2,281.1 L269.4,281.4 L270.5,281.6 L271.7,281.9 L272.9,282.1 L274.1,282.3 L275.3,282.5 L276.4,282.7 L277.6,282.9 L278.8,283.1 L280.0,283.2 L281.2,283.4 L282.4,283.5 L283.5,283.7 L284.7,283.8 L285.9,283.9 L287.1,284.0 L288.3,284.1 L289.4,284.2 L290.6,284.3 L291.8,284.4 L293.0,284.5 L294.2,284.6 L295.4,284.7 L296.5,284.7 L297.7,284.8 L298.9,284.8 L300.1,284.9 L301.3,285.0 L302.5,285.0 L303.6,285.0 L304.8,285.1 L306.0,285.1 L307.2,285.2 L308.4,285.2 L309.5,285.2 L310.7,285.2 L311.9,285.3 L313.1,285.3 L314.3,285.3 L315.5,285.3 L316.6,285.3 L317.8,285.4 L319.0,285.4 L320.2,285.4 L321.4,285.4 L322.5,285.4 L323.7,285.4 L324.9,285.4 L326.1,285.4 L327.3,285.4 L328.5,285.4 L329.6,285.5 L330.8,285.5 L332.0,285.5 L333.2,285.5 L334.4,285.5 L335.5,285.5 L336.7,285.5 L337.9,285.5 L339.1,285.5 L340.3,285.5 L341.5,285.5 L342.6,285.5 L343.8,285.5 L345.0,285.5 L346.2,285.5 L347.4,285.5 L348.5,285.5 L349.7,285.5 L350.9,285.5 L352.1,285.5 L353.3,285.5 L354.5,285.5 L355.6,285.5 L356.8,285.5 L358.0,285.5 L359.2,285.5 L360.4,285.5 L361.6,285.5 L362.7,285.5 L363.9,285.5 L365.1,285.5 L366.3,285.5 L367.5,285.5 L368.6,285.5 L369.8,285.5 L371.0,285.5 L372.2,285.5 L373.4,285.5 L374.6,285.5 L375.7,285.5 L376.9,285.5 L378.1,285.5 L673.6,285.5" stroke="#212121"/>
<path d="M118.1,307.3 L119.2,307.3 L120.4,307.3 L121.6,307.3 L122.8,307.3 L124.0,307.3 L125.2,307.3 L126.3,307.3 L127.5,307.3 L128.7,307.3 L129.9,307.3 L131.1,307.3 L132.2,307.3 L133.4,307.3 L134.6,307.3 L135.8,307.3 L137.0,307.3 L138.2,307.3 L139.3,307.3 L140.5,307.3 L141.7,307.3 L142.9,307.3 L144.1,307.3 L145.2,307.3 L146.4,307.3 L147.6,307.3 L148.8,307.3 L150.0,307.3 L151.2,307.3 L152.3,307.3 L153.5,307.3 L154.7,307.3 L155.9,307.3 L157.1,307.3 L158.2,307.3 L159.4,307.3 L160.6,307.3 L161.8,307.3 L163.0,307.3 L164.2,307.3 L165.3,307.3 L166.5,307.3 L167.7,307.3 L168.9,307.3 L170.1,307.3 L171.2,307.3 L172.4,307.3 L173.6,307.3 L174.8,307.3 L176.0,307.3 L177.2,307.3 L178.3,307.3 L179.5,307.3 L180.7,307.3 L181.9,307.3 L183.1,307.0 L184.3,305.9 L185.4,304.6 L186.6,303.1 L187.8,301.5 L189.0,299.8 L190.2,298.0 L191.3,296.2 L192.5,294.3 L193.7,292.5 L194.9,290.6 L196.1,288.8 L197.3,286.9 L198.4,285.1 L199.6,283.4 L200.8,281.7 L202.0,280.0 L203.2,278.5 L204.3,277.0 L205.5,275.6 L206.7,274.3 L207.9,273.1 L209.1,272.0 L210.3,271.0 L211.4,270.1 L212.6,269.4 L213.8,268.8 L215.0,268.3 L216.2,268.0 L217.3,267.8 L218.5,267.7 L219.7,268.0 L220.9,268.4 L222.1,268.7 L223.3,269.0 L224.4,269.4 L225.6,269.7 L226.8,270.1 L228.0,270.4 L229.2,270.8 L230.3,271.1 L231.5,271.5 L232.7,271.9 L233.9,272.3 L235.1,272.6 L236.3,273.0 L237.4,273.4 L238.6,273.7 L239.8,274.1 L241.0,274.5 L242.2,274.9 L243.4,275.2 L244.5,275.6 L245.7,275.9 L246.9,276.3 L248.1,276.6 L249.3,277.0 L250.4,277.3 L251.6,277.7 L252.8,278.0 L254.0,278.3 L255.2,278.7 L256.4,279.0 L257.5,279.3 L258.7,279.6 L259.9,279.9 L261.1,280.2 L262.3,280.4 L263.4,280.7 L264.6,281.0 L265.8,281.2 L267.0,281.5 L268.2,281.7 L269.4,282.0 L270.5,282.2 L271.7,282.4 L272.9,282.6 L274.1,282.8 L275.3,283.0 L276.4,283.2 L277.6,283.4 L278.8,283.6 L280.0,283.8 L281.2,283.9 L282.4,284.1 L283.5,284.3 L284.7,284.4 L285.9,284.5 L287.1,284.7 L288.3,284.8 L289.4,284.9 L290.6,285.1 L291.8,285.2 L293.0,285.3 L294.2,285.4 L295.4,285.5 L296.5,285.6 L297.7,285.6 L298.9,285.7 L300.1,285.8 L301.3,285.9 L302.5,286.0 L303.6,286.0 L304.8,286.1 L306.0,286.1 L307.2,286.2 L308.4,286.3 L309.5,286.3 L310.7,286.3 L311.9,286.4 L313.1,286.4 L314.3,286.5 L315.5,286.5 L316.6,286.5 L317.8,286.6 L319.0,286.6 L320.2,286.6 L321.4,286.7 L322.5,286.7 L323.7,286.7 L324.9,286.7 L326.1,286.7 L327.3,286.8 L328.5,286.8 L329.6,286.8 L330.8,286.8 L332.0,286.8 L333.2,286.8 L334.4,286.9 L335.5,286.9 L336.7,286.9 L337.9,286.9 L339.1,286.9 L340.3,286.9 L341.5,286.9 L342.6,286.9 L343.8,286.9 L345.0,286.9 L346.2,286.9 L347.4,286.9 L348.5,286.9 L349.7,286.9 L350.9,287.0 L352.1,287.0 L353.3,287.0 L354.5,287.0 L355.6,287.0 L356.8,287.0 L358.0,287.0 L359.2,287.0 L360.4,287.0 L361.6,287.0 L362.7,287.0 L363.9,287.0 L365.1,287.0 L366.3,287.0 L367.5,287.0 L368.6,287.0 L369.8,287.0 L371.0,287.0 L372.2,287.0 L373.4,287.0 L374.6,287.0 L375.7,287.0 L376.9,287.0 L378.1,287.0 L673.6,287.0" stroke="#212121"/>
<path d="M118.1,307.3 L119.2,307.3 L120.4,307.3 L121.6,307.3 L122.8,307.3 L124.0,307.3 L125.2,307.3 L126.3,307.3 L127.5,307.3 L128.7,307.3 L129.9,307.3 L131.1,307.3 L132.2,307.3 L133.4,307.3 L134.6,307.3 L135.8,307.3 L137.0,307.3 L138.2,307.3 L139.3,307.3 L140.5,307.3 L141.7,307.3 L142.9,307.3 L144.1,307.3 L145.2,307.3 L146.4,307.3 L147.6,307.3 L148.8,307.3 L150.0,307.3 L151.2,307.3 L152.3,307.3 L153.5,307.3 L154.7,307.3 L155.9,307.3 L157.1,307.3 L158.2,307.3 L159.4,307.3 L160.6,307.3 L161.8,307.3 L163.0,307.3 L164.2,307.3 L165.3,307.3 L166.5,307.3 L167.7,307.3 L168.9,307.3 L170.1,307.3 L171.2,307.3 L172.4,307.3 L173.6,307.3 L174.8,307.3 L176.0,307.3 L177.2,307.3 L178.3,307.3 L179.5,307.3 L180.7,307.3 L181.9,307.3 L183.1,307.3 L184.3,306.8 L185.4,305.9 L186.6,304.7 L187.8,303.5 L189.0,302.1 L190.2,300.6 L191.3,299.1 L192.5,297.6 L193.7,296.0 L194.9,294.4 L196.1,292.8 L197.3,291.1 L198.4,289.5 L199.6,287.9 L200.8,286.2 L202.0,284.6 L203.2,283.1 L204.3,281.5 L205.5,280.0 L206.7,278.6 L207.9,277.2 L209.1,275.8 L210.3,274.5 L211.4,273.3 L212.6,272.1 L213.8,271.0 L215.0,270.0 L216.2,269.1 L217.3,268.3 L218.5,267.5 L219.7,266.8 L220.9,266.3 L222.1,265.8 L223.3,265.4 L224.4,265.1 L225.6,264.9 L226.8,264.8 L228.0,265.0 L229.2,265.4 L230.3,265.8 L231.5,266.2 L232.7,266.6 L233.9,267.0 L235.1,267.4 L236.3,267.9 L237.4,268.3 L238.6,268.8 L239.8,269.2 L241.0,269.7 L242.2,270.1 L243.4,270.6 L244.5,271.0 L245.7,271.5 L246.9,272.0 L248.1,272.4 L249.3,272.9 L250.4,273.3 L251.6,273.8 L252.8,274.3 L254.0,274.7 L255.2,275.2 L256.4,275.6 L257.5,276.0 L258.7,276.5 L259.9,276.9 L261.1,277.3 L262.3,277.7 L263.4,278.2 L264.6,278.6 L265.8,279.0 L267.0,279.4 L268.2,279.7 L269.4,280.1 L270.5,280.5 L271.7,280.8 L272.9,281.2 L274.1,281.5 L275.3,281.9 L276.4,282.2 L277.6,282.5 L278.8,282.9 L280.0,283.2 L281.2,283.5 L282.4,283.7 L283.5,284.0 L284.7,284.3 L285.9,284.6 L287.1,284.8 L288.3,285.1 L289.4,285.3 L290.6,285.5 L291.8,285.7 L293.0,286.0 L294.2,286.2 L295.4,286.4 L296.5,286.5 L297.7,286.7 L298.9,286.9 L300.1,287.1 L301.3,287.2 L302.5,287.4 L303.6,287.5 L304.8,287.7 L306.0,287.8 L307.2,288.0 L308.4,288.1 L309.5,288.2 L310.7,288.3 L311.9,288.4 L313.1,288.5 L314.3,288.6 L315.5,288.7 L316.6,288.8 L317.8,288.9 L319.0,289.0 L320.2,289.0 L321.4,289.1 L322.5,289.2 L323.7,289.2 L324.9,289.3 L326.1,289.4 L327.3,289.4 L328.5,289.5 L329.6,289.5 L330.8,289.5 L332.0,289.6 L333.2,289.6 L334.4,289.7 L335.5,289.7 L336.7,289.7 L337.9,289.8 L339.1,289.8 L340.3,289.8 L341.5,289.9 L342.6,289.9 L343.8,289.9 L345.0,289.9 L346.2,290.0 L347.4,290.0 L348.5,290.0 L349.7,290.0 L350.9,290.0 L352.1,290.0 L353.3,290.1 L354.5,290.1 L355.6,290.1 L356.8,290.1 L358.0,290.1 L359.2,290.1 L360.4,290.1 L361.6,290.1 L362.7,290.1 L363.9,290.1 L365.1,290.1 L366.3,290.1 L367.5,290.2 L368.6,290.2 L369.8,290.2 L371.0,290.2 L372.2,290.2 L373.4,290.2 L374.6,290.2 L375.7,290.2 L376.9,290.2 L378.1,290.2 L673.6,290.2" stroke="#212121"/>
<path d="M118.1,307.3 L119.2,307.3 L120.4,307.3 L121.6,307.3 L122.8,307.3 L124.0,307.3 L125.2,307.3 L126.3,307.3 L127.5,307.3 L128.7,307.3 L129.9,307.3 L131.1,307.3 L132.2,307.3 L133.4,307.3 L134.6,307.3 L135.8,307.3 L137.0,307.3 L138.2,307.3 L139.3,307.3 L140.5,307.3 L141.7,307.3 L142.9,307.3 L144.1,307.3 L145.2,307.3 L146.4,307.3 L147.6,307.3 L148.8,307.3 L150.0,307.3 L151.2,307.3 L152.3,307.3 L153.5,307.3 L154.7,307.3 L155.9,307.3 L157.1,307.3 L158.2,307.3 L159.4,307.3 L160.6,307.3 L161.8,307.3 L163.0,307.3 L164.2,307.3 L165.3,307.3 L166.5,307.3 L167.7,307.3 L168.9,307.3 L170.1,307.3 L171.2,307.3 L172.4,307.3 L173.6,307.3 L174.8,307.3 L176.0,307.3 L177.2,307.3 L178.3,307.3 L179.5,307.3 L180.7,307.3 L181.9,307.3 L183.1,307.3 L184.3,307.3 L185.4,307.1 L186.6,306.3 L187.8,305.4 L189.0,304.3 L190.2,303.2 L191.3,301.9 L192.5,300.6 L193.7,299.3 L194.9,298.0 L196.1,296.6 L197.3,295.1 L198.4,293.7 L199.6,292.2 L200.8,290.8 L202.0,289.3 L203.2,287.9 L204.3,286.4 L205.5,285.0 L206.7,283.5 L207.9,282.1 L209.1,280.8 L210.3,279.4 L211.4,278.1 L212.6,276.8 L213.8,275.6 L215.0,274.4 L216.2,273.2 L217.3,272.1 L218.5,271.1 L219.7,270.1 L220.9,269.1 L222.1,268.3 L223.3,267.4 L224.4,266.7 L225.6,266.0 L226.8,265.4 L228.0,264.8 L229.2,264.3 L230.3,263.9 L231.5,263.6 L232.7,263.3 L233.9,263.2 L235.1,263.0 L236.3,263.0 L237.4,263.4 L238.6,263.8 L239.8,264.3 L241.0,264.7 L242.2,265.2 L243.4,265.6 L244.5,266.1 L245.7,266.6 L246.9,267.1 L248.1,267.5 L249.3,268.0 L250.4,268.5 L251.6,269.0 L252.8,269.5 L254.0,270.0 L255.2,270.5 L256.4,271.0 L257.5,271.5 L258.7,272.0 L259.9,272.5 L261.1,273.0 L262.3,273.4 L263.4,273.9 L264.6,274.4 L265.8,274.9 L267.0,275.3 L268.2,275.8 L269.4,276.2 L270.5,276.7 L271.7,277.1 L272.9,277.5 L274.1,277.9 L275.3,278.3 L276.4,278.7 L277.6,279.1 L278.8,279.5 L280.0,279.9 L281.2,280.2 L282.4,280.6 L283.5,280.9 L284.7,281.3 L285.9,281.6 L287.1,281.9 L288.3,282.2 L289.4,282.5 L290.6,282.8 L291.8,283.1 L293.0,283.3 L294.2,283.6 L295.4,283.9 L296.5,284.1 L297.7,284.3 L298.9,284.5 L300.1,284.8 L301.3,285.0 L302.5,285.2 L303.6,285.3 L304.8,285.5 L306.0,285.7 L307.2,285.9 L308.4,286.0 L309.5,286.2 L310.7,286.3 L311.9,286.4 L313.1,286.6 L314.3,286.7 L315.5,286.8 L316.6,286.9 L317.8,287.0 L319.0,287.1 L320.2,287.2 L321.4,287.3 L322.5,287.4 L323.7,287.5 L324.9,287.5 L326.1,287.6 L327.3,287.7 L328.5,287.7 L329.6,287.8 L330.8,287.8 L332.0,287.9 L333.2,287.9 L334.4,288.0 L335.5,288.0 L336.7,288.1 L337.9,288.1 L339.1,288.2 L340.3,288.2 L341.5,288.2 L342.6,288.3 L343.8,288.3 L345.0,288.3 L346.2,288.3 L347.4,288.4 L348.5,288.4 L349.7,288.4 L350.9,288.4 L352.1,288.4 L353.3,288.5 L354.5,288.5 L355.6,288.5 L356.8,288.5 L358.0,288.5 L359.2,288.5 L360.4,288.5 L361.6,288.5 L362.7,288.5 L363.9,288.5 L365.1,288.5 L366.3,288.6 L367.5,288.6 L368.6,288.6 L369.8,288.6 L371.0,288.6 L372.2,288.6 L373.4,288.6 L374.6,288.6 L375.7,288.6 L376.9,288.6 L378.1,288.6 L673.6,288.6" stroke="#212121"/>
<path d="M118.1,307.3 L119.2,307.3 L120.4,307.3 L121.6,307.3 L122.8,307.3 L124.0,307.3 L125.2,307.3 L126.3,307.3 L127.5,307.3 L128.7,307.3 L129.9,307.3 L131.1,307.3 L132.2,307.3 L133.4,307.3 L134.6,307.3 L135.8,307.3 L137.0,307.3 L138.2,307.3 L139.3,307.3 L140.5,307.3 L141.7,307.3 L142.9,307.3 L144.1,307.3 L145.2,307.3 L146.4,307.3 L147.6,307.3 L148.8,307.3 L150.0,307.3 L151.2,307.3 L152.3,307.3 L153.5,307.3 L154.7,307.3 L155.9,307.3 L157.1,307.3 L158.2,307.3 L159.4,307.3 L160.6,307.3 L161.8,307.3 L163.0,307.3 L164.2,307.3 L165.3,307.3 L166.5,307.3 L167.7,307.3 L168.9,307.3 L170.1,307.3 L171.2,307.3 L172.4,307.3 L173.6,307.3 L174.8,307.3 L176.0,307.3 L177.2,307.3 L178.3,307.3 L179.5,307.3 L180.7,307.3 L181.9,307.3 L183.1,307.3 L184.3,307.3 L185.4,307.2 L186.6,306.7 L187.8,306.1 L189.0,305.5 L190.2,304.8 L191.3,304.1 L192.5,303.3 L193.7,302.5 L194.9,301.7 L196.1,300.8 L197.3,300.0 L198.4,299.1 L199.6,298.2 L200.8,297.3 L202.0,296.4 L203.2,295.5 L204.3,294.6 L205.5,293.7 L206.7,292.7 L207.9,291.8 L209.1,290.9 L210.3,290.0 L211.4,289.2 L212.6,288.3 L213.8,287.4 L215.0,286.6 L216.2,285.8 L217.3,285.0 L218.5,284.2 L219.7,283.4 L220.9,282.7 L222.1,282.0 L223.3,281.3 L224.4,280.7 L225.6,280.0 L226.8,279.5 L228.0,278.9 L229.2,278.4 L230.3,277.9 L231.5,277.4 L232.7,277.0 L233.9,276.6 L235.1,276.2 L236.3,275.9 L237.4,275.7 L238.6,275.4 L239.8,275.2 L241.0,275.1 L242.2,274.9 L243.4,274.9 L244.5,274.8 L245.7,274.9 L246.9,275.2 L248.1,275.5 L249.3,275.7 L250.4,276.0 L251.6,276.3 L252.8,276.6 L254.0,276.9 L255.2,277.2 L256.4,277.5 L257.5,277.8 L258.7,278.1 L259.9,278.4 L261.1,278.7 L262.3,279.0 L263.4,279.3 L264.6,279.6 L265.8,279.9 L267.0,280.2 L268.2,280.6 L269.4,280.9 L270.5,281.2 L271.7,281.5 L272.9,281.8 L274.1,282.1 L275.3,282.4 L276.4,282.6 L277.6,282.9 L278.8,283.2 L280.0,283.5 L281.2,283.8 L282.4,284.0 L283.5,284.3 L284.7,284.6 L285.9,284.8 L287.1,285.1 L288.3,285.3 L289.4,285.6 L290.6,285.8 L291.8,286.1 L293.0,286.3 L294.2,286.5 L295.4,286.7 L296.5,286.9 L297.7,287.1 L298.9,287.3 L300.1,287.5 L301.3,287.7 L302.5,287.9 L303.6,288.1 L304.8,288.2 L306.0,288.4 L307.2,288.6 L308.4,288.7 L309.5,288.9 L310.7,289.0 L311.9,289.1 L313.1,289.3 L314.3,289.4 L315.5,289.5 L316.6,289.6 L317.8,289.8 L319.0,289.9 L320.2,290.0 L321.4,290.1 L322.5,290.2 L323.7,290.3 L324.9,290.3 L326.1,290.4 L327.3,290.5 L328.5,290.6 L329.6,290.6 L330.8,290.7 L332.0,290.8 L333.2,290.8 L334.4,290.9 L335.5,291.0 L336.7,291.0 L337.9,291.1 L339.1,291.1 L340.3,291.2 L341.5,291.2 L342.6,291.3 L343.8,291.3 L345.0,291.4 L346.2,291.4 L347.4,291.4 L348.5,291.5 L349.7,291.5 L350.9,291.5 L352.1,291.6 L353.3,291.6 L354.5,291.6 L355.6,291.6 L356.8,291.7 L358.0,291.7 L359.2,291.7 L360.4,291.7 L361.6,291.7 L362.7,291.7 L363.9,291.7 L365.1,291.8 L366.3,291.8 L367.5,291.8 L368.6,291.8 L369.8,291.8 L371.0,291.8 L372.2,291.8 L373.4,291.8 L374.6,291.8 L375.7,291.8 L376.9,291.8 L378.1,291.8 L673.6,291.8" stroke="#212121"/>
<path d="M118.1,307.3 L119.2,307.3 L120.4,307.3 L121.6,307.3 L122.8,307.3 L124.0,307.3 L125.2,307.3 L126.3,307.3 L127.5,307.3 L128.7,307.3 L129.9,307.3 L131.1,307.3 L132.2,307.3 L133.4,307.3 L134.6,307.3 L135.8,307.3 L137.0,307.3 L138.2,307.3 L139.3,307.3 L140.5,307.3 L141.7,307.3 L142.9,307.3 L144.1,307.3 L145.2,307.3 L146.4,307.3 L147.6,307.3 L148.8,307.3 L150.0,307.3 L151.2,307.3 L152.3,307.3 L153.5,307.3 L154.7,307.3 L155.9,307.3 L157.1,307.3 L158.2,307.3 L159.4,307.3 L160.6,307.3 L161.8,307.3 L163.0,307.3 L164.2,307.3 L165.3,307.3 L166.5,307.3 L167.7,307.3 L168.9,307.3 L170.1,307.3 L171.2,307.3 L172.4,307.3 L173.6,307.3 L174.8,307.3 L176.0,307.3 L177.2,307.3 L178.3,307.3 L179.5,307.3 L180.7,307.3 L181.9,307.3 L183.1,307.3 L184.3,307.3 L185.4,307.2 L186.6,306.9 L187.8,306.6 L189.0,306.2 L190.2,305.8 L191.3,305.3 L192.5,304.8 L193.7,304.3 L194.9,303.8 L196.1,303.3 L197.3,302.7 L198.4,302.2 L199.6,301.6 L200.8,301.0 L202.0,300.4 L203.2,299.8 L204.3,299.2 L205.5,298.6 L206.7,298.0 L207.9,297.4 L209.1,296.8 L210.3,296.1 L211.4,295.5 L212.6,294.9 L213.8,294.3 L215.0,293.7 L216.2,293.0 L217.3,292.4 L218.5,291.8 L219.7,291.2 L220.9,290.6 L222.1,290.1 L223.3,289.5 L224.4,288.9 L225.6,288.3 L226.8,287.8 L228.0,287.2 L229.2,286.7 L230.3,286.2 L231.5,285.7 L232.7,285.2 L233.9,284.7 L235.1,284.2 L236.3,283.8 L237.4,283.3 L238.6,282.9 L239.8,282.5 L241.0,282.1 L242.2,281.7 L243.4,281.3 L244.5,281.0 L245.7,280.6 L246.9,280.3 L248.1,280.0 L249.3,279.7 L250.4,279.5 L251.6,279.2 L252.8,279.0 L254.0,278.8 L255.2,278.6 L256.4,278.4 L257.5,278.3 L258.7,278.1 L259.9,278.0 L261.1,277.9 L262.3,277.9 L263.4,277.8 L264.6,277.8 L265.8,277.8 L267.0,278.0 L268.2,278.2 L269.4,278.4 L270.5,278.6 L271.7,278.8 L272.9,279.0 L274.1,279.2 L275.3,279.4 L276.4,279.6 L277.6,279.8 L278.8,280.0 L280.0,280.3 L281.2,280.5 L282.4,280.7 L283.5,280.9 L284.7,281.2 L285.9,281.4 L287.1,281.6 L288.3,281.8 L289.4,282.1 L290.6,282.3 L291.8,282.5 L293.0,282.7 L294.2,283.0 L295.4,283.2 L296.5,283.4 L297.7,283.6 L298.9,283.9 L300.1,284.1 L301.3,284.3 L302.5,284.5 L303.6,284.7 L304.8,284.9 L306.0,285.1 L307.2,285.3 L308.4,285.5 L309.5,285.7 L310.7,285.9 L311.9,286.1 L313.1,286.3 L314.3,286.5 L315.5,286.6 L316.6,286.8 L317.8,287.0 L319.0,287.1 L320.2,287.3 L321.4,287.5 L322.5,287.6 L323.7,287.8 L324.9,287.9 L326.1,288.1 L327.3,288.2 L328.5,288.4 L329.6,288.5 L330.8,288.6 L332.0,288.8 L333.2,288.9 L334.4,289.0 L335.5,289.1 L336.7,289.2 L337.9,289.4 L339.1,289.5 L340.3,289.6 L341.5,289.7 L342.6,289.9 L343.8,290.0 L345.0,290.1 L346.2,290.2 L347.4,290.3 L348.5,290.4 L349.7,290.5 L350.9,290.6 L352.1,290.7 L353.3,290.8 L354.5,290.9 L355.6,291.0 L356.8,291.1 L358.0,291.1 L359.2,291.2 L360.4,291.3 L361.6,291.3 L362.7,291.4 L363.9,291.4 L365.1,291.5 L366.3,291.5 L367.5,291.5 L368.6,291.6 L369.8,291.6 L371.0,291.6 L372.2,291.7 L373.4,291.7 L374.6,291.7 L375.7,291.7 L376.9,291.7 L378.1,291.8 L673.6,291.8" stroke="#212121"/>
<path d="M118.1,307.3 L119.2,307.3 L120.4,307.3 L121.6,307.3 L122.8,307.3 L124.0,307.3 L125.2,307.3 L126.3,307.3 L127.5,307.3 L128.7,307.3 L129.9,307.3 L131.1,307.3 L132.2,307.3 L133.4,307.3 L134.6,307.3 L135.8,307.3 L137.0,307.3 L138.2,307.3 L139.3,307.3 L140.5,307.3 L141.7,307.3 L142.9,307.3 L144.1,307.3 L145.2,307.3 L146.4,307.3 L147.6,307.3 L148.8,307.3 L150.0,307.3 L151.2,307.3 L152.3,307.3 L153.5,307.3 L154.7,307.3 L155.9,307.3 L157.1,307.3 L158.2,307.3 L159.4,307.3 L160.6,307.3 L161.8,307.3 L163.0,307.3 L164.2,307.3 L165.3,307.3 L166.5,307.3 L167.7,307.3 L168.9,307.3 L170.1,307.3 L171.2,307.3 L172.4,307.3 L173.6,307.3 L174.8,307.3 L176.0,307.3 L177.2,307.3 L178.3,307.3 L179.5,307.3 L180.7,307.3 L181.9,307.3 L183.1,307.3 L184.3,307.3 L185.4,307.3 L186.6,307.3 L187.8,307.2 L189.0,306.7 L190.2,306.1 L191.3,305.3 L192.5,304.5 L193.7,303.6 L194.9,302.7 L196.1,301.7 L197.3,300.7 L198.4,299.7 L199.6,298.7 L200.8,297.6 L202.0,296.5 L203.2,295.4 L204.3,294.2 L205.5,293.1 L206.7,292.0 L207.9,290.8 L209.1,289.7 L210.3,288.5 L211.4,287.3 L212.6,286.2 L213.8,285.0 L215.0,283.9 L216.2,282.8 L217.3,281.7 L218.5,280.5 L219.7,279.5 L220.9,278.4 L222.1,277.3 L223.3,276.3 L224.4,275.3 L225.6,274.3 L226.8,273.3 L228.0,272.3 L229.2,271.4 L230.3,270.5 L231.5,269.7 L232.7,268.8 L233.9,268.0 L235.1,267.3 L236.3,266.5 L237.4,265.8 L238.6,265.2 L239.8,264.6 L241.0,264.0 L242.2,263.4 L243.4,262.9 L244.5,262.4 L245.7,262.0 L246.9,261.6 L248.1,261.3 L249.3,261.0 L250.4,260.7 L251.6,260.5 L252.8,260.3 L254.0,260.2 L255.2,260.1 L256.4,260.1 L257.5,260.2 L258.7,260.4 L259.9,260.7 L261.1,261.0 L262.3,261.3 L263.4,261.6 L264.6,261.8 L265.8,262.1 L267.0,262.4 L268.2,262.7 L269.4,263.0 L270.5,263.3 L271.7,263.7 L272.9,264.0 L274.1,264.3 L275.3,264.6 L276.4,264.9 L277.6,265.2 L278.8,265.5 L280.0,265.8 L281.2,266.1 L282.4,266.4 L283.5,266.8 L284.7,267.1 L285.9,267.4 L287.1,267.7 L288.3,268.0 L289.4,268.3 L290.6,268.6 L291.8,268.8 L293.0,269.1 L294.2,269.4 L295.4,269.7 L296.5,270.0 L297.7,270.2 L298.9,270.5 L300.1,270.8 L301.3,271.0 L302.5,271.3 L303.6,271.5 L304.8,271.8 L306.0,272.0 L307.2,272.2 L308.4,272.5 L309.5,272.7 L310.7,272.9 L311.9,273.1 L313.1,273.3 L314.3,273.5 L315.5,273.7 L316.6,273.9 L317.8,274.1 L319.0,274.2 L320.2,274.4 L321.4,274.6 L322.5,274.7 L323.7,274.9 L324.9,275.1 L326.1,275.2 L327.3,275.3 L328.5,275.5 L329.6,275.6 L330.8,275.7 L332.0,275.9 L333.2,276.0 L334.4,276.1 L335.5,276.2 L336.7,276.3 L337.9,276.4 L339.1,276.5 L340.3,276.7 L341.5,276.8 L342.6,276.9 L343.8,277.0 L345.0,277.1 L346.2,277.2 L347.4,277.2 L348.5,277.3 L349.7,277.4 L350.9,277.5 L352.1,277.6 L353.3,277.6 L354.5,277.7 L355.6,277.7 L356.8,277.8 L358.0,277.8 L359.2,277.9 L360.4,277.9 L361.6,278.0 L362.7,278.0 L363.9,278.0 L365.1,278.1 L366.3,278.1 L367.5,278.1 L368.6,278.2 L369.8,278.2 L371.0,278.2 L372.2,278.2 L373.4,278.2 L374.6,278.2 L375.7,278.2 L376.9,278.3 L378.1,278.3 L673.6,278.3" stroke="#212121"/>
<path d="M118.1,307.3 L119.2,307.3 L120.4,307.3 L121.6,307.3 L122.8,307.3 L124.0,307.3 L125.2,307.3 L126.3,307.3 L127.5,307.3 L128.7,307.3 L129.9,307.3 L131.1,307.3 L132.2,307.3 L133.4,307.3 L134.6,307.3 L135.8,307.3 L137.0,307.3 L138.2,307.3 L139.3,307.3 L140.5,307.3 L141.7,307.3 L142.9,307.3 L144.1,307.3 L145.2,307.3 L146.4,307.3 L147.6,307.3 L148.8,307.3 L150.0,307.3 L151.2,307.3 L152.3,307.3 L153.5,307.3 L154.7,307.3 L155.9,307.3 L157.1,307.3 L158.2,307.3 L159.4,307.3 L160.6,307.3 L161.8,307.3 L163.0,307.3 L164.2,307.3 L165.3,307.3 L166.5,307.3 L167.7,307.3 L168.9,307.3 L170.1,307.3 L171.2,307.3 L172.4,307.3 L173.6,307.3 L174.8,307.3 L176.0,307.3 L177.2,307.3 L178.3,307.3 L179.5,307.3 L180.7,307.3 L181.9,307.3 L183.1,307.3 L184.3,307.3 L185.4,307.3 L186.6,307.2 L187.8,306.9 L189.0,306.4 L190.2,306.0 L191.3,305.4 L192.5,304.9 L193.7,304.3 L194.9,303.7 L196.1,303.1 L197.3,302.4 L198.4,301.8 L199.6,301.1 L200.8,300.4 L202.0,299.7 L203.2,299.0 L204.3,298.3 L205.5,297.5 L206.7,296.8 L207.9,296.1 L209.1,295.3 L210.3,294.6 L211.4,293.8 L212.6,293.1 L213.8,292.3 L215.0,291.6 L216.2,290.8 L217.3,290.1 L218.5,289.3 L219.7,288.6 L220.9,287.8 L222.1,287.1 L223.3,286.4 L224.4,285.7 L225.6,285.0 L226.8,284.3 L228.0,283.6 L229.2,283.0 L230.3,282.3 L231.5,281.7 L232.7,281.0 L233.9,280.4 L235.1,279.8 L236.3,279.2 L237.4,278.6 L238.6,278.1 L239.8,277.5 L241.0,277.0 L242.2,276.5 L243.4,276.0 L244.5,275.6 L245.7,275.1 L246.9,274.7 L248.1,274.3 L249.3,273.9 L250.4,273.5 L251.6,273.2 L252.8,272.8 L254.0,272.5 L255.2,272.3 L256.4,272.0 L257.5,271.8 L258.7,271.5 L259.9,271.4 L261.1,271.2 L262.3,271.0 L263.4,270.9 L264.6,270.8 L265.8,270.8 L267.0,270.7 L268.2,270.7 L269.4,270.7 L270.5,270.9 L271.7,271.0 L272.9,271.1 L274.1,271.3 L275.3,271.4 L276.4,271.5 L277.6,271.7 L278.8,271.8 L280.0,271.9 L281.2,272.1 L282.4,272.2 L283.5,272.4 L284.7,272.5 L285.9,272.6 L287.1,272.8 L288.3,272.9 L289.4,273.1 L290.6,273.2 L291.8,273.4 L293.0,273.5 L294.2,273.7 L295.4,273.8 L296.5,274.0 L297.7,274.1 L298.9,274.2 L300.1,274.4 L301.3,274.5 L302.5,274.7 L303.6,274.8 L304.8,274.9 L306.0,275.1 L307.2,275.2 L308.4,275.3 L309.5,275.5 L310.7,275.6 L311.9,275.7 L313.1,275.8 L314.3,276.0 L315.5,276.1 L316.6,276.2 L317.8,276.3 L319.0,276.4 L320.2,276.5 L321.4,276.7 L322.5,276.8 L323.7,276.9 L324.9,277.0 L326.1,277.1 L327.3,277.2 L328.5,277.3 L329.6,277.4 L330.8,277.4 L332.0,277.5 L333.2,277.6 L334.4,277.7 L335.5,277.8 L336.7,277.9 L337.9,278.0 L339.1,278.1 L340.3,278.1 L341.5,278.2 L342.6,278.3 L343.8,278.4 L345.0,278.5 L346.2,278.6 L347.4,278.6 L348.5,278.7 L349.7,278.8 L350.9,278.9 L352.1,278.9 L353.3,279.0 L354.5,279.0 L355.6,279.1 L356.8,279.2 L358.0,279.2 L359.2,279.3 L360.4,279.3 L361.6,279.3 L362.7,279.4 L363.9,279.4 L365.1,279.4 L366.3,279.5 L367.5,279.5 L368.6,279.5 L369.8,279.6 L371.0,279.6 L372.2,279.6 L373.4,279.6 L374.6,279.6 L375.7,279.6 L376.9,279.7 L378.1,279.7 L673.6,279.7" stroke="#212121"/>
<path d="M118.1,307.3 L119.2,307.3 L120.4,307.3 L121.6,307.3 L122.8,307.3 L124.0,307.3 L125.2,307.3 L126.3,307.3 L127.5,307.3 L128.7,307.3 L129.9,307.3 L131.1,307.3 L132.2,307.3 L133.4,307.3 L134.6,307.3 L135.8,307.3 L137.0,307.3 L138.2,307.3 L139.3,307.3 L140.5,307.3 L141.7,307.3 L142.9,307.3 L144.1,307.3 L145.2,307.3 L146.4,307.3 L147.6,307.3 L148.8,307.3 L150.0,307.3 L151.2,307.3 L152.3,307.3 L153.5,307.3 L154.7,307.3 L155.9,307.3 L157.1,307.3 L158.2,307.3 L159.4,307.3 L160.6,307.3 L161.8,307.3 L163.0,307.3 L164.2,307.3 L165.3,307.3 L166.5,307.3 L167.7,307.3 L168.9,307.3 L170.1,307.3 L171.2,307.3 L172.4,307.3 L173.6,307.3 L174.8,307.3 L176.0,307.3 L177.2,307.3 L178.3,307.3 L179.5,307.3 L180.7,307.3 L181.9,307.3 L183.1,307.3 L184.3,307.3 L185.4,307.1 L186.6,306.8 L187.8,306.4 L189.0,306.0 L190.2,305.5 L191.3,305.0 L192.5,304.5 L193.7,303.9 L194.9,303.4 L196.1,302.8 L197.3,302.2 L198.4,301.6 L199.6,300.9 L200.8,300.3 L202.0,299.6 L203.2,299.0 L204.3,298.3 L205.5,297.6 L206.7,297.0 L207.9,296.3 L209.1,295.6 L210.3,294.9 L211.4,294.2 L212.6,293.5 L213.8,292.8 L215.0,292.0 L216.2,291.3 L217.3,290.6 L218.5,289.9 L219.7,289.2 L220.9,288.5 L222.1,287.8 L223.3,287.1 L224.4,286.4 L225.6,285.7 L226.8,285.0 L228.0,284.3 L229.2,283.7 L230.3,283.0 L231.5,282.3 L232.7,281.7 L233.9,281.0 L235.1,280.4 L236.3,279.8 L237.4,279.1 L238.6,278.5 L239.8,277.9 L241.0,277.3 L242.2,276.8 L243.4,276.2 L244.5,275.6 L245.7,275.1 L246.9,274.6 L248.1,274.0 L249.3,273.5 L250.4,273.0 L251.6,272.6 L252.8,272.1 L254.0,271.7 L255.2,271.2 L256.4,270.8 L257.5,270.4 L258.7,270.0 L259.9,269.7 L261.1,269.3 L262.3,269.0 L263.4,268.6 L264.6,268.3 L265.8,268.1 L267.0,267.8 L268.2,267.5 L269.4,267.3 L270.5,267.1 L271.7,266.9 L272.9,266.7 L274.1,266.6 L275.3,266.4 L276.4,266.3 L277.6,266.2 L278.8,266.1 L280.0,266.0 L281.2,266.0 L282.4,266.0 L283.5,266.0 L284.7,266.2 L285.9,266.5 L287.1,266.8 L288.3,267.1 L289.4,267.3 L290.6,267.6 L291.8,267.9 L293.0,268.2 L294.2,268.6 L295.4,268.9 L296.5,269.2 L297.7,269.5 L298.9,269.8 L300.1,270.1 L301.3,270.4 L302.5,270.8 L303.6,271.1 L304.8,271.4 L306.0,271.7 L307.2,272.0 L308.4,272.3 L309.5,272.6 L310.7,272.9 L311.9,273.2 L313.1,273.5 L314.3,273.8 L315.5,274.1 L316.6,274.4 L317.8,274.7 L319.0,275.0 L320.2,275.2 L321.4,275.5 L322.5,275.8 L323.7,276.0 L324.9,276.3 L326.1,276.5 L327.3,276.8 L328.5,277.0 L329.6,277.2 L330.8,277.4 L332.0,277.6 L333.2,277.9 L334.4,278.1 L335.5,278.3 L336.7,278.5 L337.9,278.7 L339.1,278.9 L340.3,279.1 L341.5,279.3 L342.6,279.5 L343.8,279.7 L345.0,279.9 L346.2,280.0 L347.4,280.2 L348.5,280.4 L349.7,280.5 L350.9,280.7 L352.1,280.8 L353.3,280.9 L354.5,281.1 L355.6,281.2 L356.8,281.3 L358.0,281.4 L359.2,281.5 L360.4,281.6 L361.6,281.7 L362.7,281.7 L363.9,281.8 L365.1,281.9 L366.3,281.9 L367.5,282.0 L368.6,282.0 L369.8,282.1 L371.0,282.1 L372.2,282.1 L373.4,282.2 L374.6,282.2 L375.7,282.2 L376.9,282.2 L378.1,282.2 L673.6,282.3" stroke="#212121"/>
<path d="M118.1,307.3 L119.2,307.3 L120.4,307.3 L121.6,307.3 L122.8,307.3 L124.0,307.3 L125.2,307.3 L126.3,307.3 L127.5,307.3 L128.7,307.3 L129.9,307.3 L131.1,307.3 L132.2,307.3 L133.4,307.3 L134.6,307.3 L135.8,307.3 L137.0,307.3 L138.2,307.3 L139.3,307.3 L140.5,307.3 L141.7,307.3 L142.9,307.3 L144.1,307.3 L145.2,307.3 L146.4,307.3 L147.6,307.3 L148.8,307.3 L150.0,307.3 L151.2,307.3 L152.3,307.3 L153.5,307.3 L154.7,307.3 L155.9,307.3 L157.1,307.3 L158.2,307.3 L159.4,307.3 L160.6,307.3 L161.8,307.3 L163.0,307.3 L164.2,307.3 L165.3,307.3 L166.5,307.3 L167.7,307.3 L168.9,307.3 L170.1,307.3 L171.2,307.3 L172.4,307.3 L173.6,307.3 L174.8,307.3 L176.0,307.3 L177.2,307.3 L178.3,307.3 L179.5,307.3 L180.7,307.3 L181.9,307.3 L183.1,307.3 L184.3,307.3 L185.4,307.3 L186.6,307.3 L187.8,307.3 L189.0,307.3 L190.2,307.3 L191.3,307.3 L192.5,307.3 L193.7,307.3 L194.9,307.1 L196.1,306.7 L197.3,306.0 L198.4,305.1 L199.6,304.0 L200.8,302.6 L202.0,301.0 L203.2,299.2 L204.3,297.2 L205.5,295.0 L206.7,292.6 L207.9,290.0 L209.1,287.3 L210.3,284.4 L211.4,281.4 L212.6,278.3 L213.8,275.0 L215.0,271.7 L216.2,268.3 L217.3,264.8 L218.5,261.3 L219.7,257.8 L220.9,254.3 L222.1,250.8 L223.3,247.3 L224.4,243.9 L225.6,240.5 L226.8,237.2 L228.0,234.0 L229.2,230.9 L230.3,227.9 L231.5,225.0 L232.7,222.3 L233.9,219.8 L235.1,217.5 L236.3,215.3 L237.4,213.4 L238.6,211.6 L239.8,210.1 L241.0,208.7 L242.2,207.7 L243.4,206.8 L244.5,206.2 L245.7,205.8 L246.9,205.7 L248.1,206.4 L249.3,207.0 L250.4,207.7 L251.6,208.3 L252.8,209.0 L254.0,209.7 L255.2,210.4 L256.4,211.2 L257.5,211.9 L258.7,212.6 L259.9,213.3 L261.1,214.1 L262.3,214.8 L263.4,215.6 L264.6,216.4 L265.8,217.1 L267.0,217.9 L268.2,218.6 L269.4,219.4 L270.5,220.2 L271.7,220.9 L272.9,221.7 L274.1,222.4 L275.3,223.2 L276.4,224.0 L277.6,224.7 L278.8,225.5 L280.0,226.2 L281.2,226.9 L282.4,227.7 L283.5,228.4 L284.7,229.1 L285.9,229.8 L287.1,230.5 L288.3,231.2 L289.4,231.9 L290.6,232.6 L291.8,233.2 L293.0,233.9 L294.2,234.5 L295.4,235.2 L296.5,235.8 L297.7,236.4 L298.9,237.0 L300.1,237.6 L301.3,238.2 L302.5,238.8 L303.6,239.3 L304.8,239.9 L306.0,240.4 L307.2,240.9 L308.4,241.5 L309.5,242.0 L310.7,242.4 L311.9,242.9 L313.1,243.4 L314.3,243.8 L315.5,244.3 L316.6,244.7 L317.8,245.1 L319.0,245.5 L320.2,245.9 L321.4,246.3 L322.5,246.7 L323.7,247.1 L324.9,247.4 L326.1,247.8 L327.3,248.1 L328.5,248.4 L329.6,248.7 L330.8,249.0 L332.0,249.3 L333.2,249.6 L334.4,249.9 L335.5,250.1 L336.7,250.4 L337.9,250.7 L339.1,250.9 L340.3,251.2 L341.5,251.5 L342.6,251.7 L343.8,252.0 L345.0,252.2 L346.2,252.5 L347.4,252.7 L348.5,252.9 L349.7,253.1 L350.9,253.3 L352.1,253.5 L353.3,253.7 L354.5,253.9 L355.6,254.0 L356.8,254.2 L358.0,254.3 L359.2,254.5 L360.4,254.6 L361.6,254.7 L362.7,254.8 L363.9,254.9 L365.1,255.0 L366.3,255.1 L367.5,255.1 L368.6,255.2 L369.8,255.3 L371.0,255.3 L372.2,255.4 L373.4,255.4 L374.6,255.5 L375.7,255.5 L376.9,255.5 L378.1,255.6 L673.6,255.7" stroke="#212121"/>
<path d="M118.1,307.3 L119.2,307.3 L120.4,307.3 L121.6,307.3 L122.8,307.3 L124.0,307.3 L125.2,307.3 L126.3,307.3 L127.5,307.3 L128.7,307.3 L129.9,307.3 L131.1,307.3 L132.2,307.3 L133.4,307.3 L134.6,307.3 L135.8,307.3 L137.0,307.3 L138.2,307.3 L139.3,307.3 L140.5,307.3 L141.7,307.3 L142.9,307.3 L144.1,307.3 L145.2,307.3 L146.4,307.3 L147.6,307.3 L148.8,307.3 L150.0,307.3 L151.2,307.3 L152.3,307.3 L153.5,307.3 L154.7,307.3 L155.9,307.3 L157.1,307.3 L158.2,307.3 L159.4,307.3 L160.6,307.3 L161.8,307.3 L163.0,307.3 L164.2,307.3 L165.3,307.3 L166.5,307.3 L167.7,307.3 L168.9,307.3 L170.1,307.3 L171.2,307.3 L172.4,307.3 L173.6,307.3 L174.8,307.3 L176.0,307.3 L177.2,307.3 L178.3,307.3 L179.5,307.3 L180.7,307.3 L181.9,307.3 L183.1,307.3 L184.3,307.3 L185.4,307.3 L186.6,307.3 L187.8,307.3 L189.0,307.3 L190.2,307.3 L191.3,307.3 L192.5,307.3 L193.7,307.3 L194.9,307.3 L196.1,307.0 L197.3,306.1 L198.4,304.6 L199.6,302.5 L200.8,299.8 L202.0,296.7 L203.2,293.1 L204.3,289.1 L205.5,284.7 L206.7,280.0 L207.9,275.2 L209.1,270.2 L210.3,265.1 L211.4,260.0 L212.6,255.0 L213.8,250.1 L215.0,245.4 L216.2,241.1 L217.3,237.1 L218.5,233.5 L219.7,230.3 L220.9,227.7 L222.1,225.6 L223.3,224.1 L224.4,223.2 L225.6,222.8 L226.8,223.8 L228.0,224.8 L229.2,225.8 L230.3,226.9 L231.5,227.9 L232.7,229.0 L233.9,230.1 L235.1,231.2 L236.3,232.4 L237.4,233.5 L238.6,234.6 L239.8,235.8 L241.0,236.9 L242.2,238.1 L243.4,239.2 L244.5,240.3 L245.7,241.5 L246.9,242.6 L248.1,243.7 L249.3,244.7 L250.4,245.8 L251.6,246.8 L252.8,247.9 L254.0,248.9 L255.2,249.8 L256.4,250.8 L257.5,251.7 L258.7,252.6 L259.9,253.5 L261.1,254.4 L262.3,255.2 L263.4,256.0 L264.6,256.8 L265.8,257.5 L267.0,258.2 L268.2,258.9 L269.4,259.6 L270.5,260.2 L271.7,260.8 L272.9,261.4 L274.1,261.9 L275.3,262.4 L276.4,262.9 L277.6,263.4 L278.8,263.9 L280.0,264.3 L281.2,264.7 L282.4,265.1 L283.5,265.4 L284.7,265.8 L285.9,266.1 L287.1,266.4 L288.3,266.7 L289.4,266.9 L290.6,267.2 L291.8,267.4 L293.0,267.6 L294.2,267.8 L295.4,268.0 L296.5,268.2 L297.7,268.3 L298.9,268.5 L300.1,268.6 L301.3,268.7 L302.5,268.9 L303.6,269.0 L304.8,269.1 L306.0,269.2 L307.2,269.2 L308.4,269.3 L309.5,269.4 L310.7,269.5 L311.9,269.5 L313.1,269.6 L314.3,269.6 L315.5,269.7 L316.6,269.7 L317.8,269.8 L319.0,269.8 L320.2,269.8 L321.4,269.8 L322.5,269.9 L323.7,269.9 L324.9,269.9 L326.1,269.9 L327.3,270.0 L328.5,270.0 L329.6,270.0 L330.8,270.0 L332.0,270.0 L333.2,270.0 L334.4,270.0 L335.5,270.0 L336.7,270.0 L337.9,270.0 L339.1,270.1 L340.3,270.1 L341.5,270.1 L342.6,270.1 L343.8,270.1 L345.0,270.1 L346.2,270.1 L347.4,270.1 L348.5,270.1 L349.7,270.1 L350.9,270.1 L352.1,270.1 L353.3,270.1 L354.5,270.1 L355.6,270.1 L356.8,270.1 L358.0,270.1 L359.2,270.1 L360.4,270.1 L361.6,270.1 L362.7,270.1 L363.9,270.1 L365.1,270.1 L366.3,270.1 L367.5,270.1 L368.6,270.1 L369.8,270.1 L371.0,270.1 L372.2,270.1 L373.4,270.1 L374.6,270.1 L375.7,270.1 L376.9,270.1 L378.1,270.1 L673.6,270.1" stroke="#212121"/>
<path d="M118.1,307.3 L119.2,307.3 L120.4,307.3 L121.6,307.3 L122.8,307.3 L124.0,307.3 L125.2,307.3 L126.3,307.3 L127.5,307.3 L128.7,307.3 L129.9,307.3 L131.1,307.3 L132.2,307.3 L133.4,307.3 L134.6,307.3 L135.8,307.3 L137.0,307.3 L138.2,307.3 L139.3,307.3 L140.5,307.3 L141.7,307.3 L142.9,307.3 L144.1,307.3 L145.2,307.3 L146.4,307.3 L147.6,307.3 L148.8,307.3 L150.0,307.3 L151.2,307.3 L152.3,307.3 L153.5,307.3 L154.7,307.3 L155.9,307.3 L157.1,307.3 L158.2,307.3 L159.4,307.3 L160.6,307.3 L161.8,307.3 L163.0,307.3 L164.2,307.3 L165.3,307.3 L166.5,307.3 L167.7,307.3 L168.9,307.3 L170.1,307.3 L171.2,307.3 L172.4,307.3 L173.6,307.3 L174.8,307.3 L176.0,307.3 L177.2,307.3 L178.3,307.3 L179.5,307.3 L180.7,307.3 L181.9,307.3 L183.1,307.3 L184.3,307.3 L185.4,307.3 L186.6,307.3 L187.8,307.3 L189.0,307.3 L190.2,307.3 L191.3,307.3 L192.5,307.3 L193.7,307.3 L194.9,306.9 L196.1,306.0 L197.3,304.6 L198.4,302.8 L199.6,300.5 L200.8,297.8 L202.0,294.8 L203.2,291.4 L204.3,287.7 L205.5,283.8 L206.7,279.8 L207.9,275.6 L209.1,271.4 L210.3,267.2 L211.4,263.1 L212.6,259.1 L213.8,255.3 L215.0,251.8 L216.2,248.6 L217.3,245.7 L218.5,243.2 L219.7,241.1 L220.9,239.5 L222.1,238.4 L223.3,237.8 L224.4,237.8 L225.6,238.6 L226.8,239.4 L228.0,240.2 L229.2,241.0 L230.3,241.8 L231.5,242.7 L232.7,243.6 L233.9,244.5 L235.1,245.4 L236.3,246.3 L237.4,247.2 L238.6,248.1 L239.8,249.0 L241.0,249.9 L242.2,250.8 L243.4,251.7 L244.5,252.6 L245.7,253.5 L246.9,254.4 L248.1,255.2 L249.3,256.1 L250.4,257.0 L251.6,257.8 L252.8,258.6 L254.0,259.4 L255.2,260.2 L256.4,261.0 L257.5,261.7 L258.7,262.5 L259.9,263.2 L261.1,263.9 L262.3,264.6 L263.4,265.3 L264.6,265.9 L265.8,266.5 L267.0,267.1 L268.2,267.7 L269.4,268.3 L270.5,268.8 L271.7,269.3 L272.9,269.8 L274.1,270.3 L275.3,270.7 L276.4,271.2 L277.6,271.6 L278.8,272.0 L280.0,272.4 L281.2,272.8 L282.4,273.1 L283.5,273.4 L284.7,273.7 L285.9,274.0 L287.1,274.3 L288.3,274.6 L289.4,274.8 L290.6,275.1 L291.8,275.3 L293.0,275.5 L294.2,275.7 L295.4,275.9 L296.5,276.1 L297.7,276.2 L298.9,276.4 L300.1,276.5 L301.3,276.7 L302.5,276.8 L303.6,276.9 L304.8,277.0 L306.0,277.1 L307.2,277.2 L308.4,277.3 L309.5,277.4 L310.7,277.5 L311.9,277.5 L313.1,277.6 L314.3,277.7 L315.5,277.7 L316.6,277.8 L317.8,277.8 L319.0,277.9 L320.2,277.9 L321.4,277.9 L322.5,278.0 L323.7,278.0 L324.9,278.0 L326.1,278.1 L327.3,278.1 L328.5,278.1 L329.6,278.1 L330.8,278.1 L332.0,278.2 L333.2,278.2 L334.4,278.2 L335.5,278.2 L336.7,278.2 L337.9,278.2 L339.1,278.2 L340.3,278.2 L341.5,278.2 L342.6,278.2 L343.8,278.3 L345.0,278.3 L346.2,278.3 L347.4,278.3 L348.5,278.3 L349.7,278.3 L350.9,278.3 L352.1,278.3 L353.3,278.3 L354.5,278.3 L355.6,278.3 L356.8,278.3 L358.0,278.3 L359.2,278.3 L360.4,278.3 L361.6,278.3 L362.7,278.3 L363.9,278.3 L365.1,278.3 L366.3,278.3 L367.5,278.3 L368.6,278.3 L369.8,278.3 L371.0,278.3 L372.2,278.3 L373.4,278.3 L374.6,278.3 L375.7,278.3 L376.9,278.3 L378.1,278.3 L673.6,278.3" stroke="#212121"/>
<path d="M118.1,307.3 L118.7,307.3 L119.2,307.3 L119.8,307.3 L120.4,307.3 L121.0,307.3 L121.6,307.3 L122.2,307.3 L122.8,307.3 L123.4,307.3 L124.0,307.3 L124.6,307.3 L125.2,307.3 L125.7,307.3 L126.3,307.3 L126.9,307.3 L127.5,307.3 L128.1,307.3 L128.7,307.3 L129.3,307.3 L129.9,307.3 L130.5,307.3 L131.1,307.3 L131.7,307.3 L132.2,307.3 L132.8,307.3 L133.4,307.3 L134.0,307.3 L134.6,307.3 L135.2,307.3 L135.8,307.3 L136.4,307.3 L137.0,307.3 L137.6,307.3 L138.2,307.3 L138.7,307.3 L139.3,307.3 L139.9,307.3 L140.5,307.3 L141.1,307.3 L141.7,307.3 L142.3,307.3 L142.9,307.3 L143.5,307.3 L144.1,307.3 L144.7,307.3 L145.2,307.3 L145.8,307.3 L146.4,307.3 L147.0,307.3 L147.6,307.3 L148.2,307.3 L148.8,307.3 L149.4,307.3 L150.0,307.3 L150.6,307.3 L151.2,307.3 L151.7,307.3 L152.3,307.3 L152.9,307.3 L153.5,307.3 L154.1,307.3 L154.7,307.3 L155.3,307.3 L155.9,307.3 L156.5,307.3 L157.1,307.3 L157.7,307.3 L158.2,307.3 L158.8,307.3 L159.4,307.3 L160.0,307.3 L160.6,307.3 L161.2,307.3 L161.8,307.3 L162.4,307.3 L163.0,307.3 L163.6,307.3 L164.2,307.3 L164.7,307.3 L165.3,307.3 L165.9,307.3 L166.5,307.3 L167.1,307.3 L167.7,307.3 L168.3,307.3 L168.9,307.3 L169.5,307.3 L170.1,307.3 L170.7,307.3 L171.2,307.3 L171.8,307.3 L172.4,307.3 L173.0,307.3 L173.6,307.3 L174.2,307.3 L174.8,307.3 L175.4,307.3 L176.0,307.3 L176.6,307.3 L177.2,307.3 L177.8,307.3 L178.3,307.3 L178.9,307.3 L179.5,307.3 L180.1,307.3 L180.7,307.3 L181.3,307.3 L181.9,307.3 L182.5,307.3 L183.1,307.3 L183.7,307.3 L184.3,307.3 L184.8,307.3 L185.4,307.3 L186.0,307.3 L186.6,307.3 L187.2,307.3 L187.8,307.3 L188.4,307.3 L189.0,307.3 L189.6,307.3 L190.2,307.3 L190.8,307.3 L191.3,307.3 L191.9,307.3 L192.5,307.3 L193.1,307.3 L193.7,307.3 L194.3,307.2 L194.9,307.1 L195.5,307.0 L196.1,306.8 L196.7,306.6 L197.3,306.3 L197.8,306.0 L198.4,305.7 L199.0,305.3 L199.6,304.9 L200.2,304.4 L200.8,304.0 L201.4,303.5 L202.0,303.0 L202.6,302.5 L203.2,301.9 L203.8,301.4 L204.3,300.8 L204.9,300.2 L205.5,299.6 L206.1,299.0 L206.7,298.4 L207.3,297.8 L207.9,297.0 L208.5,296.2 L209.1,295.3 L209.7,294.3 L210.3,293.2 L210.8,292.1 L211.4,290.9 L212.0,289.7 L212.6,288.4 L213.2,287.1 L213.8,285.8 L214.4,284.4 L215.0,283.0 L215.6,281.6 L216.2,280.3 L216.8,278.9 L217.3,277.5 L217.9,276.1 L218.5,274.8 L219.1,273.5 L219.7,272.1 L220.3,270.7 L220.9,269.2 L221.5,267.7 L222.1,266.2 L222.7,264.6 L223.3,263.0 L223.8,261.5 L224.4,259.9 L225.0,258.3 L225.6,256.8 L226.2,255.2 L226.8,253.7 L227.4,252.2 L228.0,250.7 L228.6,249.3 L229.2,247.9 L229.8,246.6 L230.3,245.3 L230.9,244.0 L231.5,242.7 L232.1,241.4 L232.7,240.1 L233.3,238.9 L233.9,237.7 L234.5,236.7 L235.1,235.7 L235.7,234.7 L236.3,233.7 L236.9,232.5 L237.4,231.4 L238.0,230.2 L238.6,229.0 L239.2,228.1 L239.8,227.3 L240.4,226.8 L241.0,226.3 L241.6,226.0 L242.2,225.6 L242.8,225.3 L243.4,224.8 L243.9,224.4 L244.5,223.9 L245.1,223.4 L245.7,223.1 L246.3,222.8 L246.9,222.7 L247.5,222.8 L248.1,223.0 L248.7,223.3 L249.3,223.7 L249.9,224.0 L250.4,224.1 L251.0,224.1 L251.6,224.0 L252.2,223.8 L252.8,223.6 L253.4,223.5 L254.0,223.6 L254.6,223.9 L255.2,224.4 L255.8,225.0 L256.4,225.6 L256.9,226.2 L257.5,226.7 L258.1,227.0 L258.7,227.1 L259.3,227.1 L259.9,227.1 L260.5,227.0 L261.1,227.0 L261.7,227.1 L262.3,227.4 L262.9,227.9 L263.4,228.5 L264.0,229.1 L264.6,229.6 L265.2,230.0 L265.8,229.5 L266.4,229.7 L267.0,229.9 L267.6,230.0 L268.2,230.2 L268.8,230.5 L269.4,231.1 L269.9,231.7 L270.5,232.0 L271.1,232.0 L271.7,231.5 L272.3,230.8 L272.9,230.3 L273.5,230.3 L274.1,231.0 L274.7,232.2 L275.3,233.4 L275.9,234.3 L276.4,234.7 L277.0,234.5 L277.6,233.8 L278.2,233.0 L278.8,232.6 L279.4,232.6 L280.0,233.3 L280.6,234.5 L281.2,235.8 L281.8,237.0 L282.4,237.7 L282.9,237.8 L283.5,237.4 L284.1,236.9 L284.7,236.4 L285.3,236.3 L285.9,236.8 L286.5,237.8 L287.1,239.1 L287.7,240.4 L288.3,241.3 L288.9,241.7 L289.4,241.6 L290.0,241.2 L290.6,240.6 L291.2,240.4 L291.8,240.5 L292.4,241.2 L293.0,242.3 L293.6,243.5 L294.2,244.6 L294.8,245.3 L295.4,245.6 L296.0,245.4 L296.5,244.9 L297.1,244.5 L297.7,244.3 L298.3,244.5 L298.9,245.1 L299.5,246.1 L300.1,247.2 L300.7,248.1 L301.3,248.6 L301.9,248.7 L302.5,248.4 L303.0,247.9 L303.6,247.4 L304.2,247.2 L304.8,247.4 L305.4,247.9 L306.0,248.8 L306.6,249.8 L307.2,250.7 L307.8,251.2 L308.4,251.3 L309.0,251.1 L309.5,250.7 L310.1,250.2 L310.7,250.0 L311.3,250.1 L311.9,250.6 L312.5,251.4 L313.1,252.3 L313.7,253.2 L314.3,253.8 L314.9,254.1 L315.5,254.0 L316.0,253.6 L316.6,253.1 L317.2,252.8 L317.8,252.8 L318.4,253.0 L319.0,253.6 L319.6,254.4 L320.2,255.2 L320.8,255.9 L321.4,256.2 L322.0,256.2 L322.5,255.9 L323.1,255.5 L323.7,255.1 L324.3,254.8 L324.9,254.8 L325.5,255.2 L326.1,255.8 L326.7,256.5 L327.3,257.2 L327.9,257.7 L328.5,257.9 L329.0,257.8 L329.6,257.5 L330.2,257.0 L330.8,256.6 L331.4,256.4 L332.0,256.4 L332.6,256.8 L333.2,257.3 L333.8,258.0 L334.4,258.6 L335.0,259.0 L335.5,259.2 L336.1,259.1 L336.7,258.8 L337.3,258.3 L337.9,257.9 L338.5,257.7 L339.1,257.7 L339.7,258.0 L340.3,258.5 L340.9,259.0 L341.5,259.6 L342.0,260.1 L342.6,260.3 L343.2,260.2 L343.8,260.0 L344.4,259.6 L345.0,259.3 L345.6,259.0 L346.2,258.9 L346.8,259.1 L347.4,259.4 L348.0,260.0 L348.5,260.5 L349.1,261.0 L349.7,261.4 L350.3,261.5 L350.9,261.4 L351.5,261.1 L352.1,260.8 L352.7,260.5 L353.3,260.3 L353.9,260.3 L354.5,260.6 L355.1,261.0 L355.6,261.5 L356.2,262.0 L356.8,262.4 L357.4,262.7 L358.0,262.8 L358.6,262.7 L359.2,262.4 L359.8,262.1 L360.4,261.9 L361.0,261.7 L361.6,261.7 L362.1,261.9 L362.7,262.3 L363.3,262.7 L363.9,263.2 L364.5,263.6 L365.1,263.8 L365.7,263.9 L366.3,263.8 L366.9,263.6 L367.5,263.3 L368.1,263.0 L368.6,262.8 L369.2,262.8 L369.8,262.9 L370.4,263.2 L371.0,263.6 L371.6,264.0 L372.2,264.4 L372.8,264.7 L373.4,264.8 L374.0,264.8 L374.6,264.6 L375.1,264.4 L375.7,264.1 L376.3,263.8 L376.9,263.7 L377.5,263.7 L378.1,263.8 L378.7,264.0 L379.3,264.3 L379.9,264.7 L380.5,265.0 L381.1,265.2 L381.6,265.2 L382.2,265.2 L382.8,265.0 L383.4,264.7 L384.0,264.4 L384.6,264.1 L385.2,264.0 L385.8,263.9 L386.4,264.0 L387.0,264.2 L387.6,264.4 L388.1,264.7 L388.7,265.0 L389.3,265.2 L389.9,265.3 L390.5,265.3 L391.1,265.1 L391.7,264.9 L392.3,264.7 L392.9,264.4 L393.5,264.2 L394.1,264.1 L394.6,264.1 L395.2,264.2 L395.8,264.4 L396.4,264.7 L397.0,264.9 L397.6,265.2 L398.2,265.3 L398.8,265.4 L399.4,265.3 L400.0,265.2 L400.6,264.9 L401.1,264.7 L401.7,264.5 L402.3,264.3 L402.9,264.2 L403.5,264.2 L404.1,264.3 L404.7,264.5 L405.3,264.7 L405.9,264.9 L406.5,265.1 L407.1,265.3 L407.6,265.3 L408.2,265.3 L408.8,265.2 L409.4,265.0 L410.0,264.8 L410.6,264.6 L411.2,264.4 L411.8,264.3 L412.4,264.2 L413.0,264.3 L413.6,264.4 L414.2,264.6 L414.7,264.8 L415.3,265.0 L415.9,265.1 L416.5,265.2 L417.1,265.3 L417.7,265.2 L418.3,265.1 L418.9,265.0 L419.5,264.8 L420.1,264.6 L420.7,264.5 L421.2,264.4 L421.8,264.3 L422.4,264.3 L423.0,264.4 L423.6,264.6 L424.2,264.7 L424.8,264.9 L425.4,265.0 L426.0,265.1 L426.6,265.2 L427.2,265.2 L427.7,265.1 L428.3,265.0 L428.9,264.9 L429.5,264.7 L430.1,264.6 L430.7,264.5 L431.3,264.4 L431.9,264.4 L432.5,264.5 L433.1,264.5 L433.7,264.6 L434.2,264.7 L434.8,264.9 L435.4,265.0 L436.0,265.0 L436.6,265.1 L437.2,265.1 L437.8,265.0 L438.4,265.0 L439.0,264.9 L439.6,264.8 L440.2,264.7 L440.7,264.6 L441.3,264.6 L441.9,264.5 L442.5,264.6 L443.1,264.6 L443.7,264.6 L444.3,264.7 L444.9,264.8 L445.5,264.8 L446.1,264.9 L446.7,264.9 L447.2,265.0 L447.8,265.0 L448.4,264.9 L449.0,264.9 L449.6,264.8 L450.2,264.8 L450.8,264.7 L451.4,264.7 L452.0,264.7 L452.6,264.6 L453.2,264.7 L453.7,264.7 L454.3,264.7 L454.9,264.7 L455.5,264.8 L456.1,264.8 L456.7,264.8 L457.3,264.9 L457.9,264.9 L458.5,264.9 L459.1,264.8 L459.7,264.8 L460.2,264.8 L460.8,264.8 L461.4,264.8 L462.0,264.7 L462.6,264.7 L463.2,264.7 L463.8,264.7 L464.4,264.7 L465.0,264.7 L465.6,264.8 L466.2,264.8 L466.8,264.8 L467.3,264.8 L467.9,264.8 L468.5,264.8 L469.1,264.8 L469.7,264.8 L470.3,264.8 L470.9,264.8 L471.5,264.8 L472.1,264.8 L472.7,264.8 L473.3,264.8 L473.8,264.8 L474.4,264.8 L475.0,264.8 L475.6,264.8 L476.2,264.8 L476.8,264.8 L477.4,264.8 L478.0,264.8 L478.6,264.8 L479.2,264.8 L479.8,264.8 L480.3,264.8 L480.9,264.8 L673.6,264.8" stroke="#212121"/>
</g>
<defs><linearGradient id="fade" x1="0" x2="1" y1="0" y2="0"><stop offset="0" stop-color="#fff" stop-opacity="0"/><stop offset="0.2" stop-color="#fff" stop-opacity="1"/><stop offset="1" stop-color="#fff" stop-opacity="1"/></linearGradient></defs>
<rect x="330" y="276.5" width="342" height="17" fill="url(#fade)" opacity="0.25"/>
<g fill="none" stroke-width="2.45" stroke-linejoin="round" stroke-linecap="round">
<path d="M117.7,307.3 C128.9,307.3 172.8,307.4 185.0,307.3 C188.0,307.3 188.9,307.1 191.0,306.6 C193.1,306.1 195.4,305.3 197.6,304.5 C199.8,303.7 202.0,303.0 204.2,301.9 C206.4,300.8 208.9,299.3 210.7,298.0 C212.5,296.7 213.8,295.4 215.0,294.3 C216.2,293.2 216.9,293.0 218.1,291.7 C219.3,290.4 221.0,288.1 222.3,286.5 C223.6,284.9 224.8,283.7 225.8,282.1 C226.8,280.5 227.6,278.8 228.3,277.1 C229.0,275.4 229.6,273.7 230.2,272.0 C230.8,270.3 231.4,268.7 232.0,267.0 C232.6,265.3 233.2,264.0 233.9,262.0 C234.7,260.0 235.7,257.4 236.5,255.0 C237.3,252.6 238.2,249.9 238.9,247.4 C239.6,244.9 240.2,242.4 240.8,239.9 C241.4,237.4 242.0,234.9 242.7,232.4 C243.4,229.9 244.4,226.9 245.1,224.8 C245.8,222.7 246.3,221.6 247.0,219.6 C247.7,217.6 248.5,215.2 249.2,213.0 C249.9,210.8 250.7,208.8 251.4,206.4 C252.1,204.0 252.8,201.3 253.6,198.7 C254.4,196.1 255.1,193.7 256.2,191.0 C257.3,188.3 258.8,185.3 260.1,182.3 C261.5,179.3 263.1,176.1 264.3,172.8 C265.5,169.5 266.4,165.5 267.5,162.4 C268.6,159.3 269.4,156.3 270.6,154.0 C271.8,151.7 273.6,149.9 274.8,148.7 C276.0,147.5 276.8,146.6 277.9,146.6 C278.9,146.6 279.9,147.6 281.1,148.7 C282.3,149.8 284.0,151.8 285.3,152.9 C286.6,154.0 288.0,153.8 289.0,155.0 C290.0,156.2 290.6,157.9 291.5,160.3 C292.4,162.8 293.6,167.1 294.7,169.7 C295.8,172.3 296.6,173.1 297.8,176.0 C299.0,178.9 300.7,184.2 301.9,187.3 C303.1,190.4 303.9,192.9 305.0,194.7 C306.1,196.4 307.0,196.2 308.2,197.8 C309.4,199.4 311.0,202.5 312.4,204.1 C313.8,205.7 315.1,206.3 316.5,207.2 C317.9,208.1 318.9,208.8 320.8,209.6 C322.7,210.4 324.5,211.2 328.1,211.8 C332.0,212.4 336.1,213.3 344.2,213.2 C358.7,213.0 389.0,211.4 415.0,210.8 C441.0,210.2 457.5,210.0 500.0,209.8 C543.1,209.6 644.7,209.6 673.6,209.6" stroke="#2F4FA8"/>
<path d="M117.7,307.3 C128.1,307.3 169.3,307.3 180.0,307.3 C181.1,307.3 181.1,307.3 182.1,307.2 C183.2,307.1 184.7,307.0 186.3,306.6 C187.9,306.2 189.8,305.6 191.5,304.6 C193.2,303.6 195.2,302.1 196.8,300.4 C198.4,298.6 199.7,296.4 200.9,294.1 C202.1,291.8 203.1,289.4 204.1,286.8 C205.1,284.2 205.9,281.2 206.7,278.4 C207.5,275.6 208.0,273.8 208.8,270.0 C209.7,266.2 210.7,260.7 211.8,255.7 C213.0,250.7 214.5,245.4 215.7,240.0 C216.9,234.6 218.1,228.7 219.2,223.0 C220.3,217.3 221.3,212.5 222.3,205.8 C223.3,199.1 224.3,190.6 225.4,183.0 C226.5,175.4 228.0,166.0 229.1,160.0 C230.2,154.0 231.0,150.8 232.0,147.0 C233.0,143.2 234.0,140.7 235.0,137.2 C236.0,133.7 236.9,128.5 238.1,126.0 C239.3,123.5 240.9,122.3 242.3,122.1 C243.7,121.9 245.3,123.2 246.5,124.7 C247.7,126.2 248.6,128.5 249.7,130.9 C250.8,133.3 251.8,136.2 252.8,139.3 C253.8,142.5 254.8,146.5 255.9,149.8 C256.9,153.1 258.1,156.1 259.1,159.2 C260.2,162.3 261.1,165.6 262.2,168.6 C263.2,171.6 264.4,174.4 265.4,177.0 C266.4,179.6 267.5,182.1 268.4,184.2 C269.2,186.3 269.6,188.0 270.5,189.4 C271.4,190.8 272.7,191.6 273.6,192.6 C274.5,193.6 274.9,194.6 275.7,195.7 C276.5,196.8 277.4,198.5 278.3,199.4 C279.2,200.3 280.0,200.1 280.9,200.9 C281.8,201.7 282.6,203.2 283.6,204.1 C284.7,205.0 285.9,205.6 287.2,206.2 C288.5,206.8 289.9,207.2 291.4,207.7 C292.9,208.2 295.1,208.7 296.0,209.1 C296.5,209.3 296.7,209.7 297.0,209.9 C297.3,210.1 297.7,210.1 298.0,210.1 C298.3,210.1 298.7,209.9 299.0,209.8 C299.3,209.7 299.7,209.5 300.0,209.5 C300.3,209.5 300.7,209.5 301.0,209.7 C301.3,209.8 301.7,210.1 302.0,210.4 C302.3,210.6 302.7,210.9 303.0,211.0 C303.3,211.2 303.7,211.3 304.0,211.3 C304.3,211.2 304.7,211.1 305.0,211.0 C305.3,210.9 305.7,210.6 306.0,210.6 C306.3,210.5 306.7,210.6 307.0,210.7 C307.3,210.8 307.7,211.0 308.0,211.2 C308.3,211.4 308.7,211.7 309.0,211.9 C309.3,212.0 309.7,212.1 310.0,212.1 C310.3,212.1 310.7,212.0 311.0,211.9 C311.3,211.7 311.7,211.5 312.0,211.5 C312.3,211.4 312.7,211.4 313.0,211.4 C313.3,211.5 313.7,211.7 314.0,211.9 C314.3,212.0 314.7,212.3 315.0,212.5 C315.3,212.6 315.7,212.7 316.0,212.7 C316.3,212.7 316.7,212.6 317.0,212.4 C317.3,212.3 317.7,212.1 318.0,212.0 C318.3,211.9 318.7,211.9 319.0,211.9 C319.3,212.0 319.7,212.1 320.0,212.3 C320.3,212.4 320.7,212.7 321.0,212.8 C321.3,212.9 321.7,213.0 322.0,213.0 C322.3,213.0 322.7,212.8 323.0,212.7 C323.3,212.5 323.7,212.3 324.0,212.2 C324.3,212.0 324.7,211.9 325.0,211.9 C325.3,211.9 325.7,212.0 326.0,212.2 C326.3,212.3 326.7,212.5 327.0,212.6 C327.3,212.7 327.7,212.9 328.0,212.9 C328.3,212.9 328.7,212.7 329.0,212.6 C329.3,212.5 329.7,212.2 330.0,212.1 C330.3,212.0 330.7,211.9 331.0,211.8 C331.3,211.8 331.7,211.9 332.0,212.0 C332.3,212.1 332.7,212.4 333.0,212.5 C333.3,212.6 333.7,212.7 334.0,212.7 C334.3,212.7 334.7,212.7 335.0,212.5 C335.3,212.4 335.7,212.2 336.0,212.1 C336.3,211.9 336.7,211.8 337.0,211.8 C337.3,211.7 337.7,211.8 338.0,211.9 C338.3,212.0 338.7,212.2 339.0,212.3 C339.3,212.4 339.7,212.6 340.0,212.6 C340.3,212.6 340.7,212.6 341.0,212.5 C341.3,212.4 341.7,212.2 342.0,212.0 C342.3,211.9 342.7,211.7 343.0,211.7 C343.3,211.6 343.7,211.7 344.0,211.8 C344.3,211.9 344.7,212.1 345.0,212.2 C345.3,212.3 345.7,212.4 346.0,212.5 C346.3,212.5 346.7,212.4 347.0,212.3 C347.3,212.2 347.7,212.0 348.0,211.9 C348.3,211.8 348.7,211.6 349.0,211.5 C349.3,211.5 349.7,211.5 350.0,211.6 C350.3,211.6 350.7,211.8 351.0,211.9 C351.3,212.0 351.7,212.2 352.0,212.2 C352.3,212.3 352.7,212.2 353.0,212.1 C353.3,212.1 353.7,211.9 354.0,211.7 C354.3,211.6 354.7,211.4 355.0,211.4 C355.3,211.3 355.7,211.3 356.0,211.3 C356.3,211.4 356.7,211.6 357.0,211.7 C357.3,211.8 357.7,211.9 358.0,212.0 C358.3,212.0 358.7,212.0 359.0,212.0 C359.3,211.9 359.7,211.7 360.0,211.6 C360.3,211.5 360.7,211.3 361.0,211.2 C361.3,211.1 361.7,211.1 362.0,211.1 C362.3,211.2 362.7,211.3 363.0,211.4 C363.3,211.5 363.7,211.7 364.0,211.7 C364.3,211.8 364.7,211.8 365.0,211.7 C365.3,211.7 365.7,211.5 366.0,211.4 C366.3,211.3 366.7,211.1 367.0,211.0 C367.3,210.9 367.7,210.9 368.0,210.9 C368.3,210.9 368.7,211.1 369.0,211.2 C369.3,211.3 369.7,211.4 370.0,211.5 C370.3,211.6 370.7,211.6 371.0,211.5 C371.3,211.5 371.7,211.4 372.0,211.2 C372.3,211.1 372.7,210.9 373.0,210.9 C373.3,210.8 373.7,210.7 374.0,210.7 C374.3,210.7 374.7,210.8 375.0,210.9 C375.3,211.0 375.7,211.2 376.0,211.2 C376.3,211.3 376.7,211.4 377.0,211.3 C377.3,211.3 377.7,211.2 378.0,211.1 C378.3,211.0 378.7,210.8 379.0,210.7 C379.3,210.6 379.7,210.5 380.0,210.5 C380.3,210.5 380.7,210.6 381.0,210.7 C381.3,210.8 381.7,210.9 382.0,211.0 C382.3,211.1 382.7,211.1 383.0,211.1 C383.3,211.1 383.7,211.0 384.0,210.9 C384.3,210.8 384.7,210.6 385.0,210.5 C385.3,210.4 385.7,210.3 386.0,210.3 C386.3,210.3 386.7,210.4 387.0,210.4 C387.3,210.5 387.7,210.7 388.0,210.7 C388.3,210.8 388.7,210.9 389.0,210.9 C389.3,210.9 389.7,210.8 390.0,210.7 C390.3,210.6 390.7,210.4 391.0,210.3 C391.3,210.2 391.7,210.1 392.0,210.1 C392.3,210.1 392.7,210.1 393.0,210.2 C393.3,210.3 393.7,210.4 394.0,210.5 C394.3,210.6 394.7,210.6 395.0,210.6 C395.3,210.6 395.7,210.6 396.0,210.5 C396.3,210.4 396.7,210.2 397.0,210.1 C397.3,210.0 397.7,209.9 398.0,209.9 C398.3,209.9 398.7,209.9 399.0,210.0 C399.3,210.0 399.7,210.2 400.0,210.2 C400.3,210.3 400.7,210.4 401.0,210.4 C401.3,210.4 401.7,210.4 402.0,210.3 C402.3,210.2 402.7,210.1 403.0,210.0 C403.3,209.9 403.7,209.7 404.0,209.7 C404.3,209.7 404.7,209.7 405.0,209.7 C405.3,209.8 405.7,209.9 406.0,210.0 C406.3,210.1 406.7,210.2 407.0,210.2 C407.3,210.2 407.7,210.1 408.0,210.1 C408.3,210.0 408.7,209.9 409.0,209.8 C409.3,209.7 409.7,209.6 410.0,209.5 C410.3,209.5 410.7,209.5 411.0,209.5 C411.3,209.5 411.7,209.7 412.0,209.7 C412.3,209.8 412.7,209.9 413.0,209.9 C413.3,210.0 413.7,209.9 414.0,209.9 C414.3,209.8 414.7,209.7 415.0,209.6 C415.3,209.5 415.7,209.4 416.0,209.3 C416.3,209.3 416.7,209.3 417.0,209.3 C417.3,209.4 417.7,209.5 418.0,209.6 C418.3,209.7 418.7,209.8 419.0,209.8 C419.3,209.9 419.7,209.9 420.0,209.8 C420.3,209.8 420.7,209.7 421.0,209.6 C421.3,209.5 421.7,209.4 422.0,209.3 C422.3,209.3 422.7,209.3 423.0,209.3 C423.3,209.3 423.7,209.5 424.0,209.5 C424.3,209.6 424.7,209.7 425.0,209.8 C425.3,209.8 425.7,209.8 426.0,209.8 C426.3,209.8 426.7,209.7 427.0,209.6 C427.3,209.5 427.7,209.4 428.0,209.3 C428.3,209.3 428.7,209.3 429.0,209.3 C429.3,209.3 429.7,209.4 430.0,209.5 C430.3,209.5 430.7,209.7 431.0,209.7 C431.3,209.8 431.7,209.8 432.0,209.8 C432.3,209.7 432.7,209.7 433.0,209.6 C433.3,209.5 433.7,209.4 434.0,209.3 C434.3,209.3 434.7,209.2 435.0,209.3 C435.3,209.3 435.7,209.4 436.0,209.4 C436.3,209.5 436.7,209.6 437.0,209.7 C437.3,209.7 437.7,209.7 438.0,209.7 C438.3,209.7 438.7,209.6 439.0,209.6 C439.3,209.5 439.7,209.4 440.0,209.3 C440.3,209.3 440.7,209.2 441.0,209.2 C441.3,209.2 441.7,209.3 442.0,209.4 C442.3,209.4 442.7,209.6 443.0,209.6 C443.3,209.7 443.7,209.7 444.0,209.7 C444.3,209.7 444.7,209.6 445.0,209.6 C445.3,209.5 445.7,209.4 446.0,209.3 C446.3,209.3 446.7,209.2 447.0,209.2 C447.3,209.2 447.7,209.3 448.0,209.3 C448.3,209.4 448.7,209.5 449.0,209.6 C449.3,209.6 449.7,209.7 450.0,209.7 C450.3,209.7 450.7,209.6 451.0,209.6 C451.3,209.5 451.7,209.4 452.0,209.3 C452.3,209.3 452.7,209.2 453.0,209.2 C453.3,209.2 453.7,209.2 454.0,209.3 C454.3,209.3 454.7,209.4 455.0,209.5 C455.3,209.6 455.7,209.6 456.0,209.6 C456.3,209.6 456.7,209.6 457.0,209.5 C457.3,209.5 457.7,209.4 458.0,209.3 C458.3,209.3 458.7,209.2 459.0,209.2 C459.3,209.2 459.7,209.2 460.0,209.2 C460.3,209.3 460.7,209.4 461.0,209.4 C461.3,209.5 461.7,209.6 462.0,209.6 C462.3,209.6 462.7,209.6 463.0,209.5 C463.3,209.5 463.7,209.4 464.0,209.3 C464.3,209.3 464.7,209.2 465.0,209.2 C465.3,209.1 465.7,209.2 466.0,209.2 C466.3,209.2 466.7,209.3 467.0,209.4 C467.3,209.5 467.7,209.5 468.0,209.5 C468.3,209.6 468.7,209.5 469.0,209.5 C469.3,209.5 469.7,209.4 470.0,209.3 C470.3,209.3 470.7,209.2 471.0,209.2 C471.3,209.1 471.7,209.1 472.0,209.2 C472.3,209.2 472.7,209.3 473.0,209.3 C473.3,209.4 473.7,209.5 474.0,209.5 C474.3,209.5 474.7,209.5 475.0,209.5 C475.3,209.4 475.7,209.4 476.0,209.3 C476.3,209.2 476.7,209.2 477.0,209.1 C477.3,209.1 477.7,209.1 478.0,209.1 C478.3,209.2 478.7,209.2 479.0,209.3 C479.3,209.4 479.7,209.4 480.0,209.5 C480.3,209.5 480.7,209.5 481.0,209.5 C481.3,209.4 481.7,209.3 482.0,209.3 C482.3,209.2 482.7,209.2 483.0,209.1 C483.3,209.1 483.7,209.1 484.0,209.1 C484.3,209.1 484.7,209.2 485.0,209.3 C485.3,209.3 485.7,209.4 486.0,209.4 C486.3,209.4 486.7,209.5 487.0,209.4 C487.3,209.4 487.7,209.3 488.0,209.3 C488.3,209.2 488.7,209.1 489.0,209.1 C489.3,209.1 489.7,209.1 490.0,209.1 C490.3,209.1 490.7,209.2 491.0,209.2 C491.3,209.3 491.7,209.3 492.0,209.4 C492.3,209.4 492.7,209.4 493.0,209.4 C493.3,209.4 493.7,209.3 494.0,209.3 C494.3,209.2 494.7,209.1 495.0,209.1 C495.3,209.1 495.7,209.0 496.0,209.1 C496.3,209.1 496.7,209.1 497.0,209.2 C497.3,209.2 497.7,209.3 498.0,209.3 C498.3,209.4 498.7,209.4 499.0,209.4 C499.3,209.4 499.7,209.3 500.0,209.3 C500.3,209.2 500.7,209.1 501.0,209.1 C501.3,209.1 501.7,209.0 502.0,209.0 C502.3,209.0 502.7,209.1 503.0,209.1 C503.3,209.2 503.7,209.3 504.0,209.3 C504.3,209.3 504.7,209.4 505.0,209.4 C505.3,209.4 505.7,209.3 506.0,209.3 C506.3,209.2 506.7,209.1 507.0,209.1 C507.3,209.1 507.7,209.0 508.0,209.0 C508.3,209.0 508.7,209.1 509.0,209.1 C509.3,209.2 509.7,209.2 510.0,209.3 C510.3,209.3 510.7,209.3 511.0,209.4 C511.3,209.4 511.7,209.3 512.0,209.3 C512.3,209.2 512.7,209.2 513.0,209.1 C513.3,209.1 513.7,209.0 514.0,209.0 C514.3,209.0 514.7,209.1 515.0,209.1 C515.3,209.1 515.7,209.2 516.0,209.3 C516.3,209.3 516.7,209.3 517.0,209.3 C517.3,209.3 517.7,209.3 518.0,209.3 C518.3,209.2 518.7,209.2 519.0,209.1 C519.3,209.1 519.7,209.1 520.0,209.0 C520.3,209.0 520.7,209.1 521.0,209.1 C521.3,209.1 521.7,209.2 522.0,209.2 C522.3,209.3 522.7,209.3 523.0,209.3 C523.3,209.3 523.7,209.3 524.0,209.3 C524.3,209.3 524.7,209.2 525.0,209.1 C525.3,209.1 525.7,209.1 526.0,209.0 C526.3,209.0 526.7,209.1 527.0,209.1 C527.3,209.1 527.7,209.2 528.0,209.2 C528.3,209.3 528.7,209.3 529.0,209.3 C529.3,209.3 529.7,209.3 530.0,209.3 C530.3,209.3 530.7,209.2 531.0,209.2 C531.3,209.1 531.7,209.1 532.0,209.1 C532.3,209.0 532.7,209.0 533.0,209.1 C533.3,209.1 533.7,209.2 534.0,209.2 C534.3,209.2 534.7,209.3 535.0,209.3 C535.3,209.3 535.7,209.3 536.0,209.3 C536.3,209.3 536.7,209.2 537.0,209.2 C537.3,209.1 537.7,209.1 538.0,209.1 C538.3,209.0 538.7,209.0 539.0,209.1 C539.3,209.1 539.7,209.1 540.0,209.2 C540.3,209.2 540.7,209.3 541.0,209.3 C541.3,209.3 541.7,209.3 542.0,209.3 C542.3,209.3 542.7,209.2 543.0,209.2 C543.3,209.1 543.7,209.1 544.0,209.1 C544.3,209.0 544.7,209.0 545.0,209.1 C545.3,209.1 545.7,209.1 546.0,209.2 C546.3,209.2 546.7,209.3 547.0,209.3 C547.3,209.3 547.7,209.3 548.0,209.3 C548.3,209.3 548.7,209.2 549.0,209.2 C549.3,209.2 549.7,209.1 550.0,209.1 C550.3,209.1 550.7,209.0 551.0,209.1 C551.3,209.1 551.7,209.1 552.0,209.1 C552.3,209.2 552.7,209.2 553.0,209.3 C553.3,209.3 553.7,209.3 554.0,209.3 C554.3,209.3 554.7,209.2 555.0,209.2 C555.3,209.2 555.7,209.1 556.0,209.1 C556.3,209.1 556.7,209.0 557.0,209.1 C557.3,209.1 557.7,209.1 558.0,209.1 C558.3,209.2 558.7,209.2 559.0,209.2 C559.3,209.3 559.5,209.3 560.0,209.3 C579.1,209.3 654.7,209.1 673.6,209.1" stroke="#DE3A2A"/>
<path d="M117.7,307.3 C127.6,307.3 166.9,307.3 177.3,307.3 C178.7,307.3 179.0,307.4 180.0,307.2 C181.0,307.0 182.0,306.9 183.1,306.1 C184.2,305.3 185.3,304.1 186.3,302.5 C187.3,300.9 188.2,298.5 188.9,296.2 C189.6,293.9 190.1,291.4 190.5,288.8 C190.9,286.2 191.1,283.6 191.5,280.5 C191.9,277.4 192.7,272.8 193.1,270.0 C193.5,267.2 193.6,265.9 194.1,263.5 C194.6,261.0 195.3,258.7 196.2,255.2 C197.1,251.7 198.2,246.8 199.4,242.6 C200.6,238.4 202.2,234.0 203.5,230.0 C204.8,226.0 206.0,222.6 207.1,218.6 C208.2,214.6 208.9,210.4 209.8,205.8 C210.7,201.2 211.7,195.5 212.6,191.2 C213.5,186.9 214.4,182.9 215.3,180.2 C216.2,177.4 217.1,176.2 218.1,174.7 C219.1,173.2 220.2,171.6 221.3,171.2 C222.4,170.8 223.4,171.8 224.5,172.5 C225.6,173.2 227.0,174.3 228.1,175.6 C229.2,176.9 230.0,178.2 230.9,180.2 C231.8,182.2 232.5,184.8 233.6,187.5 C234.7,190.2 236.1,193.2 237.3,196.6 C238.5,199.9 239.9,204.7 241.0,207.6 C242.1,210.5 242.7,211.5 243.6,213.8 C244.5,216.1 245.3,219.0 246.3,221.3 C247.3,223.6 248.4,225.8 249.4,227.6 C250.4,229.4 251.4,230.9 252.6,232.3 C253.8,233.7 255.4,234.8 256.8,235.9 C258.2,237.0 259.3,238.1 260.9,239.1 C262.5,240.1 264.4,240.9 266.2,241.7 C267.9,242.5 269.7,243.2 271.4,243.8 C273.1,244.4 274.9,244.8 276.6,245.2 C278.4,245.6 280.1,245.9 281.9,246.2 C283.6,246.5 285.4,246.7 287.1,246.9 C288.9,247.2 290.5,247.5 292.4,247.7 C294.3,247.9 297.3,248.1 298.6,248.2 C299.3,248.2 299.6,248.2 300.0,248.2 C300.4,248.2 300.7,248.4 301.0,248.5 C301.3,248.5 301.7,248.6 302.0,248.5 C302.3,248.5 302.7,248.4 303.0,248.3 C303.3,248.2 303.7,248.0 304.0,248.0 C304.3,247.9 304.7,247.9 305.0,247.9 C305.3,247.9 305.7,248.0 306.0,248.0 C306.3,248.1 306.7,248.3 307.0,248.4 C307.3,248.4 307.7,248.5 308.0,248.5 C308.3,248.5 308.7,248.5 309.0,248.4 C309.3,248.4 309.7,248.2 310.0,248.1 C310.3,248.0 310.7,247.9 311.0,247.9 C311.3,247.9 311.7,247.9 312.0,247.9 C312.3,248.0 312.7,248.1 313.0,248.2 C313.3,248.3 313.7,248.4 314.0,248.5 C314.3,248.5 314.7,248.5 315.0,248.5 C315.3,248.5 315.7,248.4 316.0,248.3 C316.3,248.2 316.7,248.1 317.0,248.0 C317.3,247.9 317.7,247.9 318.0,247.9 C318.3,247.9 318.7,248.0 319.0,248.1 C319.3,248.1 319.7,248.3 320.0,248.3 C320.3,248.4 320.7,248.5 321.0,248.5 C321.3,248.5 321.7,248.4 322.0,248.4 C322.3,248.3 322.7,248.1 323.0,248.1 C323.3,248.0 323.7,247.9 324.0,247.8 C324.3,247.8 324.7,247.8 325.0,247.8 C325.3,247.9 325.7,248.0 326.0,248.1 C326.3,248.1 326.7,248.2 327.0,248.3 C327.3,248.3 327.7,248.3 328.0,248.3 C328.3,248.2 328.7,248.1 329.0,248.1 C329.3,248.0 329.7,247.8 330.0,247.8 C330.3,247.7 330.7,247.7 331.0,247.7 C331.3,247.7 331.7,247.7 332.0,247.8 C332.3,247.8 332.7,248.0 333.0,248.0 C333.3,248.1 333.7,248.1 334.0,248.2 C334.3,248.2 334.7,248.1 335.0,248.0 C335.3,248.0 335.7,247.8 336.0,247.8 C336.3,247.7 336.7,247.6 337.0,247.5 C337.3,247.5 337.7,247.5 338.0,247.6 C338.3,247.6 338.7,247.7 339.0,247.8 C339.3,247.8 339.7,247.9 340.0,248.0 C340.3,248.0 340.7,248.0 341.0,248.0 C341.3,247.9 341.7,247.8 342.0,247.7 C342.3,247.7 342.7,247.6 343.0,247.5 C343.3,247.4 343.7,247.4 344.0,247.4 C344.3,247.4 344.7,247.4 345.0,247.5 C345.3,247.6 345.7,247.7 346.0,247.7 C346.3,247.8 346.7,247.8 347.0,247.8 C347.3,247.8 347.7,247.8 348.0,247.7 C348.3,247.7 348.7,247.5 349.0,247.5 C349.3,247.4 349.7,247.3 350.0,247.3 C350.3,247.2 350.7,247.2 351.0,247.3 C351.3,247.3 351.7,247.4 352.0,247.5 C352.3,247.5 352.7,247.6 353.0,247.6 C353.3,247.7 353.7,247.7 354.0,247.7 C354.3,247.6 354.7,247.5 355.0,247.5 C355.3,247.4 355.7,247.3 356.0,247.2 C356.3,247.2 356.7,247.1 357.0,247.1 C357.3,247.1 357.7,247.2 358.0,247.2 C358.3,247.3 358.7,247.4 359.0,247.4 C359.3,247.5 359.7,247.6 360.0,247.6 C360.3,247.6 360.7,247.5 361.0,247.5 C361.3,247.4 361.7,247.3 362.0,247.2 C362.3,247.2 362.7,247.1 363.0,247.1 C363.3,247.0 363.7,247.0 364.0,247.1 C364.3,247.1 364.7,247.2 365.0,247.2 C365.3,247.3 365.7,247.4 366.0,247.4 C366.3,247.4 366.7,247.4 367.0,247.4 C367.3,247.4 367.7,247.3 368.0,247.2 C368.3,247.2 368.7,247.1 369.0,247.0 C369.3,247.0 369.7,246.9 370.0,246.9 C370.3,246.9 370.7,247.0 371.0,247.0 C371.3,247.1 371.7,247.2 372.0,247.2 C372.3,247.3 372.7,247.3 373.0,247.3 C373.3,247.3 373.7,247.3 374.0,247.2 C374.3,247.2 374.7,247.1 375.0,247.0 C375.3,246.9 375.7,246.9 376.0,246.8 C376.3,246.8 376.7,246.8 377.0,246.8 C377.3,246.9 377.7,246.9 378.0,247.0 C378.3,247.0 378.7,247.1 379.0,247.1 C379.3,247.2 379.7,247.2 380.0,247.2 C380.3,247.1 380.7,247.1 381.0,247.0 C381.3,246.9 381.7,246.8 382.0,246.8 C382.3,246.7 382.7,246.7 383.0,246.7 C383.3,246.7 383.7,246.8 384.0,246.8 C384.3,246.8 384.7,246.9 385.0,247.0 C385.3,247.0 385.7,247.0 386.0,247.0 C386.3,247.0 386.7,247.0 387.0,247.0 C387.3,246.9 387.7,246.8 388.0,246.8 C388.3,246.7 388.7,246.6 389.0,246.6 C389.3,246.6 389.7,246.6 390.0,246.6 C390.3,246.6 390.7,246.7 391.0,246.8 C391.3,246.8 391.7,246.9 392.0,246.9 C392.3,246.9 392.7,246.9 393.0,246.9 C393.3,246.9 393.7,246.8 394.0,246.8 C394.3,246.7 394.7,246.6 395.0,246.6 C395.3,246.5 395.7,246.5 396.0,246.5 C396.3,246.5 396.7,246.5 397.0,246.6 C397.3,246.6 397.7,246.7 398.0,246.7 C398.3,246.8 398.7,246.8 399.0,246.8 C399.3,246.8 399.7,246.8 400.0,246.7 C400.3,246.7 400.7,246.6 401.0,246.6 C401.3,246.5 401.7,246.4 402.0,246.4 C402.3,246.4 402.7,246.4 403.0,246.4 C403.3,246.5 403.7,246.5 404.0,246.6 C404.3,246.6 404.7,246.7 405.0,246.7 C405.3,246.8 405.7,246.8 406.0,246.7 C406.3,246.7 406.7,246.7 407.0,246.6 C407.3,246.6 407.7,246.5 408.0,246.5 C408.3,246.4 408.7,246.4 409.0,246.4 C409.3,246.4 409.7,246.5 410.0,246.5 C410.3,246.5 410.7,246.6 411.0,246.6 C411.3,246.7 411.7,246.7 412.0,246.7 C412.3,246.7 412.7,246.7 413.0,246.7 C413.3,246.6 413.7,246.6 414.0,246.5 C414.3,246.5 414.7,246.4 415.0,246.4 C415.3,246.4 415.7,246.4 416.0,246.4 C416.3,246.4 416.7,246.5 417.0,246.5 C417.3,246.6 417.7,246.7 418.0,246.7 C418.3,246.7 418.7,246.7 419.0,246.7 C419.3,246.7 419.7,246.6 420.0,246.6 C420.3,246.5 420.7,246.5 421.0,246.4 C421.3,246.4 421.7,246.4 422.0,246.4 C422.3,246.4 422.7,246.4 423.0,246.5 C423.3,246.5 423.7,246.6 424.0,246.6 C424.3,246.6 424.7,246.7 425.0,246.7 C425.3,246.7 425.7,246.7 426.0,246.6 C426.3,246.6 426.7,246.5 427.0,246.5 C427.3,246.4 427.7,246.4 428.0,246.4 C428.3,246.4 428.7,246.4 429.0,246.4 C429.3,246.4 429.7,246.5 430.0,246.5 C430.3,246.5 430.7,246.6 431.0,246.6 C431.3,246.6 431.7,246.7 432.0,246.6 C432.3,246.6 432.7,246.6 433.0,246.5 C433.3,246.5 433.7,246.4 434.0,246.4 C434.3,246.4 434.7,246.3 435.0,246.4 C435.3,246.4 435.7,246.4 436.0,246.4 C436.3,246.5 436.7,246.5 437.0,246.6 C437.3,246.6 437.7,246.6 438.0,246.6 C438.3,246.6 438.7,246.6 439.0,246.6 C439.3,246.5 439.7,246.5 440.0,246.4 C440.3,246.4 440.7,246.4 441.0,246.3 C441.3,246.3 441.7,246.3 442.0,246.4 C442.3,246.4 442.7,246.4 443.0,246.5 C443.3,246.5 443.7,246.6 444.0,246.6 C444.3,246.6 444.7,246.6 445.0,246.6 C445.3,246.6 445.7,246.5 446.0,246.5 C446.3,246.5 446.7,246.4 447.0,246.4 C447.3,246.3 447.7,246.3 448.0,246.3 C448.3,246.3 448.7,246.4 449.0,246.4 C449.3,246.4 449.7,246.5 450.0,246.5 C450.3,246.5 450.7,246.6 451.0,246.6 C451.3,246.6 451.7,246.6 452.0,246.5 C452.3,246.5 452.7,246.4 453.0,246.4 C453.3,246.4 453.7,246.3 454.0,246.3 C454.3,246.3 454.7,246.3 455.0,246.3 C455.3,246.4 455.7,246.4 456.0,246.4 C456.3,246.5 456.7,246.5 457.0,246.5 C457.3,246.5 457.7,246.6 458.0,246.5 C458.3,246.5 458.7,246.5 459.0,246.5 C459.3,246.4 459.7,246.4 460.0,246.3 C460.3,246.3 460.7,246.3 461.0,246.3 C461.3,246.3 461.7,246.3 462.0,246.4 C462.3,246.4 462.7,246.4 463.0,246.5 C463.3,246.5 463.7,246.5 464.0,246.5 C464.3,246.5 464.7,246.5 465.0,246.5 C465.3,246.5 465.7,246.4 466.0,246.4 C466.3,246.3 466.7,246.3 467.0,246.3 C467.3,246.3 467.7,246.3 468.0,246.3 C468.3,246.3 468.7,246.4 469.0,246.4 C469.3,246.4 469.7,246.5 470.0,246.5 C470.3,246.5 470.7,246.5 471.0,246.5 C471.3,246.5 471.7,246.4 472.0,246.4 C472.3,246.4 472.7,246.3 473.0,246.3 C473.3,246.3 473.7,246.3 474.0,246.3 C474.3,246.3 474.7,246.3 475.0,246.3 C475.3,246.3 475.7,246.4 476.0,246.4 C476.3,246.4 476.7,246.5 477.0,246.5 C477.3,246.5 477.7,246.5 478.0,246.4 C478.3,246.4 478.7,246.4 479.0,246.3 C479.3,246.3 479.7,246.3 480.0,246.3 C480.3,246.3 480.7,246.3 481.0,246.3 C481.3,246.3 481.7,246.3 482.0,246.4 C482.3,246.4 482.7,246.4 483.0,246.4 C483.3,246.5 483.7,246.5 484.0,246.4 C484.3,246.4 484.7,246.4 485.0,246.4 C485.3,246.3 485.7,246.3 486.0,246.3 C486.3,246.3 486.7,246.2 487.0,246.2 C487.3,246.2 487.7,246.3 488.0,246.3 C488.3,246.3 488.7,246.4 489.0,246.4 C489.3,246.4 489.7,246.4 490.0,246.4 C490.3,246.4 490.7,246.4 491.0,246.4 C491.3,246.4 491.7,246.3 492.0,246.3 C492.3,246.3 492.7,246.2 493.0,246.2 C493.3,246.2 493.7,246.2 494.0,246.2 C494.3,246.3 494.7,246.3 495.0,246.3 C495.3,246.3 495.7,246.4 496.0,246.4 C496.3,246.4 496.7,246.4 497.0,246.4 C497.3,246.4 497.7,246.4 498.0,246.3 C498.3,246.3 498.7,246.3 499.0,246.2 C499.3,246.2 499.7,246.2 500.0,246.2 C500.3,246.2 500.7,246.2 501.0,246.3 C501.3,246.3 501.7,246.3 502.0,246.3 C502.3,246.4 502.7,246.4 503.0,246.4 C503.3,246.4 503.7,246.4 504.0,246.4 C504.3,246.3 504.7,246.3 505.0,246.3 C505.3,246.2 505.7,246.2 506.0,246.2 C506.3,246.2 506.7,246.2 507.0,246.2 C507.3,246.2 507.7,246.3 508.0,246.3 C508.3,246.3 508.7,246.3 509.0,246.4 C509.3,246.4 509.7,246.4 510.0,246.4 C510.3,246.4 510.7,246.3 511.0,246.3 C511.3,246.3 511.7,246.2 512.0,246.2 C512.3,246.2 512.7,246.2 513.0,246.2 C513.3,246.2 513.7,246.2 514.0,246.2 C514.3,246.3 514.7,246.3 515.0,246.3 C515.3,246.3 515.7,246.4 516.0,246.4 C516.3,246.4 516.7,246.3 517.0,246.3 C517.3,246.3 517.7,246.3 518.0,246.2 C518.3,246.2 518.7,246.2 519.0,246.2 C519.3,246.2 519.5,246.2 520.0,246.2 C545.8,246.2 648.0,246.0 673.6,246.0" stroke="#66BA2C"/>
</g>
<g stroke="#111" stroke-width="1.1">
<line x1="82.60" y1="12.00" x2="82.60" y2="1.50"/>
<line x1="82.60" y1="307.30" x2="82.60" y2="317.80"/>
<line x1="112.15" y1="12.00" x2="112.15" y2="6.50"/>
<line x1="112.15" y1="307.30" x2="112.15" y2="312.80"/>
<line x1="141.70" y1="12.00" x2="141.70" y2="6.50"/>
<line x1="141.70" y1="307.30" x2="141.70" y2="312.80"/>
<line x1="171.25" y1="12.00" x2="171.25" y2="6.50"/>
<line x1="171.25" y1="307.30" x2="171.25" y2="312.80"/>
<line x1="200.80" y1="12.00" x2="200.80" y2="6.50"/>
<line x1="200.80" y1="307.30" x2="200.80" y2="312.80"/>
<line x1="230.35" y1="12.00" x2="230.35" y2="1.50"/>
<line x1="230.35" y1="307.30" x2="230.35" y2="317.80"/>
<line x1="259.90" y1="12.00" x2="259.90" y2="6.50"/>
<line x1="259.90" y1="307.30" x2="259.90" y2="312.80"/>
<line x1="289.45" y1="12.00" x2="289.45" y2="6.50"/>
<line x1="289.45" y1="307.30" x2="289.45" y2="312.80"/>
<line x1="319.00" y1="12.00" x2="319.00" y2="6.50"/>
<line x1="319.00" y1="307.30" x2="319.00" y2="312.80"/>
<line x1="348.55" y1="12.00" x2="348.55" y2="6.50"/>
<line x1="348.55" y1="307.30" x2="348.55" y2="312.80"/>
<line x1="378.10" y1="12.00" x2="378.10" y2="1.50"/>
<line x1="378.10" y1="307.30" x2="378.10" y2="317.80"/>
<line x1="407.65" y1="12.00" x2="407.65" y2="6.50"/>
<line x1="407.65" y1="307.30" x2="407.65" y2="312.80"/>
<line x1="437.20" y1="12.00" x2="437.20" y2="6.50"/>
<line x1="437.20" y1="307.30" x2="437.20" y2="312.80"/>
<line x1="466.75" y1="12.00" x2="466.75" y2="6.50"/>
<line x1="466.75" y1="307.30" x2="466.75" y2="312.80"/>
<line x1="496.30" y1="12.00" x2="496.30" y2="6.50"/>
<line x1="496.30" y1="307.30" x2="496.30" y2="312.80"/>
<line x1="525.85" y1="12.00" x2="525.85" y2="1.50"/>
<line x1="525.85" y1="307.30" x2="525.85" y2="317.80"/>
<line x1="555.40" y1="12.00" x2="555.40" y2="6.50"/>
<line x1="555.40" y1="307.30" x2="555.40" y2="312.80"/>
<line x1="584.95" y1="12.00" x2="584.95" y2="6.50"/>
<line x1="584.95" y1="307.30" x2="584.95" y2="312.80"/>
<line x1="614.50" y1="12.00" x2="614.50" y2="6.50"/>
<line x1="614.50" y1="307.30" x2="614.50" y2="312.80"/>
<line x1="644.05" y1="12.00" x2="644.05" y2="6.50"/>
<line x1="644.05" y1="307.30" x2="644.05" y2="312.80"/>
<line x1="673.60" y1="12.00" x2="673.60" y2="1.50"/>
<line x1="673.60" y1="307.30" x2="673.60" y2="317.80"/>
<line x1="82.60" y1="307.30" x2="72.10" y2="307.30"/>
<line x1="673.60" y1="307.30" x2="684.10" y2="307.30"/>
<line x1="82.60" y1="277.77" x2="77.10" y2="277.77"/>
<line x1="673.60" y1="277.77" x2="679.10" y2="277.77"/>
<line x1="82.60" y1="248.24" x2="72.10" y2="248.24"/>
<line x1="673.60" y1="248.24" x2="684.10" y2="248.24"/>
<line x1="82.60" y1="218.71" x2="77.10" y2="218.71"/>
<line x1="673.60" y1="218.71" x2="679.10" y2="218.71"/>
<line x1="82.60" y1="189.18" x2="72.10" y2="189.18"/>
<line x1="673.60" y1="189.18" x2="684.10" y2="189.18"/>
<line x1="82.60" y1="159.65" x2="77.10" y2="159.65"/>
<line x1="673.60" y1="159.65" x2="679.10" y2="159.65"/>
<line x1="82.60" y1="130.12" x2="72.10" y2="130.12"/>
<line x1="673.60" y1="130.12" x2="684.10" y2="130.12"/>
<line x1="82.60" y1="100.59" x2="77.10" y2="100.59"/>
<line x1="673.60" y1="100.59" x2="679.10" y2="100.59"/>
<line x1="82.60" y1="71.06" x2="72.10" y2="71.06"/>
<line x1="673.60" y1="71.06" x2="684.10" y2="71.06"/>
<line x1="82.60" y1="41.53" x2="77.10" y2="41.53"/>
<line x1="673.60" y1="41.53" x2="679.10" y2="41.53"/>
<line x1="82.60" y1="12.00" x2="72.10" y2="12.00"/>
<line x1="673.60" y1="12.00" x2="684.10" y2="12.00"/>
</g>
<g class="t">
<g font-size="23.6" fill="#111">
<text transform="translate(62.4,316.1) scale(0.97,1)" text-anchor="end">0</text>
<text transform="translate(62.4,257.0) scale(0.97,1)" text-anchor="end">10</text>
<text transform="translate(62.4,198.0) scale(0.97,1)" text-anchor="end">20</text>
<text transform="translate(62.4,138.9) scale(0.97,1)" text-anchor="end">30</text>
<text transform="translate(62.4,79.9) scale(0.97,1)" text-anchor="end">40</text>
<text transform="translate(62.4,20.8) scale(0.97,1)" text-anchor="end">50</text>
<text transform="translate(82.9,344.9) scale(0.97,1)" text-anchor="middle">0</text>
<text transform="translate(230.7,344.9) scale(0.97,1)" text-anchor="middle">5</text>
<text transform="translate(378.4,344.9) scale(0.97,1)" text-anchor="middle">10</text>
<text transform="translate(526.1,344.9) scale(0.97,1)" text-anchor="middle">15</text>
<text transform="translate(673.9,344.9) scale(0.97,1)" text-anchor="middle">20</text>
</g>
<text x="341.4" y="376.7" font-size="23.7" fill="#111" textLength="76.5" lengthAdjust="spacingAndGlyphs">Time (s)</text>
<text transform="translate(21.8,295.3) rotate(-90)" font-size="24.5" fill="#111" textLength="271" lengthAdjust="spacingAndGlyphs">Vertical Displacement (cm)</text>
<text x="526.6" y="49.8" font-size="22.6" fill="#F4983A" textLength="100" lengthAdjust="spacingAndGlyphs">ISK001UD</text>
<text x="527" y="107.9" font-size="20" fill="#2F4FA8" textLength="80" lengthAdjust="spacingAndGlyphs">79<tspan dy="-2.5">_</tspan><tspan dy="2.5">00011</tspan></text>
<text x="527" y="136.8" font-size="20" fill="#DE3A2A" textLength="80" lengthAdjust="spacingAndGlyphs">79<tspan dy="-2.5">_</tspan><tspan dy="2.5">00021</tspan></text>
<text x="527" y="166.3" font-size="20" fill="#66BA2C" textLength="80" lengthAdjust="spacingAndGlyphs">79<tspan dy="-2.5">_</tspan><tspan dy="2.5">00031</tspan></text>
</g>
</svg>
</body></html>
